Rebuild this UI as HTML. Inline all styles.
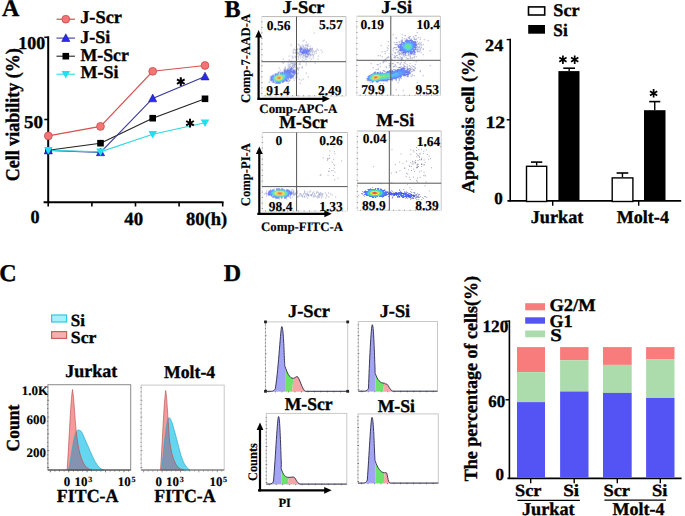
<!DOCTYPE html>
<html><head><meta charset="utf-8"><style>
html,body{margin:0;padding:0;background:#fff;overflow:hidden;width:685px;height:516px;}
svg{display:block;}
text{font-family:"Liberation Serif",serif;font-weight:bold;text-rendering:geometricPrecision;stroke:#000;stroke-width:0.35px;}
</style></head><body>
<svg width="685" height="516" viewBox="0 0 685 516">
<rect width="685" height="516" fill="#fff"/>
<text x="2.06" y="15.80" font-size="24" fill="#000" >A</text>
<line x1="48.2" y1="36.5" x2="48.2" y2="202.8" stroke="#000" stroke-width="2" />
<line x1="44.3" y1="37.3" x2="49" y2="37.3" stroke="#000" stroke-width="1.6" />
<line x1="44.3" y1="119.5" x2="49" y2="119.5" stroke="#000" stroke-width="1.6" />
<line x1="43.6" y1="202.2" x2="223.5" y2="202.2" stroke="#000" stroke-width="2" />
<line x1="48.2" y1="202" x2="48.2" y2="206.5" stroke="#000" stroke-width="1.6" />
<line x1="91.9" y1="202" x2="91.9" y2="206.5" stroke="#000" stroke-width="1.6" />
<line x1="135.5" y1="202" x2="135.5" y2="206.5" stroke="#000" stroke-width="1.6" />
<line x1="179.1" y1="202" x2="179.1" y2="206.5" stroke="#000" stroke-width="1.6" />
<line x1="222.7" y1="202" x2="222.7" y2="206.5" stroke="#000" stroke-width="1.6" />
<text transform="translate(18.37,49.10) scale(0.994,1)" font-size="18" fill="#000" >100</text>
<text transform="translate(23.94,128.20) scale(1.057,1)" font-size="18" fill="#000" >50</text>
<text transform="translate(30.48,222.60) scale(0.978,1)" font-size="18.5" fill="#000" >0</text>
<text transform="translate(124.21,225.00) scale(1.018,1)" font-size="18.5" fill="#000" >40</text>
<text x="186.05" y="225.00" font-size="18.5" fill="#000" >80(h)</text>
<text x="0" y="0" font-size="18" transform="translate(19.20,181.30) rotate(-90) scale(1,1.08)">Cell viability (%)</text>
<polyline points="48.3,135.9 100.5,126.4 152.7,71.3 205,65.5" fill="none" stroke="#d85050" stroke-width="1.15"/>
<polyline points="48.3,150.3 100.5,143.2 152.7,118.2 205,98.8" fill="none" stroke="#222" stroke-width="1.15"/>
<polyline points="48.3,150.5 100.5,152.3 152.7,98.4 205,76.5" fill="none" stroke="#3a3a9a" stroke-width="1.15"/>
<polyline points="48.3,150.3 100.5,151.8 152.7,134.3 205,122.7" fill="none" stroke="#30d8e0" stroke-width="1.15"/>
<circle cx="48.3" cy="135.9" r="3.9" fill="#f27676" stroke="#c84a4a" stroke-width="0.8"/>
<circle cx="100.5" cy="126.4" r="3.9" fill="#f27676" stroke="#c84a4a" stroke-width="0.8"/>
<circle cx="152.7" cy="71.3" r="3.9" fill="#f27676" stroke="#c84a4a" stroke-width="0.8"/>
<circle cx="205" cy="65.5" r="3.9" fill="#f27676" stroke="#c84a4a" stroke-width="0.8"/>
<rect x="45.0" y="147.0" width="6.6" height="6.6" fill="#000"/>
<rect x="97.2" y="139.89999999999998" width="6.6" height="6.6" fill="#000"/>
<rect x="149.39999999999998" y="114.9" width="6.6" height="6.6" fill="#000"/>
<rect x="201.7" y="95.5" width="6.6" height="6.6" fill="#000"/>
<path d="M48.3,146.2 L52.4,153.9 L44.199999999999996,153.9Z" fill="#2a2aee" stroke="#1c1c80" stroke-width="0.6" stroke-linejoin="round"/>
<path d="M100.5,148.0 L104.6,155.70000000000002 L96.4,155.70000000000002Z" fill="#2a2aee" stroke="#1c1c80" stroke-width="0.6" stroke-linejoin="round"/>
<path d="M152.7,94.10000000000001 L156.79999999999998,101.80000000000001 L148.6,101.80000000000001Z" fill="#2a2aee" stroke="#1c1c80" stroke-width="0.6" stroke-linejoin="round"/>
<path d="M205,72.2 L209.1,79.9 L200.9,79.9Z" fill="#2a2aee" stroke="#1c1c80" stroke-width="0.6" stroke-linejoin="round"/>
<path d="M48.3,154.5 L52.599999999999994,147.0 L44.0,147.0Z" fill="#20e0f0"/>
<path d="M100.5,156.0 L104.8,148.5 L96.2,148.5Z" fill="#20e0f0"/>
<path d="M152.7,138.5 L157.0,131.0 L148.39999999999998,131.0Z" fill="#20e0f0"/>
<path d="M205,126.9 L209.3,119.4 L200.7,119.4Z" fill="#20e0f0"/>
<line x1="56.5" y1="19.2" x2="74.9" y2="19.2" stroke="#b84848" stroke-width="1.1" />
<circle cx="65.8" cy="19.2" r="3.9" fill="#f27676" stroke="#c84a4a" stroke-width="0.8"/>
<line x1="56.5" y1="38.1" x2="74.9" y2="38.1" stroke="#3a3a9a" stroke-width="1.1" />
<path d="M65.8,33.800000000000004 L69.89999999999999,41.5 L61.699999999999996,41.5Z" fill="#2a2aee" stroke="#1c1c80" stroke-width="0.6" stroke-linejoin="round"/>
<line x1="56.5" y1="56.2" x2="74.9" y2="56.2" stroke="#222" stroke-width="1.1" />
<rect x="62.5" y="52.900000000000006" width="6.6" height="6.6" fill="#000"/>
<line x1="56.5" y1="74.2" x2="74.9" y2="74.2" stroke="#30d8e0" stroke-width="1.1" />
<path d="M65.8,78.4 L70.1,70.9 L61.5,70.9Z" fill="#20e0f0"/>
<text transform="translate(80.17,23.30) scale(1.021,1)" font-size="18" fill="#000" >J-Scr</text>
<text x="80.18" y="43.00" font-size="18" fill="#000" >J-Si</text>
<text transform="translate(80.54,60.80) scale(0.987,1)" font-size="18" fill="#000" >M-Scr</text>
<text x="80.54" y="77.90" font-size="18" fill="#000" >M-Si</text>
<path d="M180.80,86.00 L180.80,77.20 M176.99,83.80 L184.61,79.40 M176.99,79.40 L184.61,83.80 " stroke="#000" stroke-width="2.0" stroke-linecap="butt"/>
<path d="M190.00,127.60 L190.00,118.80 M186.19,125.40 L193.81,121.00 M186.19,121.00 L193.81,125.40 " stroke="#000" stroke-width="2.0" stroke-linecap="butt"/>
<text x="224.52" y="16.60" font-size="24" fill="#000" >B</text>
<rect x="261.70" y="16.60" width="84.30" height="79.40" fill="#fff" stroke="none" stroke-width="0" />
<line x1="261.7" y1="16.6" x2="346" y2="16.6" stroke="#b8b8b8" stroke-width="1" />
<line x1="346" y1="16.6" x2="346" y2="96" stroke="#c8c8c8" stroke-width="1" />
<line x1="261.7" y1="16.6" x2="261.7" y2="96" stroke="#e4e4e4" stroke-width="1" />
<line x1="261.7" y1="96" x2="346" y2="96" stroke="#e4e4e4" stroke-width="1" />
<rect x="261.2" y="93.0" width="1.4" height="0.8" fill="#909090"/>
<rect x="261.2" y="87.5" width="1.4" height="0.8" fill="#909090"/>
<rect x="261.2" y="82.0" width="1.4" height="0.8" fill="#909090"/>
<rect x="261.2" y="76.5" width="1.4" height="0.8" fill="#909090"/>
<rect x="261.2" y="71.0" width="1.4" height="0.8" fill="#909090"/>
<rect x="261.2" y="65.5" width="1.4" height="0.8" fill="#909090"/>
<rect x="261.2" y="60.0" width="1.4" height="0.8" fill="#909090"/>
<rect x="261.2" y="54.5" width="1.4" height="0.8" fill="#909090"/>
<rect x="261.2" y="49.0" width="1.4" height="0.8" fill="#909090"/>
<rect x="261.2" y="43.5" width="1.4" height="0.8" fill="#909090"/>
<rect x="261.2" y="38.0" width="1.4" height="0.8" fill="#909090"/>
<rect x="261.2" y="32.5" width="1.4" height="0.8" fill="#909090"/>
<rect x="261.2" y="27.0" width="1.4" height="0.8" fill="#909090"/>
<rect x="261.2" y="21.5" width="1.4" height="0.8" fill="#909090"/>
<rect x="264.7" y="95.0" width="0.8" height="1.4" fill="#a0a0a0"/>
<rect x="270.2" y="95.0" width="0.8" height="1.4" fill="#a0a0a0"/>
<rect x="275.7" y="95.0" width="0.8" height="1.4" fill="#a0a0a0"/>
<rect x="281.2" y="95.0" width="0.8" height="1.4" fill="#a0a0a0"/>
<rect x="286.7" y="95.0" width="0.8" height="1.4" fill="#a0a0a0"/>
<rect x="292.2" y="95.0" width="0.8" height="1.4" fill="#a0a0a0"/>
<rect x="297.7" y="95.0" width="0.8" height="1.4" fill="#a0a0a0"/>
<rect x="303.2" y="95.0" width="0.8" height="1.4" fill="#a0a0a0"/>
<rect x="308.7" y="95.0" width="0.8" height="1.4" fill="#a0a0a0"/>
<rect x="314.2" y="95.0" width="0.8" height="1.4" fill="#a0a0a0"/>
<rect x="319.7" y="95.0" width="0.8" height="1.4" fill="#a0a0a0"/>
<rect x="325.2" y="95.0" width="0.8" height="1.4" fill="#a0a0a0"/>
<rect x="330.7" y="95.0" width="0.8" height="1.4" fill="#a0a0a0"/>
<rect x="336.2" y="95.0" width="0.8" height="1.4" fill="#a0a0a0"/>
<rect x="341.7" y="95.0" width="0.8" height="1.4" fill="#a0a0a0"/>
<rect x="313.7" y="32.6" width="1" height="1" fill="#4650a0" fill-opacity="0.5"/>
<rect x="303.7" y="39.6" width="1" height="1" fill="#4650a0" fill-opacity="0.5"/>
<rect x="302.7" y="40.6" width="1" height="1" fill="#4650a0" fill-opacity="0.5"/>
<rect x="305.7" y="41.6" width="1" height="1" fill="#4650a0" fill-opacity="0.5"/>
<rect x="297.7" y="43.6" width="1" height="1" fill="#4650a0" fill-opacity="0.5"/>
<rect x="307.7" y="43.6" width="1" height="1" fill="#4650a0" fill-opacity="0.5"/>
<rect x="290.7" y="44.6" width="1" height="1" fill="#4650a0" fill-opacity="0.5"/>
<rect x="298.7" y="44.6" width="1" height="1" fill="#4650a0" fill-opacity="0.5"/>
<rect x="301.7" y="44.6" width="1" height="1" fill="#4650a0" fill-opacity="0.5"/>
<rect x="304.7" y="44.6" width="2" height="1" fill="#4650a0" fill-opacity="0.5"/>
<rect x="306.7" y="44.6" width="1" height="1" fill="#4650a0" fill-opacity="0.7"/>
<rect x="299.7" y="45.6" width="1" height="1" fill="#4650a0" fill-opacity="0.5"/>
<rect x="302.7" y="45.6" width="1" height="1" fill="#4650a0" fill-opacity="0.7"/>
<rect x="306.7" y="45.6" width="2" height="1" fill="#4650a0" fill-opacity="0.5"/>
<rect x="309.7" y="45.6" width="1" height="1" fill="#4650a0" fill-opacity="0.5"/>
<rect x="295.7" y="46.6" width="1" height="1" fill="#4650a0" fill-opacity="0.5"/>
<rect x="299.7" y="46.6" width="2" height="1" fill="#4650a0" fill-opacity="0.5"/>
<rect x="302.7" y="46.6" width="1" height="1" fill="#4650a0" fill-opacity="0.5"/>
<rect x="304.7" y="46.6" width="1" height="1" fill="#4650a0" fill-opacity="0.5"/>
<rect x="299.7" y="47.6" width="1" height="1" fill="#4650a0" fill-opacity="0.7"/>
<rect x="300.7" y="47.6" width="1" height="1" fill="#3b47eb"/>
<rect x="301.7" y="47.6" width="1" height="1" fill="#4650a0" fill-opacity="0.5"/>
<rect x="303.7" y="47.6" width="1" height="1" fill="#4650a0" fill-opacity="0.7"/>
<rect x="305.7" y="47.6" width="1" height="1" fill="#4650a0" fill-opacity="0.5"/>
<rect x="306.7" y="47.6" width="1" height="1" fill="#4650a0" fill-opacity="0.7"/>
<rect x="309.7" y="47.6" width="1" height="1" fill="#4650a0" fill-opacity="0.5"/>
<rect x="311.7" y="47.6" width="1" height="1" fill="#4650a0" fill-opacity="0.5"/>
<rect x="293.7" y="48.6" width="1" height="1" fill="#4650a0" fill-opacity="0.5"/>
<rect x="296.7" y="48.6" width="1" height="1" fill="#4650a0" fill-opacity="0.7"/>
<rect x="298.7" y="48.6" width="1" height="1" fill="#4650a0" fill-opacity="0.7"/>
<rect x="299.7" y="48.6" width="1" height="1" fill="#394aed"/>
<rect x="300.7" y="48.6" width="1" height="1" fill="#384cee"/>
<rect x="301.7" y="48.6" width="1" height="1" fill="#3a48ec"/>
<rect x="302.7" y="48.6" width="2" height="1" fill="#4650a0" fill-opacity="0.5"/>
<rect x="304.7" y="48.6" width="1" height="1" fill="#3b47eb"/>
<rect x="306.7" y="48.6" width="1" height="1" fill="#394aed"/>
<rect x="308.7" y="48.6" width="1" height="1" fill="#4650a0" fill-opacity="0.5"/>
<rect x="309.7" y="48.6" width="2" height="1" fill="#4650a0" fill-opacity="0.7"/>
<rect x="311.7" y="48.6" width="1" height="1" fill="#4650a0" fill-opacity="0.8"/>
<rect x="316.7" y="48.6" width="1" height="1" fill="#4650a0" fill-opacity="0.5"/>
<rect x="292.7" y="49.6" width="1" height="1" fill="#4650a0" fill-opacity="0.5"/>
<rect x="294.7" y="49.6" width="1" height="1" fill="#4650a0" fill-opacity="0.7"/>
<rect x="295.7" y="49.6" width="2" height="1" fill="#4650a0" fill-opacity="0.5"/>
<rect x="299.7" y="49.6" width="1" height="1" fill="#384cee"/>
<rect x="300.7" y="49.6" width="1" height="1" fill="#374fef"/>
<rect x="302.7" y="49.6" width="1" height="1" fill="#394bed"/>
<rect x="303.7" y="49.6" width="1" height="1" fill="#384cee"/>
<rect x="304.7" y="49.6" width="1" height="1" fill="#374eef"/>
<rect x="305.7" y="49.6" width="1" height="1" fill="#3651f0"/>
<rect x="306.7" y="49.6" width="1" height="1" fill="#3552f1"/>
<rect x="307.7" y="49.6" width="1" height="1" fill="#374eef"/>
<rect x="308.7" y="49.6" width="1" height="1" fill="#3a49ec"/>
<rect x="309.7" y="49.6" width="1" height="1" fill="#4650a0" fill-opacity="0.5"/>
<rect x="311.7" y="49.6" width="1" height="1" fill="#4650a0" fill-opacity="0.5"/>
<rect x="317.7" y="49.6" width="1" height="1" fill="#4650a0" fill-opacity="0.5"/>
<rect x="320.7" y="49.6" width="1" height="1" fill="#4650a0" fill-opacity="0.5"/>
<rect x="299.7" y="50.6" width="1" height="1" fill="#374eef"/>
<rect x="301.7" y="50.6" width="1" height="1" fill="#3650f0"/>
<rect x="302.7" y="50.6" width="1" height="1" fill="#374fef"/>
<rect x="303.7" y="50.6" width="1" height="1" fill="#3650f0"/>
<rect x="304.7" y="50.6" width="1" height="1" fill="#3552f1"/>
<rect x="305.7" y="50.6" width="2" height="1" fill="#3455f2"/>
<rect x="307.7" y="50.6" width="1" height="1" fill="#3552f1"/>
<rect x="308.7" y="50.6" width="1" height="1" fill="#394bed"/>
<rect x="309.7" y="50.6" width="1" height="1" fill="#4650a0" fill-opacity="0.5"/>
<rect x="310.7" y="50.6" width="1" height="1" fill="#4650a0" fill-opacity="0.7"/>
<rect x="312.7" y="50.6" width="1" height="1" fill="#4650a0" fill-opacity="0.5"/>
<rect x="314.7" y="50.6" width="2" height="1" fill="#4650a0" fill-opacity="0.5"/>
<rect x="292.7" y="51.6" width="1" height="1" fill="#4650a0" fill-opacity="0.5"/>
<rect x="294.7" y="51.6" width="1" height="1" fill="#4650a0" fill-opacity="0.5"/>
<rect x="296.7" y="51.6" width="1" height="1" fill="#4650a0" fill-opacity="0.5"/>
<rect x="298.7" y="51.6" width="1" height="1" fill="#4650a0" fill-opacity="0.5"/>
<rect x="299.7" y="51.6" width="1" height="1" fill="#384cee"/>
<rect x="300.7" y="51.6" width="4" height="1" fill="#3650f0"/>
<rect x="304.7" y="51.6" width="1" height="1" fill="#3552f1"/>
<rect x="305.7" y="51.6" width="2" height="1" fill="#3454f2"/>
<rect x="307.7" y="51.6" width="1" height="1" fill="#3651f0"/>
<rect x="309.7" y="51.6" width="1" height="1" fill="#4650a0" fill-opacity="0.5"/>
<rect x="311.7" y="51.6" width="1" height="1" fill="#4650a0" fill-opacity="0.7"/>
<rect x="313.7" y="51.6" width="1" height="1" fill="#4650a0" fill-opacity="0.5"/>
<rect x="321.7" y="51.6" width="1" height="1" fill="#4650a0" fill-opacity="0.5"/>
<rect x="292.7" y="52.6" width="1" height="1" fill="#4650a0" fill-opacity="0.5"/>
<rect x="294.7" y="52.6" width="1" height="1" fill="#4650a0" fill-opacity="0.5"/>
<rect x="295.7" y="52.6" width="1" height="1" fill="#4650a0" fill-opacity="0.7"/>
<rect x="296.7" y="52.6" width="1" height="1" fill="#4650a0" fill-opacity="0.5"/>
<rect x="297.7" y="52.6" width="1" height="1" fill="#4650a0" fill-opacity="0.7"/>
<rect x="301.7" y="52.6" width="3" height="1" fill="#394bed"/>
<rect x="304.7" y="52.6" width="1" height="1" fill="#384cee"/>
<rect x="305.7" y="52.6" width="1" height="1" fill="#374eef"/>
<rect x="306.7" y="52.6" width="1" height="1" fill="#374fef"/>
<rect x="308.7" y="52.6" width="1" height="1" fill="#3b46eb"/>
<rect x="315.7" y="52.6" width="1" height="1" fill="#4650a0" fill-opacity="0.5"/>
<rect x="296.7" y="53.6" width="1" height="1" fill="#4650a0" fill-opacity="0.5"/>
<rect x="298.7" y="53.6" width="5" height="1" fill="#4650a0" fill-opacity="0.5"/>
<rect x="304.7" y="53.6" width="2" height="1" fill="#4650a0" fill-opacity="0.5"/>
<rect x="306.7" y="53.6" width="1" height="1" fill="#3a48ec"/>
<rect x="307.7" y="53.6" width="1" height="1" fill="#3a49ec"/>
<rect x="308.7" y="53.6" width="1" height="1" fill="#4650a0" fill-opacity="0.7"/>
<rect x="309.7" y="53.6" width="1" height="1" fill="#4650a0" fill-opacity="0.5"/>
<rect x="311.7" y="53.6" width="1" height="1" fill="#4650a0" fill-opacity="0.7"/>
<rect x="313.7" y="53.6" width="1" height="1" fill="#4650a0" fill-opacity="0.5"/>
<rect x="298.7" y="54.6" width="1" height="1" fill="#4650a0" fill-opacity="0.5"/>
<rect x="300.7" y="54.6" width="1" height="1" fill="#4650a0" fill-opacity="0.5"/>
<rect x="302.7" y="54.6" width="2" height="1" fill="#4650a0" fill-opacity="0.5"/>
<rect x="304.7" y="54.6" width="1" height="1" fill="#4650a0" fill-opacity="0.7"/>
<rect x="307.7" y="54.6" width="1" height="1" fill="#4650a0" fill-opacity="0.7"/>
<rect x="309.7" y="54.6" width="2" height="1" fill="#4650a0" fill-opacity="0.5"/>
<rect x="312.7" y="54.6" width="1" height="1" fill="#4650a0" fill-opacity="0.5"/>
<rect x="288.7" y="55.6" width="1" height="1" fill="#4650a0" fill-opacity="0.5"/>
<rect x="291.7" y="55.6" width="1" height="1" fill="#4650a0" fill-opacity="0.5"/>
<rect x="294.7" y="55.6" width="1" height="1" fill="#4650a0" fill-opacity="0.5"/>
<rect x="297.7" y="55.6" width="1" height="1" fill="#4650a0" fill-opacity="0.5"/>
<rect x="299.7" y="55.6" width="1" height="1" fill="#4650a0" fill-opacity="0.5"/>
<rect x="302.7" y="55.6" width="1" height="1" fill="#4650a0" fill-opacity="0.5"/>
<rect x="304.7" y="55.6" width="2" height="1" fill="#4650a0" fill-opacity="0.5"/>
<rect x="306.7" y="55.6" width="1" height="1" fill="#4650a0" fill-opacity="0.7"/>
<rect x="307.7" y="55.6" width="1" height="1" fill="#4650a0" fill-opacity="0.5"/>
<rect x="309.7" y="55.6" width="1" height="1" fill="#4650a0" fill-opacity="0.5"/>
<rect x="312.7" y="55.6" width="1" height="1" fill="#4650a0" fill-opacity="0.5"/>
<rect x="317.7" y="55.6" width="1" height="1" fill="#4650a0" fill-opacity="0.5"/>
<rect x="292.7" y="56.6" width="1" height="1" fill="#4650a0" fill-opacity="0.5"/>
<rect x="294.7" y="56.6" width="2" height="1" fill="#4650a0" fill-opacity="0.5"/>
<rect x="297.7" y="56.6" width="1" height="1" fill="#4650a0" fill-opacity="0.5"/>
<rect x="301.7" y="56.6" width="1" height="1" fill="#4650a0" fill-opacity="0.5"/>
<rect x="304.7" y="56.6" width="1" height="1" fill="#4650a0" fill-opacity="0.7"/>
<rect x="305.7" y="56.6" width="1" height="1" fill="#4650a0" fill-opacity="0.5"/>
<rect x="306.7" y="56.6" width="1" height="1" fill="#4650a0" fill-opacity="0.7"/>
<rect x="291.7" y="57.6" width="1" height="1" fill="#4650a0" fill-opacity="0.5"/>
<rect x="295.7" y="57.6" width="1" height="1" fill="#4650a0" fill-opacity="0.5"/>
<rect x="299.7" y="57.6" width="1" height="1" fill="#4650a0" fill-opacity="0.5"/>
<rect x="302.7" y="57.6" width="1" height="1" fill="#4650a0" fill-opacity="0.5"/>
<rect x="308.7" y="57.6" width="1" height="1" fill="#4650a0" fill-opacity="0.5"/>
<rect x="312.7" y="57.6" width="1" height="1" fill="#4650a0" fill-opacity="0.5"/>
<rect x="282.7" y="58.6" width="1" height="1" fill="#4650a0" fill-opacity="0.5"/>
<rect x="295.7" y="58.6" width="1" height="1" fill="#4650a0" fill-opacity="0.5"/>
<rect x="297.7" y="58.6" width="1" height="1" fill="#4650a0" fill-opacity="0.5"/>
<rect x="304.7" y="58.6" width="2" height="1" fill="#4650a0" fill-opacity="0.5"/>
<rect x="310.7" y="58.6" width="1" height="1" fill="#4650a0" fill-opacity="0.5"/>
<rect x="317.7" y="58.6" width="1" height="1" fill="#4650a0" fill-opacity="0.5"/>
<rect x="288.7" y="59.6" width="1" height="1" fill="#4650a0" fill-opacity="0.5"/>
<rect x="301.7" y="59.6" width="1" height="1" fill="#4650a0" fill-opacity="0.5"/>
<rect x="290.7" y="60.6" width="2" height="1" fill="#4650a0" fill-opacity="0.5"/>
<rect x="294.7" y="60.6" width="1" height="1" fill="#4650a0" fill-opacity="0.5"/>
<rect x="298.7" y="60.6" width="1" height="1" fill="#4650a0" fill-opacity="0.5"/>
<rect x="302.7" y="60.6" width="2" height="1" fill="#4650a0" fill-opacity="0.5"/>
<rect x="306.7" y="60.6" width="1" height="1" fill="#4650a0" fill-opacity="0.5"/>
<rect x="309.7" y="60.6" width="1" height="1" fill="#4650a0" fill-opacity="0.5"/>
<rect x="281.7" y="61.6" width="1" height="1" fill="#4650a0" fill-opacity="0.5"/>
<rect x="283.7" y="61.6" width="1" height="1" fill="#4650a0" fill-opacity="0.5"/>
<rect x="287.7" y="61.6" width="1" height="1" fill="#4650a0" fill-opacity="0.5"/>
<rect x="289.7" y="61.6" width="1" height="1" fill="#4650a0" fill-opacity="0.5"/>
<rect x="294.7" y="61.6" width="1" height="1" fill="#4650a0" fill-opacity="0.5"/>
<rect x="299.7" y="61.6" width="1" height="1" fill="#4650a0" fill-opacity="0.5"/>
<rect x="282.7" y="62.6" width="1" height="1" fill="#4650a0" fill-opacity="0.5"/>
<rect x="290.7" y="62.6" width="4" height="1" fill="#4650a0" fill-opacity="0.5"/>
<rect x="295.7" y="62.6" width="1" height="1" fill="#4650a0" fill-opacity="0.8"/>
<rect x="305.7" y="62.6" width="1" height="1" fill="#4650a0" fill-opacity="0.5"/>
<rect x="314.7" y="62.6" width="1" height="1" fill="#4650a0" fill-opacity="0.5"/>
<rect x="287.7" y="63.6" width="1" height="1" fill="#4650a0" fill-opacity="0.5"/>
<rect x="289.7" y="63.6" width="1" height="1" fill="#4650a0" fill-opacity="0.5"/>
<rect x="291.7" y="63.6" width="1" height="1" fill="#4650a0" fill-opacity="0.5"/>
<rect x="293.7" y="63.6" width="1" height="1" fill="#4650a0" fill-opacity="0.5"/>
<rect x="294.7" y="63.6" width="1" height="1" fill="#4650a0" fill-opacity="0.8"/>
<rect x="295.7" y="63.6" width="1" height="1" fill="#4650a0" fill-opacity="0.5"/>
<rect x="298.7" y="63.6" width="1" height="1" fill="#4650a0" fill-opacity="0.7"/>
<rect x="299.7" y="63.6" width="1" height="1" fill="#4650a0" fill-opacity="0.5"/>
<rect x="288.7" y="64.6" width="1" height="1" fill="#4650a0" fill-opacity="0.5"/>
<rect x="292.7" y="64.6" width="1" height="1" fill="#4650a0" fill-opacity="0.7"/>
<rect x="293.7" y="64.6" width="3" height="1" fill="#4650a0" fill-opacity="0.5"/>
<rect x="305.7" y="64.6" width="1" height="1" fill="#4650a0" fill-opacity="0.5"/>
<rect x="287.7" y="65.6" width="1" height="1" fill="#4650a0" fill-opacity="0.5"/>
<rect x="289.7" y="65.6" width="1" height="1" fill="#4650a0" fill-opacity="0.7"/>
<rect x="291.7" y="65.6" width="1" height="1" fill="#4650a0" fill-opacity="0.8"/>
<rect x="293.7" y="65.6" width="1" height="1" fill="#4650a0" fill-opacity="0.7"/>
<rect x="284.7" y="66.6" width="1" height="1" fill="#4650a0" fill-opacity="0.5"/>
<rect x="288.7" y="66.6" width="1" height="1" fill="#4650a0" fill-opacity="0.5"/>
<rect x="290.7" y="66.6" width="1" height="1" fill="#4650a0" fill-opacity="0.5"/>
<rect x="292.7" y="66.6" width="4" height="1" fill="#4650a0" fill-opacity="0.5"/>
<rect x="301.7" y="66.6" width="1" height="1" fill="#4650a0" fill-opacity="0.7"/>
<rect x="278.7" y="67.6" width="1" height="1" fill="#4650a0" fill-opacity="0.5"/>
<rect x="284.7" y="67.6" width="1" height="1" fill="#4650a0" fill-opacity="0.5"/>
<rect x="287.7" y="67.6" width="3" height="1" fill="#4650a0" fill-opacity="0.5"/>
<rect x="290.7" y="67.6" width="1" height="1" fill="#3b47eb"/>
<rect x="291.7" y="67.6" width="1" height="1" fill="#4650a0" fill-opacity="0.7"/>
<rect x="292.7" y="67.6" width="1" height="1" fill="#4650a0" fill-opacity="0.5"/>
<rect x="296.7" y="67.6" width="1" height="1" fill="#4650a0" fill-opacity="0.7"/>
<rect x="297.7" y="67.6" width="2" height="1" fill="#4650a0" fill-opacity="0.5"/>
<rect x="301.7" y="67.6" width="1" height="1" fill="#4650a0" fill-opacity="0.5"/>
<rect x="283.7" y="68.6" width="2" height="1" fill="#4650a0" fill-opacity="0.5"/>
<rect x="286.7" y="68.6" width="2" height="1" fill="#4650a0" fill-opacity="0.5"/>
<rect x="289.7" y="68.6" width="1" height="1" fill="#394bed"/>
<rect x="290.7" y="68.6" width="1" height="1" fill="#384cee"/>
<rect x="291.7" y="68.6" width="1" height="1" fill="#3a48ec"/>
<rect x="294.7" y="68.6" width="1" height="1" fill="#4650a0" fill-opacity="0.5"/>
<rect x="296.7" y="68.6" width="1" height="1" fill="#4650a0" fill-opacity="0.5"/>
<rect x="279.7" y="69.6" width="1" height="1" fill="#4650a0" fill-opacity="0.5"/>
<rect x="283.7" y="69.6" width="2" height="1" fill="#4650a0" fill-opacity="0.7"/>
<rect x="285.7" y="69.6" width="1" height="1" fill="#4650a0" fill-opacity="0.5"/>
<rect x="286.7" y="69.6" width="1" height="1" fill="#3b46eb"/>
<rect x="287.7" y="69.6" width="1" height="1" fill="#394aed"/>
<rect x="288.7" y="69.6" width="1" height="1" fill="#384dee"/>
<rect x="289.7" y="69.6" width="1" height="1" fill="#374fef"/>
<rect x="290.7" y="69.6" width="1" height="1" fill="#374eef"/>
<rect x="292.7" y="69.6" width="1" height="1" fill="#394bed"/>
<rect x="293.7" y="69.6" width="1" height="1" fill="#3a49ec"/>
<rect x="295.7" y="69.6" width="1" height="1" fill="#4650a0" fill-opacity="0.7"/>
<rect x="297.7" y="69.6" width="1" height="1" fill="#4650a0" fill-opacity="0.7"/>
<rect x="283.7" y="70.6" width="1" height="1" fill="#3b47eb"/>
<rect x="284.7" y="70.6" width="1" height="1" fill="#384dee"/>
<rect x="285.7" y="70.6" width="1" height="1" fill="#374eef"/>
<rect x="286.7" y="70.6" width="2" height="1" fill="#384dee"/>
<rect x="288.7" y="70.6" width="1" height="1" fill="#3650f0"/>
<rect x="289.7" y="70.6" width="1" height="1" fill="#3651f0"/>
<rect x="290.7" y="70.6" width="1" height="1" fill="#374fef"/>
<rect x="291.7" y="70.6" width="1" height="1" fill="#374eef"/>
<rect x="292.7" y="70.6" width="2" height="1" fill="#374fef"/>
<rect x="294.7" y="70.6" width="1" height="1" fill="#3a48ec"/>
<rect x="277.7" y="71.6" width="3" height="1" fill="#4650a0" fill-opacity="0.5"/>
<rect x="281.7" y="71.6" width="1" height="1" fill="#3b47eb"/>
<rect x="283.7" y="71.6" width="1" height="1" fill="#3651f0"/>
<rect x="284.7" y="71.6" width="1" height="1" fill="#3356f3"/>
<rect x="285.7" y="71.6" width="1" height="1" fill="#3258f4"/>
<rect x="286.7" y="71.6" width="1" height="1" fill="#3455f2"/>
<rect x="287.7" y="71.6" width="1" height="1" fill="#3552f1"/>
<rect x="288.7" y="71.6" width="2" height="1" fill="#3651f0"/>
<rect x="290.7" y="71.6" width="1" height="1" fill="#374fef"/>
<rect x="291.7" y="71.6" width="1" height="1" fill="#384dee"/>
<rect x="292.7" y="71.6" width="2" height="1" fill="#374fef"/>
<rect x="294.7" y="71.6" width="1" height="1" fill="#394aed"/>
<rect x="277.7" y="72.6" width="1" height="1" fill="#3651f0"/>
<rect x="279.7" y="72.6" width="1" height="1" fill="#2e61f8"/>
<rect x="280.7" y="72.6" width="1" height="1" fill="#2d63f9"/>
<rect x="281.7" y="72.6" width="2" height="1" fill="#2e60f8"/>
<rect x="283.7" y="72.6" width="1" height="1" fill="#2d62f9"/>
<rect x="284.7" y="72.6" width="1" height="1" fill="#2c65fa"/>
<rect x="285.7" y="72.6" width="1" height="1" fill="#2c64fa"/>
<rect x="286.7" y="72.6" width="1" height="1" fill="#2e60f8"/>
<rect x="287.7" y="72.6" width="1" height="1" fill="#305cf6"/>
<rect x="288.7" y="72.6" width="1" height="1" fill="#3258f4"/>
<rect x="289.7" y="72.6" width="1" height="1" fill="#3455f2"/>
<rect x="291.7" y="72.6" width="1" height="1" fill="#374eef"/>
<rect x="292.7" y="72.6" width="1" height="1" fill="#384dee"/>
<rect x="293.7" y="72.6" width="1" height="1" fill="#384cee"/>
<rect x="294.7" y="72.6" width="1" height="1" fill="#3b47eb"/>
<rect x="297.7" y="72.6" width="1" height="1" fill="#4650a0" fill-opacity="0.5"/>
<rect x="305.7" y="72.6" width="1" height="1" fill="#4650a0" fill-opacity="0.5"/>
<rect x="274.7" y="73.6" width="1" height="1" fill="#374fef"/>
<rect x="275.7" y="73.6" width="1" height="1" fill="#315bf5"/>
<rect x="276.7" y="73.6" width="1" height="1" fill="#2b67fb"/>
<rect x="277.7" y="73.6" width="1" height="1" fill="#267afc"/>
<rect x="279.7" y="73.6" width="1" height="1" fill="#21acf1"/>
<rect x="280.7" y="73.6" width="1" height="1" fill="#21aaf1"/>
<rect x="281.7" y="73.6" width="1" height="1" fill="#2399f5"/>
<rect x="282.7" y="73.6" width="1" height="1" fill="#248ef7"/>
<rect x="283.7" y="73.6" width="1" height="1" fill="#248af8"/>
<rect x="284.7" y="73.6" width="1" height="1" fill="#267ffb"/>
<rect x="285.7" y="73.6" width="1" height="1" fill="#2770fe"/>
<rect x="286.7" y="73.6" width="1" height="1" fill="#2a69fc"/>
<rect x="287.7" y="73.6" width="1" height="1" fill="#2b66fb"/>
<rect x="288.7" y="73.6" width="1" height="1" fill="#2e61f8"/>
<rect x="289.7" y="73.6" width="1" height="1" fill="#2f5ef7"/>
<rect x="290.7" y="73.6" width="1" height="1" fill="#315af5"/>
<rect x="293.7" y="73.6" width="1" height="1" fill="#3a49ec"/>
<rect x="294.7" y="73.6" width="1" height="1" fill="#4650a0" fill-opacity="0.5"/>
<rect x="296.7" y="73.6" width="1" height="1" fill="#4650a0" fill-opacity="0.5"/>
<rect x="272.7" y="74.6" width="1" height="1" fill="#374fef"/>
<rect x="274.7" y="74.6" width="1" height="1" fill="#296bfd"/>
<rect x="275.7" y="74.6" width="1" height="1" fill="#248ff7"/>
<rect x="276.7" y="74.6" width="1" height="1" fill="#1ebfec"/>
<rect x="277.7" y="74.6" width="1" height="1" fill="#29cfae"/>
<rect x="278.7" y="74.6" width="1" height="1" fill="#34d776"/>
<rect x="279.7" y="74.6" width="1" height="1" fill="#38d963"/>
<rect x="280.7" y="74.6" width="1" height="1" fill="#33d67d"/>
<rect x="281.7" y="74.6" width="1" height="1" fill="#29cfaf"/>
<rect x="282.7" y="74.6" width="1" height="1" fill="#22cad5"/>
<rect x="283.7" y="74.6" width="1" height="1" fill="#1ec2ec"/>
<rect x="284.7" y="74.6" width="1" height="1" fill="#22a1f3"/>
<rect x="285.7" y="74.6" width="1" height="1" fill="#267ffb"/>
<rect x="286.7" y="74.6" width="1" height="1" fill="#276ffe"/>
<rect x="287.7" y="74.6" width="1" height="1" fill="#286cfe"/>
<rect x="288.7" y="74.6" width="1" height="1" fill="#2a68fc"/>
<rect x="289.7" y="74.6" width="1" height="1" fill="#2c64fa"/>
<rect x="290.7" y="74.6" width="1" height="1" fill="#2e61f8"/>
<rect x="291.7" y="74.6" width="1" height="1" fill="#305cf6"/>
<rect x="292.7" y="74.6" width="1" height="1" fill="#3552f1"/>
<rect x="293.7" y="74.6" width="1" height="1" fill="#4650a0" fill-opacity="0.5"/>
<rect x="270.7" y="75.6" width="1" height="1" fill="#4650a0" fill-opacity="0.5"/>
<rect x="271.7" y="75.6" width="1" height="1" fill="#3454f2"/>
<rect x="272.7" y="75.6" width="1" height="1" fill="#2b67fb"/>
<rect x="273.7" y="75.6" width="1" height="1" fill="#2491f7"/>
<rect x="274.7" y="75.6" width="1" height="1" fill="#1ec1ec"/>
<rect x="275.7" y="75.6" width="1" height="1" fill="#2bd0a6"/>
<rect x="276.7" y="75.6" width="1" height="1" fill="#47dc4d"/>
<rect x="277.7" y="75.6" width="1" height="1" fill="#b6e234"/>
<rect x="278.7" y="75.6" width="1" height="1" fill="#f0de27"/>
<rect x="279.7" y="75.6" width="1" height="1" fill="#f0e227"/>
<rect x="280.7" y="75.6" width="1" height="1" fill="#b0e236"/>
<rect x="281.7" y="75.6" width="1" height="1" fill="#56dd4a"/>
<rect x="282.7" y="75.6" width="1" height="1" fill="#33d67b"/>
<rect x="283.7" y="75.6" width="1" height="1" fill="#27ceb8"/>
<rect x="284.7" y="75.6" width="1" height="1" fill="#1fb6ee"/>
<rect x="285.7" y="75.6" width="1" height="1" fill="#2586f9"/>
<rect x="286.7" y="75.6" width="1" height="1" fill="#2770fe"/>
<rect x="287.7" y="75.6" width="1" height="1" fill="#286cfe"/>
<rect x="288.7" y="75.6" width="1" height="1" fill="#2a68fc"/>
<rect x="289.7" y="75.6" width="1" height="1" fill="#2d63f9"/>
<rect x="290.7" y="75.6" width="1" height="1" fill="#2f5ff7"/>
<rect x="291.7" y="75.6" width="1" height="1" fill="#3259f4"/>
<rect x="292.7" y="75.6" width="1" height="1" fill="#374eef"/>
<rect x="294.7" y="75.6" width="1" height="1" fill="#4650a0" fill-opacity="0.5"/>
<rect x="269.7" y="76.6" width="1" height="1" fill="#4650a0" fill-opacity="0.5"/>
<rect x="270.7" y="76.6" width="1" height="1" fill="#374fef"/>
<rect x="271.7" y="76.6" width="1" height="1" fill="#2d62f9"/>
<rect x="272.7" y="76.6" width="1" height="1" fill="#2490f7"/>
<rect x="273.7" y="76.6" width="1" height="1" fill="#22cad5"/>
<rect x="274.7" y="76.6" width="1" height="1" fill="#35d771"/>
<rect x="275.7" y="76.6" width="1" height="1" fill="#89e03e"/>
<rect x="276.7" y="76.6" width="1" height="1" fill="#f1d626"/>
<rect x="277.7" y="76.6" width="1" height="1" fill="#f97e1e"/>
<rect x="278.7" y="76.6" width="1" height="1" fill="#f0511e"/>
<rect x="279.7" y="76.6" width="1" height="1" fill="#f76d1e"/>
<rect x="280.7" y="76.6" width="1" height="1" fill="#f4b823"/>
<rect x="281.7" y="76.6" width="1" height="1" fill="#b3e235"/>
<rect x="282.7" y="76.6" width="1" height="1" fill="#3edc4f"/>
<rect x="283.7" y="76.6" width="1" height="1" fill="#29cfad"/>
<rect x="284.7" y="76.6" width="1" height="1" fill="#20b1ef"/>
<rect x="285.7" y="76.6" width="1" height="1" fill="#267dfb"/>
<rect x="286.7" y="76.6" width="1" height="1" fill="#296afd"/>
<rect x="287.7" y="76.6" width="1" height="1" fill="#2b66fb"/>
<rect x="288.7" y="76.6" width="1" height="1" fill="#2e61f8"/>
<rect x="289.7" y="76.6" width="1" height="1" fill="#315bf5"/>
<rect x="290.7" y="76.6" width="1" height="1" fill="#3455f2"/>
<rect x="291.7" y="76.6" width="1" height="1" fill="#374eef"/>
<rect x="292.7" y="76.6" width="1" height="1" fill="#4650a0" fill-opacity="0.5"/>
<rect x="296.7" y="76.6" width="1" height="1" fill="#4650a0" fill-opacity="0.5"/>
<rect x="307.7" y="76.6" width="1" height="1" fill="#4650a0" fill-opacity="0.5"/>
<rect x="270.7" y="77.6" width="1" height="1" fill="#3553f1"/>
<rect x="271.7" y="77.6" width="1" height="1" fill="#2a68fc"/>
<rect x="272.7" y="77.6" width="1" height="1" fill="#21a5f2"/>
<rect x="273.7" y="77.6" width="1" height="1" fill="#2cd19f"/>
<rect x="274.7" y="77.6" width="1" height="1" fill="#6fde44"/>
<rect x="275.7" y="77.6" width="1" height="1" fill="#f0e327"/>
<rect x="276.7" y="77.6" width="1" height="1" fill="#f8851f"/>
<rect x="277.7" y="77.6" width="1" height="1" fill="#ea3b1e"/>
<rect x="278.7" y="77.6" width="1" height="1" fill="#e6281e"/>
<rect x="279.7" y="77.6" width="1" height="1" fill="#f0531e"/>
<rect x="280.7" y="77.6" width="1" height="1" fill="#f5a422"/>
<rect x="281.7" y="77.6" width="1" height="1" fill="#bfe332"/>
<rect x="282.7" y="77.6" width="1" height="1" fill="#39da5f"/>
<rect x="283.7" y="77.6" width="1" height="1" fill="#21cad6"/>
<rect x="284.7" y="77.6" width="1" height="1" fill="#2393f6"/>
<rect x="285.7" y="77.6" width="1" height="1" fill="#296afd"/>
<rect x="286.7" y="77.6" width="1" height="1" fill="#2f5ff7"/>
<rect x="287.7" y="77.6" width="1" height="1" fill="#3258f4"/>
<rect x="289.7" y="77.6" width="1" height="1" fill="#374fef"/>
<rect x="290.7" y="77.6" width="1" height="1" fill="#3a49ec"/>
<rect x="292.7" y="77.6" width="1" height="1" fill="#4650a0" fill-opacity="0.5"/>
<rect x="294.7" y="77.6" width="1" height="1" fill="#4650a0" fill-opacity="0.5"/>
<rect x="269.7" y="78.6" width="1" height="1" fill="#4650a0" fill-opacity="0.5"/>
<rect x="270.7" y="78.6" width="1" height="1" fill="#3651f0"/>
<rect x="271.7" y="78.6" width="1" height="1" fill="#2c64fa"/>
<rect x="272.7" y="78.6" width="1" height="1" fill="#229bf4"/>
<rect x="273.7" y="78.6" width="1" height="1" fill="#29cfae"/>
<rect x="274.7" y="78.6" width="1" height="1" fill="#5fdd48"/>
<rect x="275.7" y="78.6" width="1" height="1" fill="#dde42c"/>
<rect x="276.7" y="78.6" width="1" height="1" fill="#f6a121"/>
<rect x="277.7" y="78.6" width="1" height="1" fill="#f76f1e"/>
<rect x="278.7" y="78.6" width="1" height="1" fill="#f8731e"/>
<rect x="279.7" y="78.6" width="1" height="1" fill="#f6a321"/>
<rect x="280.7" y="78.6" width="1" height="1" fill="#e7e529"/>
<rect x="281.7" y="78.6" width="1" height="1" fill="#6bde45"/>
<rect x="282.7" y="78.6" width="1" height="1" fill="#2ad0a9"/>
<rect x="283.7" y="78.6" width="1" height="1" fill="#21a5f2"/>
<rect x="284.7" y="78.6" width="1" height="1" fill="#276efe"/>
<rect x="285.7" y="78.6" width="1" height="1" fill="#2f5ef7"/>
<rect x="287.7" y="78.6" width="1" height="1" fill="#394aed"/>
<rect x="298.7" y="78.6" width="1" height="1" fill="#4650a0" fill-opacity="0.5"/>
<rect x="302.7" y="78.6" width="1" height="1" fill="#4650a0" fill-opacity="0.5"/>
<rect x="269.7" y="79.6" width="1" height="1" fill="#4650a0" fill-opacity="0.5"/>
<rect x="270.7" y="79.6" width="1" height="1" fill="#3a49ec"/>
<rect x="271.7" y="79.6" width="1" height="1" fill="#315bf5"/>
<rect x="272.7" y="79.6" width="1" height="1" fill="#2678fc"/>
<rect x="273.7" y="79.6" width="1" height="1" fill="#1fbced"/>
<rect x="274.7" y="79.6" width="1" height="1" fill="#2ed296"/>
<rect x="275.7" y="79.6" width="1" height="1" fill="#51dd4b"/>
<rect x="276.7" y="79.6" width="1" height="1" fill="#a7e138"/>
<rect x="277.7" y="79.6" width="1" height="1" fill="#d5e42d"/>
<rect x="278.7" y="79.6" width="1" height="1" fill="#c3e331"/>
<rect x="279.7" y="79.6" width="1" height="1" fill="#86e03f"/>
<rect x="280.7" y="79.6" width="1" height="1" fill="#3bdb55"/>
<rect x="281.7" y="79.6" width="1" height="1" fill="#2ad0ac"/>
<rect x="282.7" y="79.6" width="1" height="1" fill="#20adf0"/>
<rect x="283.7" y="79.6" width="1" height="1" fill="#2770fe"/>
<rect x="284.7" y="79.6" width="1" height="1" fill="#2f5ef7"/>
<rect x="285.7" y="79.6" width="1" height="1" fill="#3454f2"/>
<rect x="286.7" y="79.6" width="1" height="1" fill="#394bed"/>
<rect x="288.7" y="79.6" width="2" height="1" fill="#4650a0" fill-opacity="0.5"/>
<rect x="293.7" y="79.6" width="1" height="1" fill="#4650a0" fill-opacity="0.5"/>
<rect x="300.7" y="79.6" width="1" height="1" fill="#4650a0" fill-opacity="0.5"/>
<rect x="270.7" y="80.6" width="1" height="1" fill="#4650a0" fill-opacity="0.5"/>
<rect x="272.7" y="80.6" width="1" height="1" fill="#2f5ef7"/>
<rect x="274.7" y="80.6" width="1" height="1" fill="#22a2f3"/>
<rect x="275.7" y="80.6" width="1" height="1" fill="#1fc9e0"/>
<rect x="276.7" y="80.6" width="1" height="1" fill="#2bd0a7"/>
<rect x="277.7" y="80.6" width="1" height="1" fill="#30d48a"/>
<rect x="278.7" y="80.6" width="1" height="1" fill="#2dd29b"/>
<rect x="279.7" y="80.6" width="1" height="1" fill="#24cccb"/>
<rect x="280.7" y="80.6" width="1" height="1" fill="#20b5ef"/>
<rect x="281.7" y="80.6" width="1" height="1" fill="#248df8"/>
<rect x="282.7" y="80.6" width="1" height="1" fill="#2a69fc"/>
<rect x="283.7" y="80.6" width="1" height="1" fill="#3258f4"/>
<rect x="285.7" y="80.6" width="1" height="1" fill="#3b46eb"/>
<rect x="286.7" y="80.6" width="1" height="1" fill="#4650a0" fill-opacity="0.7"/>
<rect x="287.7" y="80.6" width="2" height="1" fill="#4650a0" fill-opacity="0.5"/>
<rect x="268.7" y="81.6" width="1" height="1" fill="#4650a0" fill-opacity="0.7"/>
<rect x="271.7" y="81.6" width="1" height="1" fill="#4650a0" fill-opacity="0.5"/>
<rect x="272.7" y="81.6" width="1" height="1" fill="#3b47eb"/>
<rect x="273.7" y="81.6" width="1" height="1" fill="#3553f1"/>
<rect x="275.7" y="81.6" width="1" height="1" fill="#286dfe"/>
<rect x="276.7" y="81.6" width="1" height="1" fill="#2586f9"/>
<rect x="277.7" y="81.6" width="1" height="1" fill="#2393f6"/>
<rect x="278.7" y="81.6" width="1" height="1" fill="#248bf8"/>
<rect x="279.7" y="81.6" width="1" height="1" fill="#2771fe"/>
<rect x="281.7" y="81.6" width="1" height="1" fill="#3357f3"/>
<rect x="282.7" y="81.6" width="1" height="1" fill="#384dee"/>
<rect x="274.7" y="82.6" width="1" height="1" fill="#4650a0" fill-opacity="0.5"/>
<rect x="275.7" y="82.6" width="1" height="1" fill="#374eef"/>
<rect x="276.7" y="82.6" width="1" height="1" fill="#3455f2"/>
<rect x="277.7" y="82.6" width="1" height="1" fill="#3258f4"/>
<rect x="278.7" y="82.6" width="1" height="1" fill="#3356f3"/>
<rect x="279.7" y="82.6" width="1" height="1" fill="#374fef"/>
<rect x="287.7" y="82.6" width="1" height="1" fill="#4650a0" fill-opacity="0.5"/>
<rect x="299.7" y="82.6" width="1" height="1" fill="#4650a0" fill-opacity="0.5"/>
<rect x="287.7" y="85.6" width="1" height="1" fill="#4650a0" fill-opacity="0.5"/>
<line x1="296.5" y1="16.6" x2="296.5" y2="96" stroke="#555" stroke-width="1" />
<line x1="261.7" y1="61.7" x2="346" y2="61.7" stroke="#555" stroke-width="1" />
<rect x="356.70" y="16.20" width="83.70" height="79.30" fill="#fff" stroke="none" stroke-width="0" />
<line x1="356.7" y1="16.2" x2="440.4" y2="16.2" stroke="#b8b8b8" stroke-width="1" />
<line x1="440.4" y1="16.2" x2="440.4" y2="95.5" stroke="#c8c8c8" stroke-width="1" />
<line x1="356.7" y1="16.2" x2="356.7" y2="95.5" stroke="#e4e4e4" stroke-width="1" />
<line x1="356.7" y1="95.5" x2="440.4" y2="95.5" stroke="#e4e4e4" stroke-width="1" />
<rect x="356.2" y="92.5" width="1.4" height="0.8" fill="#909090"/>
<rect x="356.2" y="87.0" width="1.4" height="0.8" fill="#909090"/>
<rect x="356.2" y="81.5" width="1.4" height="0.8" fill="#909090"/>
<rect x="356.2" y="76.0" width="1.4" height="0.8" fill="#909090"/>
<rect x="356.2" y="70.5" width="1.4" height="0.8" fill="#909090"/>
<rect x="356.2" y="65.0" width="1.4" height="0.8" fill="#909090"/>
<rect x="356.2" y="59.5" width="1.4" height="0.8" fill="#909090"/>
<rect x="356.2" y="54.0" width="1.4" height="0.8" fill="#909090"/>
<rect x="356.2" y="48.5" width="1.4" height="0.8" fill="#909090"/>
<rect x="356.2" y="43.0" width="1.4" height="0.8" fill="#909090"/>
<rect x="356.2" y="37.5" width="1.4" height="0.8" fill="#909090"/>
<rect x="356.2" y="32.0" width="1.4" height="0.8" fill="#909090"/>
<rect x="356.2" y="26.5" width="1.4" height="0.8" fill="#909090"/>
<rect x="356.2" y="21.0" width="1.4" height="0.8" fill="#909090"/>
<rect x="359.7" y="94.5" width="0.8" height="1.4" fill="#a0a0a0"/>
<rect x="365.2" y="94.5" width="0.8" height="1.4" fill="#a0a0a0"/>
<rect x="370.7" y="94.5" width="0.8" height="1.4" fill="#a0a0a0"/>
<rect x="376.2" y="94.5" width="0.8" height="1.4" fill="#a0a0a0"/>
<rect x="381.7" y="94.5" width="0.8" height="1.4" fill="#a0a0a0"/>
<rect x="387.2" y="94.5" width="0.8" height="1.4" fill="#a0a0a0"/>
<rect x="392.7" y="94.5" width="0.8" height="1.4" fill="#a0a0a0"/>
<rect x="398.2" y="94.5" width="0.8" height="1.4" fill="#a0a0a0"/>
<rect x="403.7" y="94.5" width="0.8" height="1.4" fill="#a0a0a0"/>
<rect x="409.2" y="94.5" width="0.8" height="1.4" fill="#a0a0a0"/>
<rect x="414.7" y="94.5" width="0.8" height="1.4" fill="#a0a0a0"/>
<rect x="420.2" y="94.5" width="0.8" height="1.4" fill="#a0a0a0"/>
<rect x="425.7" y="94.5" width="0.8" height="1.4" fill="#a0a0a0"/>
<rect x="431.2" y="94.5" width="0.8" height="1.4" fill="#a0a0a0"/>
<rect x="436.7" y="94.5" width="0.8" height="1.4" fill="#a0a0a0"/>
<rect x="416.7" y="32.2" width="1" height="1" fill="#4650a0" fill-opacity="0.5"/>
<rect x="392.7" y="34.2" width="1" height="1" fill="#4650a0" fill-opacity="0.5"/>
<rect x="401.7" y="34.2" width="1" height="1" fill="#4650a0" fill-opacity="0.5"/>
<rect x="404.7" y="35.2" width="1" height="1" fill="#4650a0" fill-opacity="0.8"/>
<rect x="414.7" y="35.2" width="2" height="1" fill="#4650a0" fill-opacity="0.5"/>
<rect x="408.7" y="36.2" width="2" height="1" fill="#4650a0" fill-opacity="0.5"/>
<rect x="412.7" y="36.2" width="1" height="1" fill="#4650a0" fill-opacity="0.5"/>
<rect x="395.7" y="37.2" width="1" height="1" fill="#4650a0" fill-opacity="0.5"/>
<rect x="401.7" y="37.2" width="1" height="1" fill="#4650a0" fill-opacity="0.5"/>
<rect x="407.7" y="37.2" width="2" height="1" fill="#4650a0" fill-opacity="0.5"/>
<rect x="413.7" y="37.2" width="1" height="1" fill="#4650a0" fill-opacity="0.5"/>
<rect x="417.7" y="37.2" width="1" height="1" fill="#4650a0" fill-opacity="0.5"/>
<rect x="419.7" y="37.2" width="1" height="1" fill="#4650a0" fill-opacity="0.5"/>
<rect x="395.7" y="38.2" width="1" height="1" fill="#4650a0" fill-opacity="0.5"/>
<rect x="403.7" y="38.2" width="1" height="1" fill="#4650a0" fill-opacity="0.5"/>
<rect x="405.7" y="38.2" width="1" height="1" fill="#4650a0" fill-opacity="0.5"/>
<rect x="408.7" y="38.2" width="1" height="1" fill="#4650a0" fill-opacity="0.7"/>
<rect x="410.7" y="38.2" width="1" height="1" fill="#4650a0" fill-opacity="0.5"/>
<rect x="413.7" y="38.2" width="1" height="1" fill="#4650a0" fill-opacity="0.5"/>
<rect x="415.7" y="38.2" width="1" height="1" fill="#4650a0" fill-opacity="0.5"/>
<rect x="401.7" y="39.2" width="1" height="1" fill="#4650a0" fill-opacity="0.5"/>
<rect x="405.7" y="39.2" width="1" height="1" fill="#4650a0" fill-opacity="0.5"/>
<rect x="406.7" y="39.2" width="1" height="1" fill="#4650a0" fill-opacity="0.7"/>
<rect x="409.7" y="39.2" width="1" height="1" fill="#4650a0" fill-opacity="0.5"/>
<rect x="410.7" y="39.2" width="1" height="1" fill="#4650a0" fill-opacity="0.7"/>
<rect x="413.7" y="39.2" width="3" height="1" fill="#4650a0" fill-opacity="0.5"/>
<rect x="419.7" y="39.2" width="1" height="1" fill="#4650a0" fill-opacity="0.5"/>
<rect x="423.7" y="39.2" width="1" height="1" fill="#4650a0" fill-opacity="0.5"/>
<rect x="400.7" y="40.2" width="1" height="1" fill="#4650a0" fill-opacity="0.5"/>
<rect x="401.7" y="40.2" width="1" height="1" fill="#4650a0" fill-opacity="0.7"/>
<rect x="404.7" y="40.2" width="1" height="1" fill="#4650a0" fill-opacity="0.5"/>
<rect x="405.7" y="40.2" width="1" height="1" fill="#384cee"/>
<rect x="406.7" y="40.2" width="1" height="1" fill="#3552f1"/>
<rect x="407.7" y="40.2" width="1" height="1" fill="#3553f1"/>
<rect x="408.7" y="40.2" width="1" height="1" fill="#3552f1"/>
<rect x="409.7" y="40.2" width="2" height="1" fill="#3651f0"/>
<rect x="411.7" y="40.2" width="1" height="1" fill="#384dee"/>
<rect x="427.7" y="40.2" width="1" height="1" fill="#4650a0" fill-opacity="0.5"/>
<rect x="387.7" y="41.2" width="1" height="1" fill="#4650a0" fill-opacity="0.5"/>
<rect x="398.7" y="41.2" width="1" height="1" fill="#4650a0" fill-opacity="0.5"/>
<rect x="400.7" y="41.2" width="1" height="1" fill="#4650a0" fill-opacity="0.5"/>
<rect x="401.7" y="41.2" width="1" height="1" fill="#4650a0" fill-opacity="0.7"/>
<rect x="404.7" y="41.2" width="1" height="1" fill="#3552f1"/>
<rect x="405.7" y="41.2" width="1" height="1" fill="#315bf5"/>
<rect x="406.7" y="41.2" width="1" height="1" fill="#2e61f8"/>
<rect x="407.7" y="41.2" width="1" height="1" fill="#2d62f9"/>
<rect x="408.7" y="41.2" width="1" height="1" fill="#2e61f8"/>
<rect x="410.7" y="41.2" width="1" height="1" fill="#2f5ef7"/>
<rect x="411.7" y="41.2" width="1" height="1" fill="#315af5"/>
<rect x="412.7" y="41.2" width="1" height="1" fill="#3454f2"/>
<rect x="413.7" y="41.2" width="1" height="1" fill="#374eef"/>
<rect x="414.7" y="41.2" width="1" height="1" fill="#3b46eb"/>
<rect x="416.7" y="41.2" width="1" height="1" fill="#4650a0" fill-opacity="0.7"/>
<rect x="393.7" y="42.2" width="1" height="1" fill="#4650a0" fill-opacity="0.5"/>
<rect x="395.7" y="42.2" width="2" height="1" fill="#4650a0" fill-opacity="0.5"/>
<rect x="398.7" y="42.2" width="1" height="1" fill="#4650a0" fill-opacity="0.5"/>
<rect x="400.7" y="42.2" width="1" height="1" fill="#4650a0" fill-opacity="0.5"/>
<rect x="401.7" y="42.2" width="1" height="1" fill="#384dee"/>
<rect x="402.7" y="42.2" width="1" height="1" fill="#3356f3"/>
<rect x="403.7" y="42.2" width="1" height="1" fill="#305cf6"/>
<rect x="405.7" y="42.2" width="1" height="1" fill="#276efe"/>
<rect x="406.7" y="42.2" width="1" height="1" fill="#267dfb"/>
<rect x="407.7" y="42.2" width="1" height="1" fill="#2580fa"/>
<rect x="408.7" y="42.2" width="1" height="1" fill="#267afc"/>
<rect x="409.7" y="42.2" width="1" height="1" fill="#2772fd"/>
<rect x="410.7" y="42.2" width="1" height="1" fill="#286cfe"/>
<rect x="411.7" y="42.2" width="1" height="1" fill="#2b66fb"/>
<rect x="412.7" y="42.2" width="1" height="1" fill="#2f5ef7"/>
<rect x="413.7" y="42.2" width="1" height="1" fill="#3357f3"/>
<rect x="414.7" y="42.2" width="1" height="1" fill="#374fef"/>
<rect x="415.7" y="42.2" width="1" height="1" fill="#4650a0" fill-opacity="0.5"/>
<rect x="418.7" y="42.2" width="1" height="1" fill="#4650a0" fill-opacity="0.5"/>
<rect x="420.7" y="42.2" width="1" height="1" fill="#4650a0" fill-opacity="0.5"/>
<rect x="400.7" y="43.2" width="1" height="1" fill="#384cee"/>
<rect x="402.7" y="43.2" width="1" height="1" fill="#2d62f9"/>
<rect x="403.7" y="43.2" width="1" height="1" fill="#276efe"/>
<rect x="404.7" y="43.2" width="1" height="1" fill="#248cf8"/>
<rect x="405.7" y="43.2" width="1" height="1" fill="#21a6f2"/>
<rect x="406.7" y="43.2" width="1" height="1" fill="#20b4ef"/>
<rect x="407.7" y="43.2" width="1" height="1" fill="#20b5ef"/>
<rect x="408.7" y="43.2" width="1" height="1" fill="#21acf1"/>
<rect x="409.7" y="43.2" width="1" height="1" fill="#229ef4"/>
<rect x="410.7" y="43.2" width="1" height="1" fill="#248ff7"/>
<rect x="411.7" y="43.2" width="1" height="1" fill="#2677fc"/>
<rect x="412.7" y="43.2" width="1" height="1" fill="#2c65fa"/>
<rect x="413.7" y="43.2" width="1" height="1" fill="#315bf5"/>
<rect x="414.7" y="43.2" width="1" height="1" fill="#3651f0"/>
<rect x="415.7" y="43.2" width="1" height="1" fill="#4650a0" fill-opacity="0.5"/>
<rect x="417.7" y="43.2" width="1" height="1" fill="#4650a0" fill-opacity="0.7"/>
<rect x="419.7" y="43.2" width="1" height="1" fill="#4650a0" fill-opacity="0.5"/>
<rect x="394.7" y="44.2" width="2" height="1" fill="#4650a0" fill-opacity="0.5"/>
<rect x="396.7" y="44.2" width="1" height="1" fill="#4650a0" fill-opacity="0.7"/>
<rect x="398.7" y="44.2" width="1" height="1" fill="#394aed"/>
<rect x="399.7" y="44.2" width="1" height="1" fill="#3650f0"/>
<rect x="400.7" y="44.2" width="1" height="1" fill="#3454f2"/>
<rect x="401.7" y="44.2" width="1" height="1" fill="#305df6"/>
<rect x="402.7" y="44.2" width="1" height="1" fill="#286dfe"/>
<rect x="403.7" y="44.2" width="1" height="1" fill="#2397f5"/>
<rect x="404.7" y="44.2" width="1" height="1" fill="#1ec1ec"/>
<rect x="405.7" y="44.2" width="1" height="1" fill="#24ccc8"/>
<rect x="406.7" y="44.2" width="1" height="1" fill="#29cfb1"/>
<rect x="407.7" y="44.2" width="1" height="1" fill="#2ad0ab"/>
<rect x="408.7" y="44.2" width="1" height="1" fill="#26cdbd"/>
<rect x="409.7" y="44.2" width="1" height="1" fill="#20c9e0"/>
<rect x="410.7" y="44.2" width="1" height="1" fill="#20b2ef"/>
<rect x="411.7" y="44.2" width="1" height="1" fill="#2490f7"/>
<rect x="412.7" y="44.2" width="1" height="1" fill="#286cfe"/>
<rect x="413.7" y="44.2" width="1" height="1" fill="#2f5ef7"/>
<rect x="414.7" y="44.2" width="1" height="1" fill="#3553f1"/>
<rect x="415.7" y="44.2" width="1" height="1" fill="#3b47eb"/>
<rect x="416.7" y="44.2" width="1" height="1" fill="#4650a0" fill-opacity="0.5"/>
<rect x="418.7" y="44.2" width="1" height="1" fill="#4650a0" fill-opacity="0.5"/>
<rect x="420.7" y="44.2" width="1" height="1" fill="#4650a0" fill-opacity="0.5"/>
<rect x="422.7" y="44.2" width="1" height="1" fill="#4650a0" fill-opacity="0.5"/>
<rect x="380.7" y="45.2" width="1" height="1" fill="#4650a0" fill-opacity="0.5"/>
<rect x="387.7" y="45.2" width="1" height="1" fill="#4650a0" fill-opacity="0.5"/>
<rect x="397.7" y="45.2" width="1" height="1" fill="#394aed"/>
<rect x="399.7" y="45.2" width="1" height="1" fill="#3455f2"/>
<rect x="400.7" y="45.2" width="1" height="1" fill="#3258f4"/>
<rect x="402.7" y="45.2" width="1" height="1" fill="#2581fa"/>
<rect x="403.7" y="45.2" width="1" height="1" fill="#1fb9ee"/>
<rect x="404.7" y="45.2" width="1" height="1" fill="#27ceb8"/>
<rect x="405.7" y="45.2" width="1" height="1" fill="#30d489"/>
<rect x="406.7" y="45.2" width="1" height="1" fill="#36d86b"/>
<rect x="407.7" y="45.2" width="1" height="1" fill="#39da5c"/>
<rect x="408.7" y="45.2" width="1" height="1" fill="#35d770"/>
<rect x="409.7" y="45.2" width="1" height="1" fill="#2bd1a4"/>
<rect x="410.7" y="45.2" width="1" height="1" fill="#1fc8e5"/>
<rect x="411.7" y="45.2" width="1" height="1" fill="#229ff3"/>
<rect x="412.7" y="45.2" width="1" height="1" fill="#2776fd"/>
<rect x="413.7" y="45.2" width="1" height="1" fill="#2d62f9"/>
<rect x="414.7" y="45.2" width="1" height="1" fill="#3356f3"/>
<rect x="415.7" y="45.2" width="1" height="1" fill="#394aed"/>
<rect x="420.7" y="45.2" width="1" height="1" fill="#4650a0" fill-opacity="0.5"/>
<rect x="397.7" y="46.2" width="1" height="1" fill="#394aed"/>
<rect x="398.7" y="46.2" width="1" height="1" fill="#3552f1"/>
<rect x="399.7" y="46.2" width="1" height="1" fill="#3455f2"/>
<rect x="400.7" y="46.2" width="1" height="1" fill="#315af5"/>
<rect x="401.7" y="46.2" width="1" height="1" fill="#2b66fb"/>
<rect x="402.7" y="46.2" width="1" height="1" fill="#248cf8"/>
<rect x="403.7" y="46.2" width="1" height="1" fill="#1ec3ec"/>
<rect x="404.7" y="46.2" width="1" height="1" fill="#2bd0a6"/>
<rect x="405.7" y="46.2" width="1" height="1" fill="#35d773"/>
<rect x="406.7" y="46.2" width="1" height="1" fill="#3bdb52"/>
<rect x="407.7" y="46.2" width="1" height="1" fill="#4fdd4b"/>
<rect x="408.7" y="46.2" width="1" height="1" fill="#3bdb50"/>
<rect x="409.7" y="46.2" width="1" height="1" fill="#30d48d"/>
<rect x="410.7" y="46.2" width="1" height="1" fill="#20c9dc"/>
<rect x="411.7" y="46.2" width="1" height="1" fill="#229ff3"/>
<rect x="412.7" y="46.2" width="1" height="1" fill="#2774fd"/>
<rect x="413.7" y="46.2" width="1" height="1" fill="#2d62f9"/>
<rect x="414.7" y="46.2" width="1" height="1" fill="#3356f3"/>
<rect x="416.7" y="46.2" width="1" height="1" fill="#4650a0" fill-opacity="0.7"/>
<rect x="418.7" y="46.2" width="1" height="1" fill="#4650a0" fill-opacity="0.7"/>
<rect x="386.7" y="47.2" width="1" height="1" fill="#4650a0" fill-opacity="0.5"/>
<rect x="393.7" y="47.2" width="1" height="1" fill="#4650a0" fill-opacity="0.7"/>
<rect x="394.7" y="47.2" width="2" height="1" fill="#4650a0" fill-opacity="0.5"/>
<rect x="397.7" y="47.2" width="1" height="1" fill="#4650a0" fill-opacity="0.5"/>
<rect x="398.7" y="47.2" width="1" height="1" fill="#394bed"/>
<rect x="399.7" y="47.2" width="1" height="1" fill="#3552f1"/>
<rect x="400.7" y="47.2" width="1" height="1" fill="#315af5"/>
<rect x="401.7" y="47.2" width="1" height="1" fill="#2b67fb"/>
<rect x="402.7" y="47.2" width="1" height="1" fill="#2586f9"/>
<rect x="403.7" y="47.2" width="1" height="1" fill="#20b2ef"/>
<rect x="404.7" y="47.2" width="1" height="1" fill="#24ccc7"/>
<rect x="405.7" y="47.2" width="1" height="1" fill="#2fd392"/>
<rect x="406.7" y="47.2" width="1" height="1" fill="#35d770"/>
<rect x="407.7" y="47.2" width="1" height="1" fill="#39da5b"/>
<rect x="408.7" y="47.2" width="1" height="1" fill="#37d964"/>
<rect x="409.7" y="47.2" width="1" height="1" fill="#2cd19d"/>
<rect x="410.7" y="47.2" width="1" height="1" fill="#1ec6eb"/>
<rect x="411.7" y="47.2" width="1" height="1" fill="#2394f6"/>
<rect x="412.7" y="47.2" width="1" height="1" fill="#296bfd"/>
<rect x="413.7" y="47.2" width="1" height="1" fill="#305cf6"/>
<rect x="414.7" y="47.2" width="1" height="1" fill="#3651f0"/>
<rect x="415.7" y="47.2" width="1" height="1" fill="#3b46eb"/>
<rect x="417.7" y="47.2" width="2" height="1" fill="#4650a0" fill-opacity="0.5"/>
<rect x="420.7" y="47.2" width="1" height="1" fill="#4650a0" fill-opacity="0.7"/>
<rect x="387.7" y="48.2" width="1" height="1" fill="#4650a0" fill-opacity="0.5"/>
<rect x="392.7" y="48.2" width="1" height="1" fill="#4650a0" fill-opacity="0.5"/>
<rect x="399.7" y="48.2" width="1" height="1" fill="#374fef"/>
<rect x="400.7" y="48.2" width="1" height="1" fill="#3259f4"/>
<rect x="401.7" y="48.2" width="1" height="1" fill="#2c65fa"/>
<rect x="402.7" y="48.2" width="1" height="1" fill="#2776fd"/>
<rect x="403.7" y="48.2" width="1" height="1" fill="#2393f6"/>
<rect x="404.7" y="48.2" width="1" height="1" fill="#20b4ef"/>
<rect x="405.7" y="48.2" width="1" height="1" fill="#21cada"/>
<rect x="406.7" y="48.2" width="1" height="1" fill="#28ceb7"/>
<rect x="407.7" y="48.2" width="1" height="1" fill="#2cd19e"/>
<rect x="408.7" y="48.2" width="1" height="1" fill="#2cd1a2"/>
<rect x="409.7" y="48.2" width="1" height="1" fill="#23cbd1"/>
<rect x="410.7" y="48.2" width="1" height="1" fill="#21abf1"/>
<rect x="411.7" y="48.2" width="1" height="1" fill="#267efb"/>
<rect x="412.7" y="48.2" width="1" height="1" fill="#2c64fa"/>
<rect x="414.7" y="48.2" width="1" height="1" fill="#374fef"/>
<rect x="416.7" y="48.2" width="1" height="1" fill="#4650a0" fill-opacity="0.5"/>
<rect x="419.7" y="48.2" width="1" height="1" fill="#4650a0" fill-opacity="0.5"/>
<rect x="422.7" y="48.2" width="1" height="1" fill="#4650a0" fill-opacity="0.5"/>
<rect x="395.7" y="49.2" width="1" height="1" fill="#4650a0" fill-opacity="0.7"/>
<rect x="396.7" y="49.2" width="1" height="1" fill="#4650a0" fill-opacity="0.5"/>
<rect x="398.7" y="49.2" width="1" height="1" fill="#4650a0" fill-opacity="0.5"/>
<rect x="399.7" y="49.2" width="1" height="1" fill="#374eef"/>
<rect x="400.7" y="49.2" width="1" height="1" fill="#3357f3"/>
<rect x="401.7" y="49.2" width="1" height="1" fill="#2f5ff7"/>
<rect x="402.7" y="49.2" width="1" height="1" fill="#2b67fb"/>
<rect x="403.7" y="49.2" width="1" height="1" fill="#2770fe"/>
<rect x="404.7" y="49.2" width="1" height="1" fill="#2587f9"/>
<rect x="405.7" y="49.2" width="1" height="1" fill="#22a2f3"/>
<rect x="406.7" y="49.2" width="1" height="1" fill="#1fb9ee"/>
<rect x="407.7" y="49.2" width="1" height="1" fill="#1ec5eb"/>
<rect x="408.7" y="49.2" width="1" height="1" fill="#1ebfec"/>
<rect x="409.7" y="49.2" width="1" height="1" fill="#21a6f2"/>
<rect x="410.7" y="49.2" width="1" height="1" fill="#2583fa"/>
<rect x="411.7" y="49.2" width="1" height="1" fill="#2a68fc"/>
<rect x="412.7" y="49.2" width="1" height="1" fill="#2f5ef7"/>
<rect x="413.7" y="49.2" width="1" height="1" fill="#3357f3"/>
<rect x="414.7" y="49.2" width="1" height="1" fill="#374fef"/>
<rect x="415.7" y="49.2" width="2" height="1" fill="#4650a0" fill-opacity="0.5"/>
<rect x="417.7" y="49.2" width="1" height="1" fill="#4650a0" fill-opacity="0.7"/>
<rect x="419.7" y="49.2" width="1" height="1" fill="#4650a0" fill-opacity="0.5"/>
<rect x="422.7" y="49.2" width="1" height="1" fill="#4650a0" fill-opacity="0.5"/>
<rect x="386.7" y="50.2" width="1" height="1" fill="#4650a0" fill-opacity="0.5"/>
<rect x="392.7" y="50.2" width="1" height="1" fill="#4650a0" fill-opacity="0.5"/>
<rect x="398.7" y="50.2" width="1" height="1" fill="#4650a0" fill-opacity="0.7"/>
<rect x="399.7" y="50.2" width="1" height="1" fill="#3a48ec"/>
<rect x="400.7" y="50.2" width="1" height="1" fill="#374fef"/>
<rect x="401.7" y="50.2" width="1" height="1" fill="#3455f2"/>
<rect x="402.7" y="50.2" width="1" height="1" fill="#315af5"/>
<rect x="403.7" y="50.2" width="1" height="1" fill="#2e61f8"/>
<rect x="404.7" y="50.2" width="1" height="1" fill="#296afd"/>
<rect x="405.7" y="50.2" width="1" height="1" fill="#267cfb"/>
<rect x="406.7" y="50.2" width="1" height="1" fill="#248df8"/>
<rect x="407.7" y="50.2" width="1" height="1" fill="#2490f7"/>
<rect x="408.7" y="50.2" width="1" height="1" fill="#2586f9"/>
<rect x="409.7" y="50.2" width="1" height="1" fill="#2774fd"/>
<rect x="410.7" y="50.2" width="1" height="1" fill="#2b67fb"/>
<rect x="412.7" y="50.2" width="1" height="1" fill="#3356f3"/>
<rect x="413.7" y="50.2" width="1" height="1" fill="#3651f0"/>
<rect x="416.7" y="50.2" width="1" height="1" fill="#4650a0" fill-opacity="0.5"/>
<rect x="419.7" y="50.2" width="1" height="1" fill="#4650a0" fill-opacity="0.5"/>
<rect x="429.7" y="50.2" width="1" height="1" fill="#4650a0" fill-opacity="0.5"/>
<rect x="381.7" y="51.2" width="1" height="1" fill="#4650a0" fill-opacity="0.5"/>
<rect x="384.7" y="51.2" width="1" height="1" fill="#4650a0" fill-opacity="0.5"/>
<rect x="397.7" y="51.2" width="1" height="1" fill="#4650a0" fill-opacity="0.8"/>
<rect x="400.7" y="51.2" width="1" height="1" fill="#4650a0" fill-opacity="0.5"/>
<rect x="402.7" y="51.2" width="1" height="1" fill="#374fef"/>
<rect x="403.7" y="51.2" width="1" height="1" fill="#3356f3"/>
<rect x="404.7" y="51.2" width="1" height="1" fill="#305df6"/>
<rect x="405.7" y="51.2" width="1" height="1" fill="#2c64fa"/>
<rect x="406.7" y="51.2" width="1" height="1" fill="#2a68fc"/>
<rect x="407.7" y="51.2" width="1" height="1" fill="#2b66fb"/>
<rect x="408.7" y="51.2" width="1" height="1" fill="#2d63f9"/>
<rect x="409.7" y="51.2" width="1" height="1" fill="#2e60f8"/>
<rect x="410.7" y="51.2" width="1" height="1" fill="#315bf5"/>
<rect x="411.7" y="51.2" width="1" height="1" fill="#3455f2"/>
<rect x="412.7" y="51.2" width="1" height="1" fill="#374fef"/>
<rect x="413.7" y="51.2" width="1" height="1" fill="#394bed"/>
<rect x="414.7" y="51.2" width="1" height="1" fill="#4650a0" fill-opacity="0.5"/>
<rect x="416.7" y="51.2" width="3" height="1" fill="#4650a0" fill-opacity="0.5"/>
<rect x="394.7" y="52.2" width="1" height="1" fill="#4650a0" fill-opacity="0.7"/>
<rect x="396.7" y="52.2" width="1" height="1" fill="#4650a0" fill-opacity="0.5"/>
<rect x="398.7" y="52.2" width="1" height="1" fill="#4650a0" fill-opacity="0.5"/>
<rect x="400.7" y="52.2" width="1" height="1" fill="#4650a0" fill-opacity="0.5"/>
<rect x="401.7" y="52.2" width="1" height="1" fill="#4650a0" fill-opacity="0.7"/>
<rect x="402.7" y="52.2" width="1" height="1" fill="#3b46eb"/>
<rect x="403.7" y="52.2" width="1" height="1" fill="#384cee"/>
<rect x="404.7" y="52.2" width="1" height="1" fill="#3552f1"/>
<rect x="405.7" y="52.2" width="1" height="1" fill="#3455f2"/>
<rect x="407.7" y="52.2" width="1" height="1" fill="#3552f1"/>
<rect x="409.7" y="52.2" width="1" height="1" fill="#3454f2"/>
<rect x="410.7" y="52.2" width="1" height="1" fill="#3553f1"/>
<rect x="411.7" y="52.2" width="1" height="1" fill="#374eef"/>
<rect x="413.7" y="52.2" width="1" height="1" fill="#3b47eb"/>
<rect x="414.7" y="52.2" width="1" height="1" fill="#4650a0" fill-opacity="0.7"/>
<rect x="420.7" y="52.2" width="1" height="1" fill="#4650a0" fill-opacity="0.5"/>
<rect x="384.7" y="53.2" width="1" height="1" fill="#4650a0" fill-opacity="0.5"/>
<rect x="389.7" y="53.2" width="1" height="1" fill="#4650a0" fill-opacity="0.5"/>
<rect x="394.7" y="53.2" width="1" height="1" fill="#4650a0" fill-opacity="0.5"/>
<rect x="398.7" y="53.2" width="1" height="1" fill="#4650a0" fill-opacity="0.5"/>
<rect x="399.7" y="53.2" width="1" height="1" fill="#4650a0" fill-opacity="0.7"/>
<rect x="401.7" y="53.2" width="1" height="1" fill="#4650a0" fill-opacity="0.7"/>
<rect x="402.7" y="53.2" width="1" height="1" fill="#4650a0" fill-opacity="0.5"/>
<rect x="404.7" y="53.2" width="1" height="1" fill="#3b47eb"/>
<rect x="407.7" y="53.2" width="1" height="1" fill="#4650a0" fill-opacity="0.5"/>
<rect x="409.7" y="53.2" width="1" height="1" fill="#394aed"/>
<rect x="410.7" y="53.2" width="1" height="1" fill="#3a49ec"/>
<rect x="411.7" y="53.2" width="2" height="1" fill="#4650a0" fill-opacity="0.5"/>
<rect x="413.7" y="53.2" width="1" height="1" fill="#4650a0" fill-opacity="0.7"/>
<rect x="391.7" y="54.2" width="1" height="1" fill="#4650a0" fill-opacity="0.5"/>
<rect x="398.7" y="54.2" width="1" height="1" fill="#4650a0" fill-opacity="0.8"/>
<rect x="400.7" y="54.2" width="1" height="1" fill="#4650a0" fill-opacity="0.5"/>
<rect x="402.7" y="54.2" width="2" height="1" fill="#4650a0" fill-opacity="0.5"/>
<rect x="404.7" y="54.2" width="1" height="1" fill="#4650a0" fill-opacity="0.7"/>
<rect x="407.7" y="54.2" width="2" height="1" fill="#4650a0" fill-opacity="0.5"/>
<rect x="410.7" y="54.2" width="1" height="1" fill="#4650a0" fill-opacity="0.5"/>
<rect x="412.7" y="54.2" width="3" height="1" fill="#4650a0" fill-opacity="0.5"/>
<rect x="422.7" y="54.2" width="1" height="1" fill="#4650a0" fill-opacity="0.5"/>
<rect x="377.7" y="55.2" width="1" height="1" fill="#4650a0" fill-opacity="0.5"/>
<rect x="379.7" y="55.2" width="1" height="1" fill="#4650a0" fill-opacity="0.5"/>
<rect x="393.7" y="55.2" width="1" height="1" fill="#4650a0" fill-opacity="0.5"/>
<rect x="395.7" y="55.2" width="2" height="1" fill="#4650a0" fill-opacity="0.5"/>
<rect x="402.7" y="55.2" width="1" height="1" fill="#4650a0" fill-opacity="0.5"/>
<rect x="404.7" y="55.2" width="2" height="1" fill="#4650a0" fill-opacity="0.5"/>
<rect x="407.7" y="55.2" width="1" height="1" fill="#4650a0" fill-opacity="0.5"/>
<rect x="409.7" y="55.2" width="1" height="1" fill="#4650a0" fill-opacity="0.5"/>
<rect x="381.7" y="56.2" width="1" height="1" fill="#4650a0" fill-opacity="0.5"/>
<rect x="387.7" y="56.2" width="1" height="1" fill="#4650a0" fill-opacity="0.5"/>
<rect x="389.7" y="56.2" width="1" height="1" fill="#4650a0" fill-opacity="0.5"/>
<rect x="394.7" y="56.2" width="1" height="1" fill="#4650a0" fill-opacity="0.7"/>
<rect x="399.7" y="56.2" width="1" height="1" fill="#4650a0" fill-opacity="0.5"/>
<rect x="403.7" y="56.2" width="1" height="1" fill="#4650a0" fill-opacity="0.5"/>
<rect x="409.7" y="56.2" width="1" height="1" fill="#4650a0" fill-opacity="0.5"/>
<rect x="413.7" y="56.2" width="1" height="1" fill="#4650a0" fill-opacity="0.5"/>
<rect x="415.7" y="56.2" width="1" height="1" fill="#4650a0" fill-opacity="0.5"/>
<rect x="386.7" y="57.2" width="2" height="1" fill="#4650a0" fill-opacity="0.5"/>
<rect x="390.7" y="57.2" width="1" height="1" fill="#4650a0" fill-opacity="0.5"/>
<rect x="393.7" y="57.2" width="1" height="1" fill="#4650a0" fill-opacity="0.7"/>
<rect x="394.7" y="57.2" width="1" height="1" fill="#4650a0" fill-opacity="0.5"/>
<rect x="396.7" y="57.2" width="2" height="1" fill="#4650a0" fill-opacity="0.5"/>
<rect x="400.7" y="57.2" width="1" height="1" fill="#4650a0" fill-opacity="0.5"/>
<rect x="401.7" y="57.2" width="1" height="1" fill="#4650a0" fill-opacity="0.7"/>
<rect x="405.7" y="57.2" width="1" height="1" fill="#4650a0" fill-opacity="0.5"/>
<rect x="409.7" y="57.2" width="1" height="1" fill="#4650a0" fill-opacity="0.5"/>
<rect x="411.7" y="57.2" width="1" height="1" fill="#4650a0" fill-opacity="0.5"/>
<rect x="413.7" y="57.2" width="1" height="1" fill="#4650a0" fill-opacity="0.5"/>
<rect x="385.7" y="58.2" width="1" height="1" fill="#4650a0" fill-opacity="0.5"/>
<rect x="398.7" y="58.2" width="1" height="1" fill="#4650a0" fill-opacity="0.5"/>
<rect x="400.7" y="58.2" width="2" height="1" fill="#4650a0" fill-opacity="0.5"/>
<rect x="406.7" y="58.2" width="2" height="1" fill="#4650a0" fill-opacity="0.5"/>
<rect x="409.7" y="58.2" width="1" height="1" fill="#4650a0" fill-opacity="0.5"/>
<rect x="411.7" y="58.2" width="1" height="1" fill="#4650a0" fill-opacity="0.5"/>
<rect x="384.7" y="59.2" width="1" height="1" fill="#4650a0" fill-opacity="0.7"/>
<rect x="390.7" y="59.2" width="2" height="1" fill="#4650a0" fill-opacity="0.5"/>
<rect x="400.7" y="59.2" width="2" height="1" fill="#4650a0" fill-opacity="0.5"/>
<rect x="383.7" y="60.2" width="1" height="1" fill="#4650a0" fill-opacity="0.5"/>
<rect x="388.7" y="60.2" width="1" height="1" fill="#4650a0" fill-opacity="0.5"/>
<rect x="393.7" y="60.2" width="1" height="1" fill="#4650a0" fill-opacity="0.5"/>
<rect x="400.7" y="60.2" width="1" height="1" fill="#4650a0" fill-opacity="0.7"/>
<rect x="407.7" y="60.2" width="1" height="1" fill="#4650a0" fill-opacity="0.5"/>
<rect x="413.7" y="60.2" width="1" height="1" fill="#4650a0" fill-opacity="0.5"/>
<rect x="417.7" y="60.2" width="1" height="1" fill="#4650a0" fill-opacity="0.5"/>
<rect x="382.7" y="61.2" width="2" height="1" fill="#4650a0" fill-opacity="0.5"/>
<rect x="385.7" y="61.2" width="1" height="1" fill="#4650a0" fill-opacity="0.5"/>
<rect x="404.7" y="61.2" width="1" height="1" fill="#4650a0" fill-opacity="0.5"/>
<rect x="415.7" y="61.2" width="1" height="1" fill="#4650a0" fill-opacity="0.5"/>
<rect x="382.7" y="62.2" width="1" height="1" fill="#4650a0" fill-opacity="0.5"/>
<rect x="396.7" y="62.2" width="2" height="1" fill="#4650a0" fill-opacity="0.5"/>
<rect x="400.7" y="62.2" width="1" height="1" fill="#4650a0" fill-opacity="0.5"/>
<rect x="403.7" y="62.2" width="1" height="1" fill="#4650a0" fill-opacity="0.5"/>
<rect x="370.7" y="63.2" width="1" height="1" fill="#4650a0" fill-opacity="0.5"/>
<rect x="379.7" y="63.2" width="1" height="1" fill="#4650a0" fill-opacity="0.5"/>
<rect x="388.7" y="63.2" width="2" height="1" fill="#4650a0" fill-opacity="0.5"/>
<rect x="391.7" y="63.2" width="2" height="1" fill="#4650a0" fill-opacity="0.5"/>
<rect x="399.7" y="63.2" width="1" height="1" fill="#4650a0" fill-opacity="0.5"/>
<rect x="404.7" y="63.2" width="1" height="1" fill="#4650a0" fill-opacity="0.5"/>
<rect x="409.7" y="63.2" width="1" height="1" fill="#4650a0" fill-opacity="0.5"/>
<rect x="376.7" y="64.2" width="2" height="1" fill="#4650a0" fill-opacity="0.5"/>
<rect x="389.7" y="64.2" width="1" height="1" fill="#4650a0" fill-opacity="0.5"/>
<rect x="394.7" y="64.2" width="1" height="1" fill="#4650a0" fill-opacity="0.5"/>
<rect x="399.7" y="64.2" width="1" height="1" fill="#4650a0" fill-opacity="0.5"/>
<rect x="402.7" y="64.2" width="1" height="1" fill="#4650a0" fill-opacity="0.5"/>
<rect x="406.7" y="64.2" width="1" height="1" fill="#4650a0" fill-opacity="0.5"/>
<rect x="414.7" y="64.2" width="1" height="1" fill="#4650a0" fill-opacity="0.5"/>
<rect x="388.7" y="65.2" width="2" height="1" fill="#4650a0" fill-opacity="0.5"/>
<rect x="394.7" y="65.2" width="1" height="1" fill="#4650a0" fill-opacity="0.5"/>
<rect x="403.7" y="65.2" width="1" height="1" fill="#4650a0" fill-opacity="0.5"/>
<rect x="408.7" y="65.2" width="1" height="1" fill="#4650a0" fill-opacity="0.5"/>
<rect x="411.7" y="65.2" width="1" height="1" fill="#4650a0" fill-opacity="0.5"/>
<rect x="429.7" y="65.2" width="1" height="1" fill="#4650a0" fill-opacity="0.5"/>
<rect x="379.7" y="66.2" width="1" height="1" fill="#4650a0" fill-opacity="0.5"/>
<rect x="385.7" y="66.2" width="1" height="1" fill="#4650a0" fill-opacity="0.5"/>
<rect x="389.7" y="66.2" width="1" height="1" fill="#4650a0" fill-opacity="0.5"/>
<rect x="392.7" y="66.2" width="1" height="1" fill="#4650a0" fill-opacity="0.5"/>
<rect x="393.7" y="66.2" width="1" height="1" fill="#4650a0" fill-opacity="0.7"/>
<rect x="395.7" y="66.2" width="1" height="1" fill="#4650a0" fill-opacity="0.5"/>
<rect x="400.7" y="66.2" width="1" height="1" fill="#4650a0" fill-opacity="0.5"/>
<rect x="403.7" y="66.2" width="1" height="1" fill="#4650a0" fill-opacity="0.7"/>
<rect x="404.7" y="66.2" width="1" height="1" fill="#4650a0" fill-opacity="0.5"/>
<rect x="406.7" y="66.2" width="1" height="1" fill="#4650a0" fill-opacity="0.7"/>
<rect x="409.7" y="66.2" width="1" height="1" fill="#4650a0" fill-opacity="0.5"/>
<rect x="412.7" y="66.2" width="2" height="1" fill="#4650a0" fill-opacity="0.5"/>
<rect x="372.7" y="67.2" width="1" height="1" fill="#4650a0" fill-opacity="0.5"/>
<rect x="385.7" y="67.2" width="1" height="1" fill="#4650a0" fill-opacity="0.5"/>
<rect x="388.7" y="67.2" width="1" height="1" fill="#4650a0" fill-opacity="0.5"/>
<rect x="397.7" y="67.2" width="1" height="1" fill="#4650a0" fill-opacity="0.5"/>
<rect x="398.7" y="67.2" width="2" height="1" fill="#4650a0" fill-opacity="0.8"/>
<rect x="401.7" y="67.2" width="1" height="1" fill="#4650a0" fill-opacity="0.5"/>
<rect x="402.7" y="67.2" width="1" height="1" fill="#4650a0" fill-opacity="0.8"/>
<rect x="403.7" y="67.2" width="1" height="1" fill="#4650a0" fill-opacity="0.5"/>
<rect x="406.7" y="67.2" width="1" height="1" fill="#4650a0" fill-opacity="0.5"/>
<rect x="410.7" y="67.2" width="1" height="1" fill="#4650a0" fill-opacity="0.5"/>
<rect x="414.7" y="67.2" width="1" height="1" fill="#4650a0" fill-opacity="0.5"/>
<rect x="377.7" y="68.2" width="1" height="1" fill="#4650a0" fill-opacity="0.5"/>
<rect x="400.7" y="68.2" width="1" height="1" fill="#374fef"/>
<rect x="401.7" y="68.2" width="1" height="1" fill="#3650f0"/>
<rect x="402.7" y="68.2" width="1" height="1" fill="#374fef"/>
<rect x="403.7" y="68.2" width="1" height="1" fill="#394bed"/>
<rect x="404.7" y="68.2" width="1" height="1" fill="#4650a0" fill-opacity="0.7"/>
<rect x="406.7" y="68.2" width="1" height="1" fill="#4650a0" fill-opacity="0.8"/>
<rect x="407.7" y="68.2" width="1" height="1" fill="#4650a0" fill-opacity="0.5"/>
<rect x="408.7" y="68.2" width="2" height="1" fill="#4650a0" fill-opacity="0.7"/>
<rect x="411.7" y="68.2" width="1" height="1" fill="#4650a0" fill-opacity="0.5"/>
<rect x="414.7" y="68.2" width="1" height="1" fill="#4650a0" fill-opacity="0.5"/>
<rect x="375.7" y="69.2" width="1" height="1" fill="#4650a0" fill-opacity="0.5"/>
<rect x="377.7" y="69.2" width="1" height="1" fill="#4650a0" fill-opacity="0.5"/>
<rect x="390.7" y="69.2" width="1" height="1" fill="#4650a0" fill-opacity="0.5"/>
<rect x="392.7" y="69.2" width="3" height="1" fill="#4650a0" fill-opacity="0.5"/>
<rect x="396.7" y="69.2" width="1" height="1" fill="#374eef"/>
<rect x="397.7" y="69.2" width="1" height="1" fill="#3552f1"/>
<rect x="398.7" y="69.2" width="1" height="1" fill="#3357f3"/>
<rect x="399.7" y="69.2" width="1" height="1" fill="#315af5"/>
<rect x="400.7" y="69.2" width="2" height="1" fill="#315bf5"/>
<rect x="402.7" y="69.2" width="1" height="1" fill="#3259f4"/>
<rect x="403.7" y="69.2" width="1" height="1" fill="#3455f2"/>
<rect x="406.7" y="69.2" width="1" height="1" fill="#394aed"/>
<rect x="407.7" y="69.2" width="1" height="1" fill="#3b47eb"/>
<rect x="409.7" y="69.2" width="1" height="1" fill="#4650a0" fill-opacity="0.8"/>
<rect x="410.7" y="69.2" width="1" height="1" fill="#4650a0" fill-opacity="0.5"/>
<rect x="412.7" y="69.2" width="1" height="1" fill="#4650a0" fill-opacity="0.7"/>
<rect x="413.7" y="69.2" width="1" height="1" fill="#4650a0" fill-opacity="0.5"/>
<rect x="382.7" y="70.2" width="1" height="1" fill="#4650a0" fill-opacity="0.7"/>
<rect x="383.7" y="70.2" width="1" height="1" fill="#4650a0" fill-opacity="0.5"/>
<rect x="388.7" y="70.2" width="1" height="1" fill="#4650a0" fill-opacity="0.7"/>
<rect x="389.7" y="70.2" width="1" height="1" fill="#3a48ec"/>
<rect x="391.7" y="70.2" width="1" height="1" fill="#3a49ec"/>
<rect x="394.7" y="70.2" width="1" height="1" fill="#3356f3"/>
<rect x="395.7" y="70.2" width="1" height="1" fill="#315bf5"/>
<rect x="396.7" y="70.2" width="1" height="1" fill="#305df6"/>
<rect x="397.7" y="70.2" width="1" height="1" fill="#2f5ff7"/>
<rect x="398.7" y="70.2" width="1" height="1" fill="#2d63f9"/>
<rect x="399.7" y="70.2" width="1" height="1" fill="#2a68fc"/>
<rect x="400.7" y="70.2" width="1" height="1" fill="#2a69fc"/>
<rect x="401.7" y="70.2" width="1" height="1" fill="#2b67fb"/>
<rect x="402.7" y="70.2" width="1" height="1" fill="#2d63f9"/>
<rect x="403.7" y="70.2" width="1" height="1" fill="#2f5ef7"/>
<rect x="404.7" y="70.2" width="1" height="1" fill="#3258f4"/>
<rect x="405.7" y="70.2" width="1" height="1" fill="#3454f2"/>
<rect x="406.7" y="70.2" width="1" height="1" fill="#3650f0"/>
<rect x="408.7" y="70.2" width="1" height="1" fill="#3b47eb"/>
<rect x="409.7" y="70.2" width="1" height="1" fill="#4650a0" fill-opacity="0.7"/>
<rect x="412.7" y="70.2" width="1" height="1" fill="#4650a0" fill-opacity="0.5"/>
<rect x="413.7" y="70.2" width="1" height="1" fill="#4650a0" fill-opacity="0.7"/>
<rect x="419.7" y="70.2" width="1" height="1" fill="#4650a0" fill-opacity="0.5"/>
<rect x="374.7" y="71.2" width="1" height="1" fill="#4650a0" fill-opacity="0.5"/>
<rect x="379.7" y="71.2" width="1" height="1" fill="#4650a0" fill-opacity="0.5"/>
<rect x="383.7" y="71.2" width="2" height="1" fill="#4650a0" fill-opacity="0.5"/>
<rect x="386.7" y="71.2" width="1" height="1" fill="#3552f1"/>
<rect x="387.7" y="71.2" width="1" height="1" fill="#3258f4"/>
<rect x="388.7" y="71.2" width="1" height="1" fill="#315af5"/>
<rect x="389.7" y="71.2" width="1" height="1" fill="#315bf5"/>
<rect x="390.7" y="71.2" width="1" height="1" fill="#3259f4"/>
<rect x="391.7" y="71.2" width="2" height="1" fill="#3357f3"/>
<rect x="393.7" y="71.2" width="1" height="1" fill="#305df6"/>
<rect x="394.7" y="71.2" width="1" height="1" fill="#2b66fb"/>
<rect x="395.7" y="71.2" width="1" height="1" fill="#296bfd"/>
<rect x="396.7" y="71.2" width="2" height="1" fill="#286cfe"/>
<rect x="398.7" y="71.2" width="1" height="1" fill="#2771fe"/>
<rect x="399.7" y="71.2" width="2" height="1" fill="#267afc"/>
<rect x="401.7" y="71.2" width="1" height="1" fill="#2771fe"/>
<rect x="402.7" y="71.2" width="1" height="1" fill="#296afd"/>
<rect x="403.7" y="71.2" width="1" height="1" fill="#2d62f9"/>
<rect x="404.7" y="71.2" width="1" height="1" fill="#315bf5"/>
<rect x="405.7" y="71.2" width="1" height="1" fill="#3357f3"/>
<rect x="406.7" y="71.2" width="1" height="1" fill="#3455f2"/>
<rect x="407.7" y="71.2" width="1" height="1" fill="#3650f0"/>
<rect x="408.7" y="71.2" width="1" height="1" fill="#394aed"/>
<rect x="410.7" y="71.2" width="2" height="1" fill="#4650a0" fill-opacity="0.5"/>
<rect x="419.7" y="71.2" width="1" height="1" fill="#4650a0" fill-opacity="0.5"/>
<rect x="373.7" y="72.2" width="1" height="1" fill="#3455f2"/>
<rect x="374.7" y="72.2" width="1" height="1" fill="#3259f4"/>
<rect x="376.7" y="72.2" width="2" height="1" fill="#305cf6"/>
<rect x="379.7" y="72.2" width="1" height="1" fill="#2f5ef7"/>
<rect x="381.7" y="72.2" width="1" height="1" fill="#3258f4"/>
<rect x="385.7" y="72.2" width="1" height="1" fill="#2b66fb"/>
<rect x="386.7" y="72.2" width="1" height="1" fill="#286dfe"/>
<rect x="387.7" y="72.2" width="1" height="1" fill="#2776fd"/>
<rect x="388.7" y="72.2" width="1" height="1" fill="#2677fc"/>
<rect x="389.7" y="72.2" width="1" height="1" fill="#2770fe"/>
<rect x="390.7" y="72.2" width="1" height="1" fill="#2a69fc"/>
<rect x="391.7" y="72.2" width="1" height="1" fill="#2c64fa"/>
<rect x="392.7" y="72.2" width="1" height="1" fill="#2c65fa"/>
<rect x="393.7" y="72.2" width="1" height="1" fill="#286dfe"/>
<rect x="394.7" y="72.2" width="1" height="1" fill="#267efb"/>
<rect x="395.7" y="72.2" width="1" height="1" fill="#2588f9"/>
<rect x="396.7" y="72.2" width="1" height="1" fill="#2587f9"/>
<rect x="397.7" y="72.2" width="1" height="1" fill="#2581fa"/>
<rect x="398.7" y="72.2" width="1" height="1" fill="#2583fa"/>
<rect x="399.7" y="72.2" width="1" height="1" fill="#2588f9"/>
<rect x="400.7" y="72.2" width="1" height="1" fill="#2584fa"/>
<rect x="401.7" y="72.2" width="1" height="1" fill="#2677fc"/>
<rect x="402.7" y="72.2" width="1" height="1" fill="#296bfd"/>
<rect x="403.7" y="72.2" width="1" height="1" fill="#2e61f8"/>
<rect x="404.7" y="72.2" width="1" height="1" fill="#3259f4"/>
<rect x="405.7" y="72.2" width="2" height="1" fill="#3356f3"/>
<rect x="407.7" y="72.2" width="1" height="1" fill="#3454f2"/>
<rect x="408.7" y="72.2" width="1" height="1" fill="#374eef"/>
<rect x="409.7" y="72.2" width="1" height="1" fill="#4650a0" fill-opacity="0.7"/>
<rect x="372.7" y="73.2" width="1" height="1" fill="#296bfd"/>
<rect x="373.7" y="73.2" width="1" height="1" fill="#2583fa"/>
<rect x="374.7" y="73.2" width="1" height="1" fill="#2394f6"/>
<rect x="375.7" y="73.2" width="1" height="1" fill="#229ef4"/>
<rect x="376.7" y="73.2" width="1" height="1" fill="#22a1f3"/>
<rect x="377.7" y="73.2" width="1" height="1" fill="#229bf4"/>
<rect x="378.7" y="73.2" width="2" height="1" fill="#2395f6"/>
<rect x="380.7" y="73.2" width="1" height="1" fill="#2393f6"/>
<rect x="381.7" y="73.2" width="1" height="1" fill="#248ff7"/>
<rect x="382.7" y="73.2" width="1" height="1" fill="#2491f7"/>
<rect x="383.7" y="73.2" width="1" height="1" fill="#2398f5"/>
<rect x="384.7" y="73.2" width="1" height="1" fill="#22a3f3"/>
<rect x="385.7" y="73.2" width="1" height="1" fill="#20aef0"/>
<rect x="386.7" y="73.2" width="1" height="1" fill="#1fb8ee"/>
<rect x="387.7" y="73.2" width="1" height="1" fill="#1fbced"/>
<rect x="388.7" y="73.2" width="1" height="1" fill="#20b5ef"/>
<rect x="389.7" y="73.2" width="1" height="1" fill="#22a3f3"/>
<rect x="390.7" y="73.2" width="1" height="1" fill="#248ef7"/>
<rect x="391.7" y="73.2" width="2" height="1" fill="#267efb"/>
<rect x="393.7" y="73.2" width="1" height="1" fill="#248cf8"/>
<rect x="394.7" y="73.2" width="1" height="1" fill="#2399f5"/>
<rect x="395.7" y="73.2" width="1" height="1" fill="#229ef4"/>
<rect x="396.7" y="73.2" width="1" height="1" fill="#2398f5"/>
<rect x="397.7" y="73.2" width="1" height="1" fill="#248ff7"/>
<rect x="398.7" y="73.2" width="2" height="1" fill="#248bf8"/>
<rect x="400.7" y="73.2" width="1" height="1" fill="#2582fa"/>
<rect x="401.7" y="73.2" width="1" height="1" fill="#2771fe"/>
<rect x="402.7" y="73.2" width="1" height="1" fill="#2a68fc"/>
<rect x="403.7" y="73.2" width="1" height="1" fill="#2f5ff7"/>
<rect x="404.7" y="73.2" width="1" height="1" fill="#3357f3"/>
<rect x="406.7" y="73.2" width="1" height="1" fill="#3454f2"/>
<rect x="407.7" y="73.2" width="1" height="1" fill="#3553f1"/>
<rect x="408.7" y="73.2" width="1" height="1" fill="#384cee"/>
<rect x="409.7" y="73.2" width="1" height="1" fill="#4650a0" fill-opacity="0.7"/>
<rect x="370.7" y="74.2" width="1" height="1" fill="#296bfd"/>
<rect x="371.7" y="74.2" width="1" height="1" fill="#229bf4"/>
<rect x="372.7" y="74.2" width="1" height="1" fill="#1ec8e9"/>
<rect x="373.7" y="74.2" width="1" height="1" fill="#28cfb4"/>
<rect x="374.7" y="74.2" width="1" height="1" fill="#30d48d"/>
<rect x="375.7" y="74.2" width="1" height="1" fill="#34d776"/>
<rect x="376.7" y="74.2" width="1" height="1" fill="#34d774"/>
<rect x="377.7" y="74.2" width="1" height="1" fill="#2fd38e"/>
<rect x="378.7" y="74.2" width="1" height="1" fill="#29cfb0"/>
<rect x="379.7" y="74.2" width="2" height="1" fill="#26cdc0"/>
<rect x="381.7" y="74.2" width="1" height="1" fill="#27ceba"/>
<rect x="382.7" y="74.2" width="1" height="1" fill="#29cfb1"/>
<rect x="383.7" y="74.2" width="1" height="1" fill="#29cfad"/>
<rect x="384.7" y="74.2" width="1" height="1" fill="#2ad0a9"/>
<rect x="385.7" y="74.2" width="1" height="1" fill="#2cd19e"/>
<rect x="386.7" y="74.2" width="1" height="1" fill="#2ed297"/>
<rect x="387.7" y="74.2" width="1" height="1" fill="#2cd19f"/>
<rect x="388.7" y="74.2" width="1" height="1" fill="#27ceb8"/>
<rect x="389.7" y="74.2" width="1" height="1" fill="#20c9dd"/>
<rect x="390.7" y="74.2" width="1" height="1" fill="#1fb7ee"/>
<rect x="391.7" y="74.2" width="1" height="1" fill="#21a5f2"/>
<rect x="392.7" y="74.2" width="1" height="1" fill="#229cf4"/>
<rect x="393.7" y="74.2" width="1" height="1" fill="#229ef4"/>
<rect x="394.7" y="74.2" width="1" height="1" fill="#21a5f2"/>
<rect x="395.7" y="74.2" width="1" height="1" fill="#21a6f2"/>
<rect x="396.7" y="74.2" width="1" height="1" fill="#229ef4"/>
<rect x="397.7" y="74.2" width="1" height="1" fill="#2490f7"/>
<rect x="398.7" y="74.2" width="1" height="1" fill="#2586f9"/>
<rect x="399.7" y="74.2" width="1" height="1" fill="#2580fa"/>
<rect x="400.7" y="74.2" width="1" height="1" fill="#2772fe"/>
<rect x="401.7" y="74.2" width="1" height="1" fill="#2b67fb"/>
<rect x="402.7" y="74.2" width="1" height="1" fill="#2d62f9"/>
<rect x="403.7" y="74.2" width="1" height="1" fill="#305cf6"/>
<rect x="404.7" y="74.2" width="1" height="1" fill="#3454f2"/>
<rect x="405.7" y="74.2" width="2" height="1" fill="#374eef"/>
<rect x="407.7" y="74.2" width="1" height="1" fill="#384cee"/>
<rect x="411.7" y="74.2" width="1" height="1" fill="#4650a0" fill-opacity="0.5"/>
<rect x="368.7" y="75.2" width="1" height="1" fill="#2f5ff7"/>
<rect x="369.7" y="75.2" width="1" height="1" fill="#267afc"/>
<rect x="370.7" y="75.2" width="1" height="1" fill="#20b0f0"/>
<rect x="371.7" y="75.2" width="1" height="1" fill="#2ad0ac"/>
<rect x="372.7" y="75.2" width="1" height="1" fill="#3edc4f"/>
<rect x="373.7" y="75.2" width="1" height="1" fill="#96e13b"/>
<rect x="374.7" y="75.2" width="1" height="1" fill="#d1e42e"/>
<rect x="375.7" y="75.2" width="1" height="1" fill="#efe528"/>
<rect x="376.7" y="75.2" width="1" height="1" fill="#e4e52a"/>
<rect x="377.7" y="75.2" width="1" height="1" fill="#aae237"/>
<rect x="378.7" y="75.2" width="1" height="1" fill="#60de47"/>
<rect x="379.7" y="75.2" width="1" height="1" fill="#3ada59"/>
<rect x="380.7" y="75.2" width="1" height="1" fill="#38d960"/>
<rect x="381.7" y="75.2" width="1" height="1" fill="#3adb56"/>
<rect x="382.7" y="75.2" width="1" height="1" fill="#41dc4e"/>
<rect x="383.7" y="75.2" width="1" height="1" fill="#3cdc4f"/>
<rect x="384.7" y="75.2" width="1" height="1" fill="#3ada5a"/>
<rect x="385.7" y="75.2" width="1" height="1" fill="#3ada59"/>
<rect x="386.7" y="75.2" width="1" height="1" fill="#39da5c"/>
<rect x="387.7" y="75.2" width="1" height="1" fill="#35d772"/>
<rect x="388.7" y="75.2" width="1" height="1" fill="#2ed393"/>
<rect x="389.7" y="75.2" width="1" height="1" fill="#27cebc"/>
<rect x="390.7" y="75.2" width="1" height="1" fill="#1fc8e3"/>
<rect x="391.7" y="75.2" width="1" height="1" fill="#1fb7ee"/>
<rect x="392.7" y="75.2" width="1" height="1" fill="#21a4f2"/>
<rect x="393.7" y="75.2" width="1" height="1" fill="#229cf4"/>
<rect x="394.7" y="75.2" width="1" height="1" fill="#22a0f3"/>
<rect x="395.7" y="75.2" width="1" height="1" fill="#229ff4"/>
<rect x="396.7" y="75.2" width="1" height="1" fill="#2394f6"/>
<rect x="397.7" y="75.2" width="1" height="1" fill="#2582fa"/>
<rect x="398.7" y="75.2" width="1" height="1" fill="#2772fe"/>
<rect x="399.7" y="75.2" width="1" height="1" fill="#2a69fc"/>
<rect x="400.7" y="75.2" width="1" height="1" fill="#2e61f8"/>
<rect x="402.7" y="75.2" width="1" height="1" fill="#3356f3"/>
<rect x="403.7" y="75.2" width="1" height="1" fill="#3553f1"/>
<rect x="404.7" y="75.2" width="1" height="1" fill="#394bed"/>
<rect x="406.7" y="75.2" width="2" height="1" fill="#4650a0" fill-opacity="0.5"/>
<rect x="411.7" y="75.2" width="1" height="1" fill="#4650a0" fill-opacity="0.5"/>
<rect x="413.7" y="75.2" width="1" height="1" fill="#4650a0" fill-opacity="0.5"/>
<rect x="422.7" y="75.2" width="1" height="1" fill="#4650a0" fill-opacity="0.5"/>
<rect x="367.7" y="76.2" width="1" height="1" fill="#315af5"/>
<rect x="368.7" y="76.2" width="1" height="1" fill="#2679fc"/>
<rect x="369.7" y="76.2" width="1" height="1" fill="#20aff0"/>
<rect x="370.7" y="76.2" width="1" height="1" fill="#28ceb5"/>
<rect x="371.7" y="76.2" width="1" height="1" fill="#4bdc4c"/>
<rect x="372.7" y="76.2" width="1" height="1" fill="#d8e42d"/>
<rect x="373.7" y="76.2" width="1" height="1" fill="#f69f21"/>
<rect x="374.7" y="76.2" width="1" height="1" fill="#f5671e"/>
<rect x="375.7" y="76.2" width="1" height="1" fill="#f0521e"/>
<rect x="376.7" y="76.2" width="1" height="1" fill="#f8711e"/>
<rect x="377.7" y="76.2" width="1" height="1" fill="#f3ba24"/>
<rect x="378.7" y="76.2" width="1" height="1" fill="#c0e332"/>
<rect x="379.7" y="76.2" width="1" height="1" fill="#79df42"/>
<rect x="380.7" y="76.2" width="1" height="1" fill="#60de47"/>
<rect x="381.7" y="76.2" width="1" height="1" fill="#64de47"/>
<rect x="382.7" y="76.2" width="1" height="1" fill="#6bde45"/>
<rect x="383.7" y="76.2" width="1" height="1" fill="#64de47"/>
<rect x="384.7" y="76.2" width="1" height="1" fill="#4edd4b"/>
<rect x="385.7" y="76.2" width="1" height="1" fill="#3ddc4f"/>
<rect x="386.7" y="76.2" width="1" height="1" fill="#37d965"/>
<rect x="387.7" y="76.2" width="1" height="1" fill="#30d48a"/>
<rect x="388.7" y="76.2" width="1" height="1" fill="#29cfaf"/>
<rect x="389.7" y="76.2" width="1" height="1" fill="#21cad8"/>
<rect x="390.7" y="76.2" width="1" height="1" fill="#1fbbed"/>
<rect x="391.7" y="76.2" width="1" height="1" fill="#21a7f2"/>
<rect x="392.7" y="76.2" width="1" height="1" fill="#2394f6"/>
<rect x="393.7" y="76.2" width="2" height="1" fill="#2489f8"/>
<rect x="395.7" y="76.2" width="1" height="1" fill="#2585f9"/>
<rect x="396.7" y="76.2" width="1" height="1" fill="#2677fc"/>
<rect x="397.7" y="76.2" width="1" height="1" fill="#296afd"/>
<rect x="398.7" y="76.2" width="1" height="1" fill="#2d62f9"/>
<rect x="399.7" y="76.2" width="1" height="1" fill="#3259f4"/>
<rect x="400.7" y="76.2" width="1" height="1" fill="#3651f0"/>
<rect x="406.7" y="76.2" width="1" height="1" fill="#4650a0" fill-opacity="0.8"/>
<rect x="407.7" y="76.2" width="1" height="1" fill="#4650a0" fill-opacity="0.5"/>
<rect x="410.7" y="76.2" width="1" height="1" fill="#4650a0" fill-opacity="0.5"/>
<rect x="367.7" y="77.2" width="1" height="1" fill="#2e61f8"/>
<rect x="368.7" y="77.2" width="1" height="1" fill="#248cf8"/>
<rect x="369.7" y="77.2" width="1" height="1" fill="#1ec8ea"/>
<rect x="370.7" y="77.2" width="1" height="1" fill="#31d486"/>
<rect x="371.7" y="77.2" width="1" height="1" fill="#90e03d"/>
<rect x="372.7" y="77.2" width="1" height="1" fill="#f4b923"/>
<rect x="373.7" y="77.2" width="1" height="1" fill="#f4611e"/>
<rect x="374.7" y="77.2" width="1" height="1" fill="#e72f1e"/>
<rect x="375.7" y="77.2" width="1" height="1" fill="#e6281e"/>
<rect x="376.7" y="77.2" width="1" height="1" fill="#f35c1e"/>
<rect x="377.7" y="77.2" width="1" height="1" fill="#f4b623"/>
<rect x="378.7" y="77.2" width="1" height="1" fill="#bbe333"/>
<rect x="379.7" y="77.2" width="1" height="1" fill="#6bde45"/>
<rect x="380.7" y="77.2" width="1" height="1" fill="#43dc4e"/>
<rect x="381.7" y="77.2" width="1" height="1" fill="#3bdb51"/>
<rect x="382.7" y="77.2" width="1" height="1" fill="#3bdb52"/>
<rect x="383.7" y="77.2" width="1" height="1" fill="#3adb57"/>
<rect x="384.7" y="77.2" width="1" height="1" fill="#37d966"/>
<rect x="385.7" y="77.2" width="1" height="1" fill="#32d580"/>
<rect x="386.7" y="77.2" width="1" height="1" fill="#2ad0a8"/>
<rect x="387.7" y="77.2" width="1" height="1" fill="#21cadb"/>
<rect x="388.7" y="77.2" width="1" height="1" fill="#20b5ef"/>
<rect x="389.7" y="77.2" width="1" height="1" fill="#229df4"/>
<rect x="390.7" y="77.2" width="1" height="1" fill="#2588f9"/>
<rect x="391.7" y="77.2" width="1" height="1" fill="#267afc"/>
<rect x="392.7" y="77.2" width="1" height="1" fill="#276ffe"/>
<rect x="393.7" y="77.2" width="1" height="1" fill="#296afd"/>
<rect x="394.7" y="77.2" width="1" height="1" fill="#2a68fc"/>
<rect x="395.7" y="77.2" width="1" height="1" fill="#2b66fb"/>
<rect x="396.7" y="77.2" width="1" height="1" fill="#2e60f8"/>
<rect x="397.7" y="77.2" width="1" height="1" fill="#3259f4"/>
<rect x="399.7" y="77.2" width="1" height="1" fill="#394bed"/>
<rect x="366.7" y="78.2" width="1" height="1" fill="#3b46eb"/>
<rect x="367.7" y="78.2" width="1" height="1" fill="#2f5ef7"/>
<rect x="368.7" y="78.2" width="1" height="1" fill="#2581fa"/>
<rect x="369.7" y="78.2" width="1" height="1" fill="#1fbded"/>
<rect x="370.7" y="78.2" width="1" height="1" fill="#2ed395"/>
<rect x="371.7" y="78.2" width="1" height="1" fill="#7adf42"/>
<rect x="372.7" y="78.2" width="1" height="1" fill="#f1d926"/>
<rect x="373.7" y="78.2" width="1" height="1" fill="#f69a21"/>
<rect x="374.7" y="78.2" width="1" height="1" fill="#f8841f"/>
<rect x="375.7" y="78.2" width="1" height="1" fill="#f78e20"/>
<rect x="376.7" y="78.2" width="1" height="1" fill="#f2c725"/>
<rect x="377.7" y="78.2" width="1" height="1" fill="#aae237"/>
<rect x="378.7" y="78.2" width="1" height="1" fill="#4bdc4c"/>
<rect x="379.7" y="78.2" width="1" height="1" fill="#33d67e"/>
<rect x="380.7" y="78.2" width="1" height="1" fill="#2bd0a5"/>
<rect x="381.7" y="78.2" width="1" height="1" fill="#27ceb9"/>
<rect x="382.7" y="78.2" width="1" height="1" fill="#26cdc0"/>
<rect x="383.7" y="78.2" width="1" height="1" fill="#25cdc3"/>
<rect x="384.7" y="78.2" width="1" height="1" fill="#23cbcc"/>
<rect x="385.7" y="78.2" width="1" height="1" fill="#1fc8e4"/>
<rect x="386.7" y="78.2" width="1" height="1" fill="#20adf0"/>
<rect x="387.7" y="78.2" width="1" height="1" fill="#2489f8"/>
<rect x="389.7" y="78.2" width="1" height="1" fill="#2b66fb"/>
<rect x="390.7" y="78.2" width="1" height="1" fill="#2e60f8"/>
<rect x="391.7" y="78.2" width="1" height="1" fill="#305cf6"/>
<rect x="392.7" y="78.2" width="1" height="1" fill="#315af5"/>
<rect x="393.7" y="78.2" width="1" height="1" fill="#3357f3"/>
<rect x="394.7" y="78.2" width="1" height="1" fill="#3454f2"/>
<rect x="395.7" y="78.2" width="1" height="1" fill="#3651f0"/>
<rect x="398.7" y="78.2" width="1" height="1" fill="#4650a0" fill-opacity="0.8"/>
<rect x="400.7" y="78.2" width="1" height="1" fill="#4650a0" fill-opacity="0.5"/>
<rect x="366.7" y="79.2" width="1" height="1" fill="#4650a0" fill-opacity="0.5"/>
<rect x="367.7" y="79.2" width="1" height="1" fill="#3454f2"/>
<rect x="368.7" y="79.2" width="1" height="1" fill="#2b67fb"/>
<rect x="369.7" y="79.2" width="1" height="1" fill="#2392f6"/>
<rect x="370.7" y="79.2" width="1" height="1" fill="#1fc8e4"/>
<rect x="371.7" y="79.2" width="1" height="1" fill="#32d582"/>
<rect x="372.7" y="79.2" width="1" height="1" fill="#64de47"/>
<rect x="373.7" y="79.2" width="2" height="1" fill="#8fe03d"/>
<rect x="375.7" y="79.2" width="1" height="1" fill="#75df43"/>
<rect x="376.7" y="79.2" width="1" height="1" fill="#3adb55"/>
<rect x="377.7" y="79.2" width="1" height="1" fill="#2dd29c"/>
<rect x="378.7" y="79.2" width="1" height="1" fill="#22cbd3"/>
<rect x="379.7" y="79.2" width="1" height="1" fill="#1fbced"/>
<rect x="380.7" y="79.2" width="1" height="1" fill="#22a3f3"/>
<rect x="381.7" y="79.2" width="1" height="1" fill="#2491f7"/>
<rect x="382.7" y="79.2" width="1" height="1" fill="#248af8"/>
<rect x="383.7" y="79.2" width="1" height="1" fill="#2489f8"/>
<rect x="384.7" y="79.2" width="1" height="1" fill="#2588f9"/>
<rect x="385.7" y="79.2" width="1" height="1" fill="#267dfb"/>
<rect x="386.7" y="79.2" width="1" height="1" fill="#2a69fc"/>
<rect x="387.7" y="79.2" width="1" height="1" fill="#305df6"/>
<rect x="388.7" y="79.2" width="1" height="1" fill="#3454f2"/>
<rect x="389.7" y="79.2" width="1" height="1" fill="#374fef"/>
<rect x="390.7" y="79.2" width="1" height="1" fill="#394bed"/>
<rect x="391.7" y="79.2" width="1" height="1" fill="#3b47eb"/>
<rect x="395.7" y="79.2" width="1" height="1" fill="#4650a0" fill-opacity="0.7"/>
<rect x="398.7" y="79.2" width="1" height="1" fill="#4650a0" fill-opacity="0.5"/>
<rect x="366.7" y="80.2" width="2" height="1" fill="#4650a0" fill-opacity="0.5"/>
<rect x="368.7" y="80.2" width="1" height="1" fill="#3455f2"/>
<rect x="369.7" y="80.2" width="1" height="1" fill="#2c64fa"/>
<rect x="370.7" y="80.2" width="1" height="1" fill="#267ffb"/>
<rect x="371.7" y="80.2" width="1" height="1" fill="#21abf1"/>
<rect x="372.7" y="80.2" width="1" height="1" fill="#20c9df"/>
<rect x="373.7" y="80.2" width="1" height="1" fill="#23cbcf"/>
<rect x="374.7" y="80.2" width="1" height="1" fill="#21cad8"/>
<rect x="375.7" y="80.2" width="1" height="1" fill="#1ec7eb"/>
<rect x="376.7" y="80.2" width="1" height="1" fill="#20adf0"/>
<rect x="377.7" y="80.2" width="1" height="1" fill="#248ef7"/>
<rect x="378.7" y="80.2" width="1" height="1" fill="#2678fc"/>
<rect x="379.7" y="80.2" width="1" height="1" fill="#296afd"/>
<rect x="380.7" y="80.2" width="1" height="1" fill="#2d62f9"/>
<rect x="381.7" y="80.2" width="1" height="1" fill="#305cf6"/>
<rect x="382.7" y="80.2" width="2" height="1" fill="#3259f4"/>
<rect x="384.7" y="80.2" width="1" height="1" fill="#315af5"/>
<rect x="385.7" y="80.2" width="1" height="1" fill="#3258f4"/>
<rect x="386.7" y="80.2" width="1" height="1" fill="#3650f0"/>
<rect x="391.7" y="80.2" width="1" height="1" fill="#4650a0" fill-opacity="0.5"/>
<rect x="395.7" y="80.2" width="1" height="1" fill="#4650a0" fill-opacity="0.5"/>
<rect x="398.7" y="80.2" width="1" height="1" fill="#4650a0" fill-opacity="0.5"/>
<rect x="371.7" y="81.2" width="1" height="1" fill="#2e61f8"/>
<rect x="372.7" y="81.2" width="1" height="1" fill="#2a69fc"/>
<rect x="375.7" y="81.2" width="1" height="1" fill="#2c65fa"/>
<rect x="376.7" y="81.2" width="1" height="1" fill="#2e60f8"/>
<rect x="377.7" y="81.2" width="1" height="1" fill="#3259f4"/>
<rect x="386.7" y="81.2" width="1" height="1" fill="#4650a0" fill-opacity="0.5"/>
<rect x="369.7" y="82.2" width="1" height="1" fill="#4650a0" fill-opacity="0.5"/>
<rect x="371.7" y="82.2" width="1" height="1" fill="#4650a0" fill-opacity="0.5"/>
<rect x="376.7" y="82.2" width="1" height="1" fill="#4650a0" fill-opacity="0.5"/>
<rect x="397.7" y="82.2" width="1" height="1" fill="#4650a0" fill-opacity="0.5"/>
<rect x="416.7" y="82.2" width="1" height="1" fill="#4650a0" fill-opacity="0.5"/>
<rect x="379.7" y="83.2" width="1" height="1" fill="#4650a0" fill-opacity="0.5"/>
<rect x="382.7" y="83.2" width="1" height="1" fill="#4650a0" fill-opacity="0.5"/>
<rect x="382.7" y="86.2" width="1" height="1" fill="#4650a0" fill-opacity="0.5"/>
<rect x="395.7" y="89.2" width="1" height="1" fill="#4650a0" fill-opacity="0.5"/>
<rect x="402.7" y="90.2" width="1" height="1" fill="#4650a0" fill-opacity="0.5"/>
<line x1="390.8" y1="16.2" x2="390.8" y2="95.5" stroke="#555" stroke-width="1" />
<line x1="356.7" y1="60.3" x2="440.4" y2="60.3" stroke="#555" stroke-width="1" />
<rect x="262.20" y="132.50" width="85.30" height="78.70" fill="#fff" stroke="none" stroke-width="0" />
<line x1="262.2" y1="132.5" x2="347.5" y2="132.5" stroke="#b8b8b8" stroke-width="1" />
<line x1="347.5" y1="132.5" x2="347.5" y2="211.2" stroke="#c8c8c8" stroke-width="1" />
<line x1="262.2" y1="132.5" x2="262.2" y2="211.2" stroke="#e4e4e4" stroke-width="1" />
<line x1="262.2" y1="211.2" x2="347.5" y2="211.2" stroke="#e4e4e4" stroke-width="1" />
<rect x="261.7" y="208.2" width="1.4" height="0.8" fill="#909090"/>
<rect x="261.7" y="202.7" width="1.4" height="0.8" fill="#909090"/>
<rect x="261.7" y="197.2" width="1.4" height="0.8" fill="#909090"/>
<rect x="261.7" y="191.7" width="1.4" height="0.8" fill="#909090"/>
<rect x="261.7" y="186.2" width="1.4" height="0.8" fill="#909090"/>
<rect x="261.7" y="180.7" width="1.4" height="0.8" fill="#909090"/>
<rect x="261.7" y="175.2" width="1.4" height="0.8" fill="#909090"/>
<rect x="261.7" y="169.7" width="1.4" height="0.8" fill="#909090"/>
<rect x="261.7" y="164.2" width="1.4" height="0.8" fill="#909090"/>
<rect x="261.7" y="158.7" width="1.4" height="0.8" fill="#909090"/>
<rect x="261.7" y="153.2" width="1.4" height="0.8" fill="#909090"/>
<rect x="261.7" y="147.7" width="1.4" height="0.8" fill="#909090"/>
<rect x="261.7" y="142.2" width="1.4" height="0.8" fill="#909090"/>
<rect x="261.7" y="136.7" width="1.4" height="0.8" fill="#909090"/>
<rect x="265.2" y="210.2" width="0.8" height="1.4" fill="#a0a0a0"/>
<rect x="270.7" y="210.2" width="0.8" height="1.4" fill="#a0a0a0"/>
<rect x="276.2" y="210.2" width="0.8" height="1.4" fill="#a0a0a0"/>
<rect x="281.7" y="210.2" width="0.8" height="1.4" fill="#a0a0a0"/>
<rect x="287.2" y="210.2" width="0.8" height="1.4" fill="#a0a0a0"/>
<rect x="292.7" y="210.2" width="0.8" height="1.4" fill="#a0a0a0"/>
<rect x="298.2" y="210.2" width="0.8" height="1.4" fill="#a0a0a0"/>
<rect x="303.7" y="210.2" width="0.8" height="1.4" fill="#a0a0a0"/>
<rect x="309.2" y="210.2" width="0.8" height="1.4" fill="#a0a0a0"/>
<rect x="314.7" y="210.2" width="0.8" height="1.4" fill="#a0a0a0"/>
<rect x="320.2" y="210.2" width="0.8" height="1.4" fill="#a0a0a0"/>
<rect x="325.7" y="210.2" width="0.8" height="1.4" fill="#a0a0a0"/>
<rect x="331.2" y="210.2" width="0.8" height="1.4" fill="#a0a0a0"/>
<rect x="336.7" y="210.2" width="0.8" height="1.4" fill="#a0a0a0"/>
<rect x="342.2" y="210.2" width="0.8" height="1.4" fill="#a0a0a0"/>
<rect x="274.2" y="188.5" width="1" height="1" fill="#4650a0" fill-opacity="0.5"/>
<rect x="276.2" y="188.5" width="1" height="1" fill="#3455f2"/>
<rect x="277.2" y="188.5" width="1" height="1" fill="#315bf5"/>
<rect x="278.2" y="188.5" width="1" height="1" fill="#305cf6"/>
<rect x="279.2" y="188.5" width="1" height="1" fill="#315bf5"/>
<rect x="281.2" y="188.5" width="1" height="1" fill="#3259f4"/>
<rect x="282.2" y="188.5" width="1" height="1" fill="#3455f2"/>
<rect x="270.2" y="189.5" width="1" height="1" fill="#4650a0" fill-opacity="0.7"/>
<rect x="272.2" y="189.5" width="1" height="1" fill="#3553f1"/>
<rect x="273.2" y="189.5" width="1" height="1" fill="#305cf6"/>
<rect x="276.2" y="189.5" width="1" height="1" fill="#248af8"/>
<rect x="277.2" y="189.5" width="1" height="1" fill="#229cf4"/>
<rect x="278.2" y="189.5" width="2" height="1" fill="#22a1f3"/>
<rect x="280.2" y="189.5" width="1" height="1" fill="#229ef4"/>
<rect x="281.2" y="189.5" width="1" height="1" fill="#2399f5"/>
<rect x="282.2" y="189.5" width="1" height="1" fill="#248ff7"/>
<rect x="283.2" y="189.5" width="1" height="1" fill="#267dfb"/>
<rect x="284.2" y="189.5" width="1" height="1" fill="#296afd"/>
<rect x="286.2" y="189.5" width="1" height="1" fill="#3357f3"/>
<rect x="287.2" y="189.5" width="1" height="1" fill="#384dee"/>
<rect x="288.2" y="189.5" width="1" height="1" fill="#4650a0" fill-opacity="0.5"/>
<rect x="291.2" y="189.5" width="2" height="1" fill="#4650a0" fill-opacity="0.5"/>
<rect x="266.2" y="190.5" width="1" height="1" fill="#4650a0" fill-opacity="0.5"/>
<rect x="269.2" y="190.5" width="1" height="1" fill="#3a48ec"/>
<rect x="270.2" y="190.5" width="1" height="1" fill="#3455f2"/>
<rect x="271.2" y="190.5" width="1" height="1" fill="#2e61f8"/>
<rect x="272.2" y="190.5" width="1" height="1" fill="#2771fe"/>
<rect x="273.2" y="190.5" width="1" height="1" fill="#2395f6"/>
<rect x="274.2" y="190.5" width="1" height="1" fill="#1fbced"/>
<rect x="275.2" y="190.5" width="1" height="1" fill="#25cdc2"/>
<rect x="276.2" y="190.5" width="1" height="1" fill="#2ed394"/>
<rect x="277.2" y="190.5" width="1" height="1" fill="#34d776"/>
<rect x="278.2" y="190.5" width="1" height="1" fill="#37d966"/>
<rect x="279.2" y="190.5" width="1" height="1" fill="#37d965"/>
<rect x="280.2" y="190.5" width="1" height="1" fill="#35d770"/>
<rect x="281.2" y="190.5" width="1" height="1" fill="#33d67b"/>
<rect x="282.2" y="190.5" width="1" height="1" fill="#30d48b"/>
<rect x="283.2" y="190.5" width="1" height="1" fill="#28cfb2"/>
<rect x="284.2" y="190.5" width="1" height="1" fill="#1ec8e9"/>
<rect x="285.2" y="190.5" width="1" height="1" fill="#22a2f3"/>
<rect x="286.2" y="190.5" width="1" height="1" fill="#267cfb"/>
<rect x="287.2" y="190.5" width="1" height="1" fill="#2c64fa"/>
<rect x="288.2" y="190.5" width="1" height="1" fill="#3258f4"/>
<rect x="289.2" y="190.5" width="1" height="1" fill="#3650f0"/>
<rect x="293.2" y="190.5" width="1" height="1" fill="#4650a0" fill-opacity="0.5"/>
<rect x="297.2" y="190.5" width="1" height="1" fill="#4650a0" fill-opacity="0.5"/>
<rect x="304.2" y="190.5" width="1" height="1" fill="#4650a0" fill-opacity="0.5"/>
<rect x="310.2" y="190.5" width="1" height="1" fill="#4650a0" fill-opacity="0.5"/>
<rect x="268.2" y="191.5" width="1" height="1" fill="#3a48ec"/>
<rect x="269.2" y="191.5" width="1" height="1" fill="#3258f4"/>
<rect x="270.2" y="191.5" width="1" height="1" fill="#2b66fb"/>
<rect x="271.2" y="191.5" width="1" height="1" fill="#2586f9"/>
<rect x="272.2" y="191.5" width="1" height="1" fill="#20b5ef"/>
<rect x="273.2" y="191.5" width="1" height="1" fill="#27ceba"/>
<rect x="274.2" y="191.5" width="1" height="1" fill="#38d963"/>
<rect x="275.2" y="191.5" width="1" height="1" fill="#80df40"/>
<rect x="276.2" y="191.5" width="1" height="1" fill="#bde333"/>
<rect x="277.2" y="191.5" width="1" height="1" fill="#eae529"/>
<rect x="278.2" y="191.5" width="1" height="1" fill="#f2ce25"/>
<rect x="279.2" y="191.5" width="1" height="1" fill="#f2c725"/>
<rect x="280.2" y="191.5" width="1" height="1" fill="#f1da26"/>
<rect x="281.2" y="191.5" width="1" height="1" fill="#e1e52b"/>
<rect x="282.2" y="191.5" width="1" height="1" fill="#bee333"/>
<rect x="283.2" y="191.5" width="1" height="1" fill="#7edf41"/>
<rect x="284.2" y="191.5" width="1" height="1" fill="#38d960"/>
<rect x="285.2" y="191.5" width="1" height="1" fill="#2ad0ac"/>
<rect x="286.2" y="191.5" width="1" height="1" fill="#1fbeed"/>
<rect x="287.2" y="191.5" width="1" height="1" fill="#248af8"/>
<rect x="288.2" y="191.5" width="1" height="1" fill="#2a69fc"/>
<rect x="289.2" y="191.5" width="1" height="1" fill="#2f5ef7"/>
<rect x="290.2" y="191.5" width="1" height="1" fill="#3454f2"/>
<rect x="291.2" y="191.5" width="1" height="1" fill="#3a49ec"/>
<rect x="293.2" y="191.5" width="1" height="1" fill="#4650a0" fill-opacity="0.8"/>
<rect x="296.2" y="191.5" width="1" height="1" fill="#4650a0" fill-opacity="0.5"/>
<rect x="304.2" y="191.5" width="1" height="1" fill="#4650a0" fill-opacity="0.5"/>
<rect x="307.2" y="191.5" width="1" height="1" fill="#4650a0" fill-opacity="0.5"/>
<rect x="309.2" y="191.5" width="1" height="1" fill="#4650a0" fill-opacity="0.5"/>
<rect x="313.2" y="191.5" width="1" height="1" fill="#4650a0" fill-opacity="0.5"/>
<rect x="316.2" y="191.5" width="2" height="1" fill="#4650a0" fill-opacity="0.5"/>
<rect x="265.2" y="192.5" width="2" height="1" fill="#4650a0" fill-opacity="0.5"/>
<rect x="268.2" y="192.5" width="1" height="1" fill="#3651f0"/>
<rect x="269.2" y="192.5" width="1" height="1" fill="#2e60f8"/>
<rect x="270.2" y="192.5" width="1" height="1" fill="#2773fd"/>
<rect x="271.2" y="192.5" width="1" height="1" fill="#22a3f3"/>
<rect x="272.2" y="192.5" width="1" height="1" fill="#23cbce"/>
<rect x="273.2" y="192.5" width="1" height="1" fill="#35d771"/>
<rect x="274.2" y="192.5" width="1" height="1" fill="#8ee03d"/>
<rect x="275.2" y="192.5" width="1" height="1" fill="#f0e127"/>
<rect x="276.2" y="192.5" width="1" height="1" fill="#f5a922"/>
<rect x="277.2" y="192.5" width="1" height="1" fill="#f97a1e"/>
<rect x="278.2" y="192.5" width="1" height="1" fill="#ee4a1e"/>
<rect x="279.2" y="192.5" width="1" height="1" fill="#e9341e"/>
<rect x="280.2" y="192.5" width="1" height="1" fill="#ed471e"/>
<rect x="281.2" y="192.5" width="1" height="1" fill="#f8711e"/>
<rect x="282.2" y="192.5" width="1" height="1" fill="#f5a522"/>
<rect x="283.2" y="192.5" width="1" height="1" fill="#e6e52a"/>
<rect x="284.2" y="192.5" width="1" height="1" fill="#82df40"/>
<rect x="285.2" y="192.5" width="1" height="1" fill="#37d965"/>
<rect x="286.2" y="192.5" width="1" height="1" fill="#27ceb9"/>
<rect x="287.2" y="192.5" width="1" height="1" fill="#20aff0"/>
<rect x="288.2" y="192.5" width="1" height="1" fill="#267cfb"/>
<rect x="289.2" y="192.5" width="1" height="1" fill="#2c64fa"/>
<rect x="290.2" y="192.5" width="1" height="1" fill="#3259f4"/>
<rect x="291.2" y="192.5" width="1" height="1" fill="#374eef"/>
<rect x="292.2" y="192.5" width="2" height="1" fill="#4650a0" fill-opacity="0.5"/>
<rect x="295.2" y="192.5" width="1" height="1" fill="#4650a0" fill-opacity="0.5"/>
<rect x="297.2" y="192.5" width="1" height="1" fill="#4650a0" fill-opacity="0.5"/>
<rect x="304.2" y="192.5" width="1" height="1" fill="#4650a0" fill-opacity="0.5"/>
<rect x="312.2" y="192.5" width="1" height="1" fill="#4650a0" fill-opacity="0.5"/>
<rect x="316.2" y="192.5" width="1" height="1" fill="#4650a0" fill-opacity="0.5"/>
<rect x="318.2" y="192.5" width="1" height="1" fill="#4650a0" fill-opacity="0.5"/>
<rect x="320.2" y="192.5" width="1" height="1" fill="#4650a0" fill-opacity="0.7"/>
<rect x="325.2" y="192.5" width="1" height="1" fill="#4650a0" fill-opacity="0.5"/>
<rect x="328.2" y="192.5" width="1" height="1" fill="#4650a0" fill-opacity="0.5"/>
<rect x="264.2" y="193.5" width="1" height="1" fill="#4650a0" fill-opacity="0.5"/>
<rect x="266.2" y="193.5" width="1" height="1" fill="#4650a0" fill-opacity="0.7"/>
<rect x="267.2" y="193.5" width="1" height="1" fill="#4650a0" fill-opacity="0.5"/>
<rect x="268.2" y="193.5" width="1" height="1" fill="#3552f1"/>
<rect x="269.2" y="193.5" width="1" height="1" fill="#2f5ff7"/>
<rect x="270.2" y="193.5" width="1" height="1" fill="#286dfe"/>
<rect x="271.2" y="193.5" width="1" height="1" fill="#229bf4"/>
<rect x="272.2" y="193.5" width="1" height="1" fill="#21cada"/>
<rect x="273.2" y="193.5" width="1" height="1" fill="#33d67a"/>
<rect x="274.2" y="193.5" width="1" height="1" fill="#84e03f"/>
<rect x="275.2" y="193.5" width="1" height="1" fill="#e6e52a"/>
<rect x="276.2" y="193.5" width="1" height="1" fill="#f4b523"/>
<rect x="277.2" y="193.5" width="1" height="1" fill="#f9801e"/>
<rect x="278.2" y="193.5" width="1" height="1" fill="#ee481e"/>
<rect x="279.2" y="193.5" width="1" height="1" fill="#e6281e"/>
<rect x="280.2" y="193.5" width="1" height="1" fill="#e72f1e"/>
<rect x="281.2" y="193.5" width="1" height="1" fill="#f25a1e"/>
<rect x="282.2" y="193.5" width="1" height="1" fill="#f69a21"/>
<rect x="283.2" y="193.5" width="1" height="1" fill="#e9e529"/>
<rect x="284.2" y="193.5" width="1" height="1" fill="#85e03f"/>
<rect x="285.2" y="193.5" width="1" height="1" fill="#39da5f"/>
<rect x="286.2" y="193.5" width="1" height="1" fill="#29cfb0"/>
<rect x="287.2" y="193.5" width="1" height="1" fill="#20b3ef"/>
<rect x="288.2" y="193.5" width="1" height="1" fill="#2679fc"/>
<rect x="289.2" y="193.5" width="1" height="1" fill="#2e60f8"/>
<rect x="290.2" y="193.5" width="1" height="1" fill="#3454f2"/>
<rect x="291.2" y="193.5" width="1" height="1" fill="#3a49ec"/>
<rect x="292.2" y="193.5" width="5" height="1" fill="#4650a0" fill-opacity="0.5"/>
<rect x="299.2" y="193.5" width="1" height="1" fill="#4650a0" fill-opacity="0.5"/>
<rect x="300.2" y="193.5" width="1" height="1" fill="#4650a0" fill-opacity="0.7"/>
<rect x="303.2" y="193.5" width="1" height="1" fill="#4650a0" fill-opacity="0.7"/>
<rect x="305.2" y="193.5" width="1" height="1" fill="#4650a0" fill-opacity="0.5"/>
<rect x="306.2" y="193.5" width="1" height="1" fill="#4650a0" fill-opacity="0.7"/>
<rect x="307.2" y="193.5" width="1" height="1" fill="#4650a0" fill-opacity="0.5"/>
<rect x="312.2" y="193.5" width="1" height="1" fill="#4650a0" fill-opacity="0.5"/>
<rect x="314.2" y="193.5" width="1" height="1" fill="#4650a0" fill-opacity="0.8"/>
<rect x="319.2" y="193.5" width="1" height="1" fill="#4650a0" fill-opacity="0.8"/>
<rect x="321.2" y="193.5" width="1" height="1" fill="#4650a0" fill-opacity="0.5"/>
<rect x="322.2" y="193.5" width="1" height="1" fill="#4650a0" fill-opacity="0.7"/>
<rect x="330.2" y="193.5" width="1" height="1" fill="#4650a0" fill-opacity="0.5"/>
<rect x="268.2" y="194.5" width="1" height="1" fill="#3a48ec"/>
<rect x="269.2" y="194.5" width="1" height="1" fill="#3455f2"/>
<rect x="270.2" y="194.5" width="1" height="1" fill="#2e61f8"/>
<rect x="271.2" y="194.5" width="1" height="1" fill="#2774fd"/>
<rect x="272.2" y="194.5" width="1" height="1" fill="#22a3f3"/>
<rect x="273.2" y="194.5" width="1" height="1" fill="#23cbce"/>
<rect x="274.2" y="194.5" width="1" height="1" fill="#34d776"/>
<rect x="275.2" y="194.5" width="1" height="1" fill="#62de47"/>
<rect x="276.2" y="194.5" width="1" height="1" fill="#9fe139"/>
<rect x="277.2" y="194.5" width="1" height="1" fill="#d8e42d"/>
<rect x="278.2" y="194.5" width="1" height="1" fill="#f2cb25"/>
<rect x="279.2" y="194.5" width="1" height="1" fill="#f5ad22"/>
<rect x="280.2" y="194.5" width="1" height="1" fill="#f5aa22"/>
<rect x="281.2" y="194.5" width="1" height="1" fill="#f3c324"/>
<rect x="282.2" y="194.5" width="1" height="1" fill="#dce42c"/>
<rect x="283.2" y="194.5" width="1" height="1" fill="#89e03e"/>
<rect x="284.2" y="194.5" width="1" height="1" fill="#3bdb53"/>
<rect x="285.2" y="194.5" width="1" height="1" fill="#2ed296"/>
<rect x="286.2" y="194.5" width="1" height="1" fill="#1fc8e5"/>
<rect x="287.2" y="194.5" width="1" height="1" fill="#2490f7"/>
<rect x="288.2" y="194.5" width="1" height="1" fill="#2c65fa"/>
<rect x="290.2" y="194.5" width="1" height="1" fill="#3a49ec"/>
<rect x="293.2" y="194.5" width="2" height="1" fill="#4650a0" fill-opacity="0.5"/>
<rect x="301.2" y="194.5" width="1" height="1" fill="#4650a0" fill-opacity="0.5"/>
<rect x="307.2" y="194.5" width="1" height="1" fill="#4650a0" fill-opacity="0.7"/>
<rect x="308.2" y="194.5" width="1" height="1" fill="#4650a0" fill-opacity="0.8"/>
<rect x="310.2" y="194.5" width="2" height="1" fill="#4650a0" fill-opacity="0.7"/>
<rect x="318.2" y="194.5" width="1" height="1" fill="#4650a0" fill-opacity="0.7"/>
<rect x="319.2" y="194.5" width="2" height="1" fill="#4650a0" fill-opacity="0.5"/>
<rect x="326.2" y="194.5" width="1" height="1" fill="#4650a0" fill-opacity="0.5"/>
<rect x="266.2" y="195.5" width="1" height="1" fill="#4650a0" fill-opacity="0.5"/>
<rect x="271.2" y="195.5" width="1" height="1" fill="#315bf5"/>
<rect x="273.2" y="195.5" width="1" height="1" fill="#248cf8"/>
<rect x="274.2" y="195.5" width="1" height="1" fill="#1fb8ee"/>
<rect x="275.2" y="195.5" width="1" height="1" fill="#23cbce"/>
<rect x="276.2" y="195.5" width="1" height="1" fill="#2ad0ab"/>
<rect x="277.2" y="195.5" width="1" height="1" fill="#30d489"/>
<rect x="278.2" y="195.5" width="1" height="1" fill="#38d964"/>
<rect x="279.2" y="195.5" width="1" height="1" fill="#44dc4e"/>
<rect x="280.2" y="195.5" width="1" height="1" fill="#4edd4b"/>
<rect x="281.2" y="195.5" width="1" height="1" fill="#41dc4e"/>
<rect x="282.2" y="195.5" width="1" height="1" fill="#36d86e"/>
<rect x="283.2" y="195.5" width="1" height="1" fill="#2cd19f"/>
<rect x="284.2" y="195.5" width="1" height="1" fill="#23cbcd"/>
<rect x="285.2" y="195.5" width="1" height="1" fill="#1fbbed"/>
<rect x="286.2" y="195.5" width="1" height="1" fill="#248df7"/>
<rect x="287.2" y="195.5" width="1" height="1" fill="#2c65fa"/>
<rect x="288.2" y="195.5" width="1" height="1" fill="#3553f1"/>
<rect x="290.2" y="195.5" width="1" height="1" fill="#4650a0" fill-opacity="0.5"/>
<rect x="298.2" y="195.5" width="2" height="1" fill="#4650a0" fill-opacity="0.5"/>
<rect x="301.2" y="195.5" width="2" height="1" fill="#4650a0" fill-opacity="0.5"/>
<rect x="304.2" y="195.5" width="1" height="1" fill="#4650a0" fill-opacity="0.5"/>
<rect x="306.2" y="195.5" width="1" height="1" fill="#4650a0" fill-opacity="0.5"/>
<rect x="308.2" y="195.5" width="1" height="1" fill="#4650a0" fill-opacity="0.5"/>
<rect x="311.2" y="195.5" width="1" height="1" fill="#4650a0" fill-opacity="0.5"/>
<rect x="313.2" y="195.5" width="3" height="1" fill="#4650a0" fill-opacity="0.5"/>
<rect x="317.2" y="195.5" width="1" height="1" fill="#4650a0" fill-opacity="0.5"/>
<rect x="321.2" y="195.5" width="2" height="1" fill="#4650a0" fill-opacity="0.5"/>
<rect x="326.2" y="195.5" width="1" height="1" fill="#4650a0" fill-opacity="0.5"/>
<rect x="272.2" y="196.5" width="1" height="1" fill="#3650f0"/>
<rect x="273.2" y="196.5" width="1" height="1" fill="#305cf6"/>
<rect x="274.2" y="196.5" width="1" height="1" fill="#2a68fc"/>
<rect x="275.2" y="196.5" width="1" height="1" fill="#2774fd"/>
<rect x="276.2" y="196.5" width="1" height="1" fill="#2580fa"/>
<rect x="277.2" y="196.5" width="1" height="1" fill="#248df7"/>
<rect x="278.2" y="196.5" width="1" height="1" fill="#22a0f3"/>
<rect x="279.2" y="196.5" width="1" height="1" fill="#20aef0"/>
<rect x="280.2" y="196.5" width="1" height="1" fill="#20b4ef"/>
<rect x="281.2" y="196.5" width="1" height="1" fill="#20b0f0"/>
<rect x="282.2" y="196.5" width="1" height="1" fill="#22a0f3"/>
<rect x="284.2" y="196.5" width="1" height="1" fill="#267cfb"/>
<rect x="285.2" y="196.5" width="1" height="1" fill="#286cfe"/>
<rect x="286.2" y="196.5" width="1" height="1" fill="#2f5ff7"/>
<rect x="289.2" y="196.5" width="1" height="1" fill="#4650a0" fill-opacity="0.5"/>
<rect x="292.2" y="196.5" width="1" height="1" fill="#4650a0" fill-opacity="0.5"/>
<rect x="296.2" y="196.5" width="1" height="1" fill="#4650a0" fill-opacity="0.7"/>
<rect x="297.2" y="196.5" width="1" height="1" fill="#4650a0" fill-opacity="0.5"/>
<rect x="302.2" y="196.5" width="1" height="1" fill="#4650a0" fill-opacity="0.5"/>
<rect x="304.2" y="196.5" width="1" height="1" fill="#4650a0" fill-opacity="0.7"/>
<rect x="313.2" y="196.5" width="1" height="1" fill="#4650a0" fill-opacity="0.5"/>
<rect x="316.2" y="196.5" width="1" height="1" fill="#4650a0" fill-opacity="0.5"/>
<rect x="318.2" y="196.5" width="1" height="1" fill="#4650a0" fill-opacity="0.7"/>
<rect x="319.2" y="196.5" width="1" height="1" fill="#4650a0" fill-opacity="0.5"/>
<rect x="328.2" y="196.5" width="1" height="1" fill="#4650a0" fill-opacity="0.5"/>
<rect x="335.2" y="196.5" width="1" height="1" fill="#4650a0" fill-opacity="0.5"/>
<rect x="275.2" y="197.5" width="1" height="1" fill="#374fef"/>
<rect x="276.2" y="197.5" width="1" height="1" fill="#3552f1"/>
<rect x="277.2" y="197.5" width="1" height="1" fill="#3455f2"/>
<rect x="278.2" y="197.5" width="1" height="1" fill="#3259f4"/>
<rect x="281.2" y="197.5" width="1" height="1" fill="#305df6"/>
<rect x="284.2" y="197.5" width="1" height="1" fill="#3552f1"/>
<rect x="285.2" y="197.5" width="1" height="1" fill="#374fef"/>
<rect x="290.2" y="197.5" width="1" height="1" fill="#4650a0" fill-opacity="0.7"/>
<rect x="307.2" y="197.5" width="1" height="1" fill="#4650a0" fill-opacity="0.5"/>
<rect x="317.2" y="197.5" width="1" height="1" fill="#4650a0" fill-opacity="0.5"/>
<rect x="321.2" y="197.5" width="1" height="1" fill="#4650a0" fill-opacity="0.5"/>
<rect x="325.2" y="197.5" width="1" height="1" fill="#4650a0" fill-opacity="0.5"/>
<rect x="279.2" y="198.5" width="1" height="1" fill="#4650a0" fill-opacity="0.5"/>
<rect x="286.2" y="198.5" width="1" height="1" fill="#4650a0" fill-opacity="0.5"/>
<rect x="328.0" y="170.6" width="0.9" height="0.9" fill="#505070" fill-opacity="0.55"/>
<rect x="334.0" y="165.0" width="0.9" height="0.9" fill="#505070" fill-opacity="0.55"/>
<rect x="333.3" y="158.8" width="0.9" height="0.9" fill="#505070" fill-opacity="0.55"/>
<rect x="332.6" y="170.3" width="0.9" height="0.9" fill="#505070" fill-opacity="0.55"/>
<rect x="337.5" y="177.7" width="0.9" height="0.9" fill="#505070" fill-opacity="0.55"/>
<rect x="334.4" y="153.4" width="0.9" height="0.9" fill="#505070" fill-opacity="0.55"/>
<rect x="327.1" y="158.0" width="0.9" height="0.9" fill="#505070" fill-opacity="0.55"/>
<rect x="334.0" y="151.3" width="0.9" height="0.9" fill="#505070" fill-opacity="0.55"/>
<rect x="327.6" y="174.8" width="0.9" height="0.9" fill="#505070" fill-opacity="0.55"/>
<rect x="331.7" y="161.7" width="0.9" height="0.9" fill="#505070" fill-opacity="0.55"/>
<rect x="332.8" y="175.0" width="0.9" height="0.9" fill="#505070" fill-opacity="0.55"/>
<rect x="328.9" y="155.0" width="0.9" height="0.9" fill="#505070" fill-opacity="0.55"/>
<rect x="320.4" y="174.2" width="0.9" height="0.9" fill="#505070" fill-opacity="0.55"/>
<rect x="328.5" y="157.6" width="0.9" height="0.9" fill="#505070" fill-opacity="0.55"/>
<rect x="327.5" y="158.9" width="0.9" height="0.9" fill="#505070" fill-opacity="0.55"/>
<rect x="328.7" y="170.9" width="0.9" height="0.9" fill="#505070" fill-opacity="0.55"/>
<rect x="326.9" y="159.8" width="0.9" height="0.9" fill="#505070" fill-opacity="0.55"/>
<rect x="322.7" y="157.4" width="0.9" height="0.9" fill="#505070" fill-opacity="0.55"/>
<rect x="319.8" y="175.1" width="0.9" height="0.9" fill="#505070" fill-opacity="0.55"/>
<rect x="333.4" y="163.7" width="0.9" height="0.9" fill="#505070" fill-opacity="0.55"/>
<rect x="334.2" y="179.3" width="0.9" height="0.9" fill="#505070" fill-opacity="0.55"/>
<rect x="331.7" y="194.6" width="0.9" height="0.9" fill="#505070" fill-opacity="0.55"/>
<rect x="329.2" y="157.8" width="0.9" height="0.9" fill="#505070" fill-opacity="0.55"/>
<rect x="341.2" y="160.5" width="0.9" height="0.9" fill="#505070" fill-opacity="0.55"/>
<rect x="333.5" y="146.4" width="0.9" height="0.9" fill="#505070" fill-opacity="0.55"/>
<rect x="329.6" y="150.5" width="0.9" height="0.9" fill="#505070" fill-opacity="0.55"/>
<rect x="334.5" y="171.7" width="0.9" height="0.9" fill="#505070" fill-opacity="0.55"/>
<rect x="329.1" y="168.1" width="0.9" height="0.9" fill="#505070" fill-opacity="0.55"/>
<rect x="333.8" y="167.8" width="0.9" height="0.9" fill="#505070" fill-opacity="0.55"/>
<rect x="331.3" y="170.0" width="0.9" height="0.9" fill="#505070" fill-opacity="0.55"/>
<line x1="296.6" y1="132.5" x2="296.6" y2="211.2" stroke="#555" stroke-width="1" />
<line x1="262.2" y1="186.6" x2="347.5" y2="186.6" stroke="#555" stroke-width="1" />
<rect x="357.20" y="131.00" width="84.00" height="79.50" fill="#fff" stroke="none" stroke-width="0" />
<line x1="357.2" y1="131" x2="441.2" y2="131" stroke="#b8b8b8" stroke-width="1" />
<line x1="441.2" y1="131" x2="441.2" y2="210.5" stroke="#c8c8c8" stroke-width="1" />
<line x1="357.2" y1="131" x2="357.2" y2="210.5" stroke="#e4e4e4" stroke-width="1" />
<line x1="357.2" y1="210.5" x2="441.2" y2="210.5" stroke="#e4e4e4" stroke-width="1" />
<rect x="356.7" y="207.5" width="1.4" height="0.8" fill="#909090"/>
<rect x="356.7" y="202.0" width="1.4" height="0.8" fill="#909090"/>
<rect x="356.7" y="196.5" width="1.4" height="0.8" fill="#909090"/>
<rect x="356.7" y="191.0" width="1.4" height="0.8" fill="#909090"/>
<rect x="356.7" y="185.5" width="1.4" height="0.8" fill="#909090"/>
<rect x="356.7" y="180.0" width="1.4" height="0.8" fill="#909090"/>
<rect x="356.7" y="174.5" width="1.4" height="0.8" fill="#909090"/>
<rect x="356.7" y="169.0" width="1.4" height="0.8" fill="#909090"/>
<rect x="356.7" y="163.5" width="1.4" height="0.8" fill="#909090"/>
<rect x="356.7" y="158.0" width="1.4" height="0.8" fill="#909090"/>
<rect x="356.7" y="152.5" width="1.4" height="0.8" fill="#909090"/>
<rect x="356.7" y="147.0" width="1.4" height="0.8" fill="#909090"/>
<rect x="356.7" y="141.5" width="1.4" height="0.8" fill="#909090"/>
<rect x="356.7" y="136.0" width="1.4" height="0.8" fill="#909090"/>
<rect x="360.2" y="209.5" width="0.8" height="1.4" fill="#a0a0a0"/>
<rect x="365.7" y="209.5" width="0.8" height="1.4" fill="#a0a0a0"/>
<rect x="371.2" y="209.5" width="0.8" height="1.4" fill="#a0a0a0"/>
<rect x="376.7" y="209.5" width="0.8" height="1.4" fill="#a0a0a0"/>
<rect x="382.2" y="209.5" width="0.8" height="1.4" fill="#a0a0a0"/>
<rect x="387.7" y="209.5" width="0.8" height="1.4" fill="#a0a0a0"/>
<rect x="393.2" y="209.5" width="0.8" height="1.4" fill="#a0a0a0"/>
<rect x="398.7" y="209.5" width="0.8" height="1.4" fill="#a0a0a0"/>
<rect x="404.2" y="209.5" width="0.8" height="1.4" fill="#a0a0a0"/>
<rect x="409.7" y="209.5" width="0.8" height="1.4" fill="#a0a0a0"/>
<rect x="415.2" y="209.5" width="0.8" height="1.4" fill="#a0a0a0"/>
<rect x="420.7" y="209.5" width="0.8" height="1.4" fill="#a0a0a0"/>
<rect x="426.2" y="209.5" width="0.8" height="1.4" fill="#a0a0a0"/>
<rect x="431.7" y="209.5" width="0.8" height="1.4" fill="#a0a0a0"/>
<rect x="437.2" y="209.5" width="0.8" height="1.4" fill="#a0a0a0"/>
<rect x="372.2" y="187.0" width="1" height="1" fill="#4650a0" fill-opacity="0.5"/>
<rect x="370.2" y="188.0" width="1" height="1" fill="#4650a0" fill-opacity="0.5"/>
<rect x="375.2" y="188.0" width="1" height="1" fill="#374fef"/>
<rect x="377.2" y="188.0" width="1" height="1" fill="#3552f1"/>
<rect x="378.2" y="188.0" width="1" height="1" fill="#374fef"/>
<rect x="380.2" y="188.0" width="1" height="1" fill="#4650a0" fill-opacity="0.5"/>
<rect x="367.2" y="189.0" width="1" height="1" fill="#4650a0" fill-opacity="0.5"/>
<rect x="368.2" y="189.0" width="1" height="1" fill="#3651f0"/>
<rect x="369.2" y="189.0" width="1" height="1" fill="#305df6"/>
<rect x="370.2" y="189.0" width="1" height="1" fill="#2b66fb"/>
<rect x="371.2" y="189.0" width="1" height="1" fill="#286dfe"/>
<rect x="372.2" y="189.0" width="1" height="1" fill="#267dfb"/>
<rect x="373.2" y="189.0" width="1" height="1" fill="#2489f8"/>
<rect x="374.2" y="189.0" width="1" height="1" fill="#248bf8"/>
<rect x="375.2" y="189.0" width="1" height="1" fill="#2587f9"/>
<rect x="377.2" y="189.0" width="1" height="1" fill="#2585f9"/>
<rect x="378.2" y="189.0" width="1" height="1" fill="#2677fc"/>
<rect x="380.2" y="189.0" width="1" height="1" fill="#2e61f8"/>
<rect x="381.2" y="189.0" width="1" height="1" fill="#3259f4"/>
<rect x="384.2" y="189.0" width="1" height="1" fill="#4650a0" fill-opacity="0.5"/>
<rect x="399.2" y="189.0" width="1" height="1" fill="#4650a0" fill-opacity="0.5"/>
<rect x="403.2" y="189.0" width="1" height="1" fill="#4650a0" fill-opacity="0.5"/>
<rect x="411.2" y="189.0" width="1" height="1" fill="#4650a0" fill-opacity="0.5"/>
<rect x="365.2" y="190.0" width="1" height="1" fill="#4650a0" fill-opacity="0.5"/>
<rect x="368.2" y="190.0" width="1" height="1" fill="#296bfd"/>
<rect x="369.2" y="190.0" width="1" height="1" fill="#2395f6"/>
<rect x="370.2" y="190.0" width="1" height="1" fill="#1fb9ee"/>
<rect x="371.2" y="190.0" width="1" height="1" fill="#23cbce"/>
<rect x="372.2" y="190.0" width="1" height="1" fill="#2dd29c"/>
<rect x="373.2" y="190.0" width="1" height="1" fill="#33d67a"/>
<rect x="374.2" y="190.0" width="1" height="1" fill="#35d770"/>
<rect x="375.2" y="190.0" width="1" height="1" fill="#33d67d"/>
<rect x="376.2" y="190.0" width="1" height="1" fill="#2fd390"/>
<rect x="377.2" y="190.0" width="1" height="1" fill="#2cd1a2"/>
<rect x="378.2" y="190.0" width="1" height="1" fill="#25ccc6"/>
<rect x="379.2" y="190.0" width="1" height="1" fill="#1fbded"/>
<rect x="380.2" y="190.0" width="1" height="1" fill="#229ef4"/>
<rect x="381.2" y="190.0" width="1" height="1" fill="#267ffb"/>
<rect x="382.2" y="190.0" width="1" height="1" fill="#2c65fa"/>
<rect x="383.2" y="190.0" width="1" height="1" fill="#3356f3"/>
<rect x="384.2" y="190.0" width="1" height="1" fill="#384cee"/>
<rect x="391.2" y="190.0" width="1" height="1" fill="#4650a0" fill-opacity="0.5"/>
<rect x="399.2" y="190.0" width="1" height="1" fill="#4650a0" fill-opacity="0.7"/>
<rect x="362.2" y="191.0" width="1" height="1" fill="#4650a0" fill-opacity="0.5"/>
<rect x="364.2" y="191.0" width="1" height="1" fill="#384dee"/>
<rect x="365.2" y="191.0" width="1" height="1" fill="#3356f3"/>
<rect x="366.2" y="191.0" width="1" height="1" fill="#2f5ef7"/>
<rect x="367.2" y="191.0" width="1" height="1" fill="#2770fe"/>
<rect x="368.2" y="191.0" width="1" height="1" fill="#21aaf1"/>
<rect x="369.2" y="191.0" width="1" height="1" fill="#27ceb9"/>
<rect x="370.2" y="191.0" width="1" height="1" fill="#37d867"/>
<rect x="371.2" y="191.0" width="1" height="1" fill="#7cdf41"/>
<rect x="372.2" y="191.0" width="1" height="1" fill="#d1e42e"/>
<rect x="373.2" y="191.0" width="1" height="1" fill="#f2cc25"/>
<rect x="374.2" y="191.0" width="1" height="1" fill="#f3bc24"/>
<rect x="375.2" y="191.0" width="1" height="1" fill="#f1d226"/>
<rect x="376.2" y="191.0" width="1" height="1" fill="#d6e42d"/>
<rect x="377.2" y="191.0" width="1" height="1" fill="#a7e138"/>
<rect x="378.2" y="191.0" width="1" height="1" fill="#66de46"/>
<rect x="379.2" y="191.0" width="1" height="1" fill="#35d773"/>
<rect x="380.2" y="191.0" width="1" height="1" fill="#27ceb7"/>
<rect x="381.2" y="191.0" width="1" height="1" fill="#1fbced"/>
<rect x="382.2" y="191.0" width="1" height="1" fill="#2586f9"/>
<rect x="383.2" y="191.0" width="1" height="1" fill="#2c65fa"/>
<rect x="385.2" y="191.0" width="1" height="1" fill="#374fef"/>
<rect x="386.2" y="191.0" width="2" height="1" fill="#4650a0" fill-opacity="0.5"/>
<rect x="390.2" y="191.0" width="1" height="1" fill="#4650a0" fill-opacity="0.5"/>
<rect x="392.2" y="191.0" width="1" height="1" fill="#4650a0" fill-opacity="0.5"/>
<rect x="400.2" y="191.0" width="1" height="1" fill="#4650a0" fill-opacity="0.7"/>
<rect x="404.2" y="191.0" width="1" height="1" fill="#4650a0" fill-opacity="0.5"/>
<rect x="410.2" y="191.0" width="1" height="1" fill="#4650a0" fill-opacity="0.5"/>
<rect x="363.2" y="192.0" width="1" height="1" fill="#4650a0" fill-opacity="0.5"/>
<rect x="364.2" y="192.0" width="1" height="1" fill="#3454f2"/>
<rect x="365.2" y="192.0" width="1" height="1" fill="#2e60f8"/>
<rect x="366.2" y="192.0" width="1" height="1" fill="#286cfe"/>
<rect x="367.2" y="192.0" width="1" height="1" fill="#239af5"/>
<rect x="368.2" y="192.0" width="1" height="1" fill="#24cccb"/>
<rect x="369.2" y="192.0" width="1" height="1" fill="#39da5f"/>
<rect x="370.2" y="192.0" width="1" height="1" fill="#9fe139"/>
<rect x="371.2" y="192.0" width="1" height="1" fill="#f2cf25"/>
<rect x="372.2" y="192.0" width="1" height="1" fill="#f9821e"/>
<rect x="373.2" y="192.0" width="1" height="1" fill="#ec421e"/>
<rect x="374.2" y="192.0" width="1" height="1" fill="#e6281e"/>
<rect x="375.2" y="192.0" width="1" height="1" fill="#ec421e"/>
<rect x="376.2" y="192.0" width="1" height="1" fill="#f97a1e"/>
<rect x="377.2" y="192.0" width="1" height="1" fill="#f4b023"/>
<rect x="378.2" y="192.0" width="1" height="1" fill="#dde42c"/>
<rect x="379.2" y="192.0" width="1" height="1" fill="#73df43"/>
<rect x="380.2" y="192.0" width="1" height="1" fill="#33d67a"/>
<rect x="381.2" y="192.0" width="1" height="1" fill="#23cbcf"/>
<rect x="382.2" y="192.0" width="1" height="1" fill="#22a1f3"/>
<rect x="383.2" y="192.0" width="1" height="1" fill="#2772fd"/>
<rect x="384.2" y="192.0" width="1" height="1" fill="#2d63f9"/>
<rect x="385.2" y="192.0" width="1" height="1" fill="#3259f4"/>
<rect x="386.2" y="192.0" width="1" height="1" fill="#3650f0"/>
<rect x="387.2" y="192.0" width="1" height="1" fill="#3a48ec"/>
<rect x="388.2" y="192.0" width="2" height="1" fill="#4650a0" fill-opacity="0.5"/>
<rect x="390.2" y="192.0" width="1" height="1" fill="#3b47eb"/>
<rect x="391.2" y="192.0" width="1" height="1" fill="#4650a0" fill-opacity="0.5"/>
<rect x="393.2" y="192.0" width="1" height="1" fill="#4650a0" fill-opacity="0.5"/>
<rect x="395.2" y="192.0" width="1" height="1" fill="#3b47eb"/>
<rect x="396.2" y="192.0" width="1" height="1" fill="#3b46eb"/>
<rect x="398.2" y="192.0" width="1" height="1" fill="#3b47eb"/>
<rect x="399.2" y="192.0" width="1" height="1" fill="#394bed"/>
<rect x="400.2" y="192.0" width="1" height="1" fill="#384cee"/>
<rect x="401.2" y="192.0" width="1" height="1" fill="#394aed"/>
<rect x="404.2" y="192.0" width="1" height="1" fill="#4650a0" fill-opacity="0.7"/>
<rect x="405.2" y="192.0" width="3" height="1" fill="#4650a0" fill-opacity="0.5"/>
<rect x="411.2" y="192.0" width="1" height="1" fill="#4650a0" fill-opacity="0.5"/>
<rect x="413.2" y="192.0" width="2" height="1" fill="#4650a0" fill-opacity="0.5"/>
<rect x="361.2" y="193.0" width="1" height="1" fill="#4650a0" fill-opacity="0.7"/>
<rect x="362.2" y="193.0" width="1" height="1" fill="#4650a0" fill-opacity="0.5"/>
<rect x="365.2" y="193.0" width="1" height="1" fill="#2d62f9"/>
<rect x="366.2" y="193.0" width="1" height="1" fill="#2774fd"/>
<rect x="367.2" y="193.0" width="1" height="1" fill="#21a5f2"/>
<rect x="368.2" y="193.0" width="1" height="1" fill="#27ceba"/>
<rect x="369.2" y="193.0" width="1" height="1" fill="#3bdb52"/>
<rect x="370.2" y="193.0" width="1" height="1" fill="#a9e237"/>
<rect x="371.2" y="193.0" width="1" height="1" fill="#f1d126"/>
<rect x="372.2" y="193.0" width="1" height="1" fill="#f88d1f"/>
<rect x="373.2" y="193.0" width="1" height="1" fill="#ef4e1e"/>
<rect x="374.2" y="193.0" width="1" height="1" fill="#e62b1e"/>
<rect x="375.2" y="193.0" width="1" height="1" fill="#eb3c1e"/>
<rect x="376.2" y="193.0" width="1" height="1" fill="#f76e1e"/>
<rect x="377.2" y="193.0" width="1" height="1" fill="#f5a822"/>
<rect x="378.2" y="193.0" width="1" height="1" fill="#e1e52b"/>
<rect x="379.2" y="193.0" width="1" height="1" fill="#6fde44"/>
<rect x="380.2" y="193.0" width="1" height="1" fill="#31d486"/>
<rect x="381.2" y="193.0" width="1" height="1" fill="#21cadb"/>
<rect x="382.2" y="193.0" width="1" height="1" fill="#22a1f3"/>
<rect x="383.2" y="193.0" width="1" height="1" fill="#267afc"/>
<rect x="384.2" y="193.0" width="1" height="1" fill="#2b67fb"/>
<rect x="385.2" y="193.0" width="1" height="1" fill="#2f5ef7"/>
<rect x="386.2" y="193.0" width="1" height="1" fill="#3455f2"/>
<rect x="388.2" y="193.0" width="1" height="1" fill="#394aed"/>
<rect x="389.2" y="193.0" width="1" height="1" fill="#384cee"/>
<rect x="390.2" y="193.0" width="2" height="1" fill="#384dee"/>
<rect x="392.2" y="193.0" width="1" height="1" fill="#374fef"/>
<rect x="393.2" y="193.0" width="2" height="1" fill="#3650f0"/>
<rect x="395.2" y="193.0" width="3" height="1" fill="#3651f0"/>
<rect x="398.2" y="193.0" width="1" height="1" fill="#3552f1"/>
<rect x="399.2" y="193.0" width="1" height="1" fill="#3553f1"/>
<rect x="400.2" y="193.0" width="4" height="1" fill="#3454f2"/>
<rect x="404.2" y="193.0" width="1" height="1" fill="#3553f1"/>
<rect x="405.2" y="193.0" width="1" height="1" fill="#3650f0"/>
<rect x="406.2" y="193.0" width="1" height="1" fill="#384dee"/>
<rect x="408.2" y="193.0" width="2" height="1" fill="#4650a0" fill-opacity="0.7"/>
<rect x="410.2" y="193.0" width="1" height="1" fill="#4650a0" fill-opacity="0.5"/>
<rect x="414.2" y="193.0" width="1" height="1" fill="#4650a0" fill-opacity="0.5"/>
<rect x="417.2" y="193.0" width="1" height="1" fill="#4650a0" fill-opacity="0.5"/>
<rect x="362.2" y="194.0" width="1" height="1" fill="#4650a0" fill-opacity="0.5"/>
<rect x="364.2" y="194.0" width="1" height="1" fill="#374fef"/>
<rect x="365.2" y="194.0" width="1" height="1" fill="#305cf6"/>
<rect x="366.2" y="194.0" width="1" height="1" fill="#2a68fc"/>
<rect x="367.2" y="194.0" width="1" height="1" fill="#248af8"/>
<rect x="368.2" y="194.0" width="1" height="1" fill="#1ec3eb"/>
<rect x="369.2" y="194.0" width="1" height="1" fill="#2dd29d"/>
<rect x="370.2" y="194.0" width="1" height="1" fill="#3bdb54"/>
<rect x="371.2" y="194.0" width="1" height="1" fill="#7bdf41"/>
<rect x="372.2" y="194.0" width="1" height="1" fill="#bae333"/>
<rect x="373.2" y="194.0" width="1" height="1" fill="#f0dc27"/>
<rect x="374.2" y="194.0" width="1" height="1" fill="#f3bc24"/>
<rect x="375.2" y="194.0" width="1" height="1" fill="#f3c424"/>
<rect x="376.2" y="194.0" width="1" height="1" fill="#f0e527"/>
<rect x="377.2" y="194.0" width="1" height="1" fill="#b8e234"/>
<rect x="378.2" y="194.0" width="1" height="1" fill="#6dde45"/>
<rect x="379.2" y="194.0" width="1" height="1" fill="#34d677"/>
<rect x="380.2" y="194.0" width="1" height="1" fill="#24ccca"/>
<rect x="381.2" y="194.0" width="1" height="1" fill="#20aff0"/>
<rect x="382.2" y="194.0" width="1" height="1" fill="#2489f8"/>
<rect x="383.2" y="194.0" width="1" height="1" fill="#286cfe"/>
<rect x="384.2" y="194.0" width="1" height="1" fill="#2e61f8"/>
<rect x="385.2" y="194.0" width="1" height="1" fill="#3259f4"/>
<rect x="386.2" y="194.0" width="1" height="1" fill="#3651f0"/>
<rect x="387.2" y="194.0" width="1" height="1" fill="#394aed"/>
<rect x="388.2" y="194.0" width="1" height="1" fill="#4650a0" fill-opacity="0.5"/>
<rect x="389.2" y="194.0" width="1" height="1" fill="#3b47eb"/>
<rect x="390.2" y="194.0" width="1" height="1" fill="#3a48ec"/>
<rect x="391.2" y="194.0" width="1" height="1" fill="#394bed"/>
<rect x="392.2" y="194.0" width="1" height="1" fill="#374eef"/>
<rect x="393.2" y="194.0" width="4" height="1" fill="#3651f0"/>
<rect x="397.2" y="194.0" width="1" height="1" fill="#3553f1"/>
<rect x="398.2" y="194.0" width="1" height="1" fill="#3454f2"/>
<rect x="399.2" y="194.0" width="1" height="1" fill="#3455f2"/>
<rect x="400.2" y="194.0" width="1" height="1" fill="#3357f3"/>
<rect x="401.2" y="194.0" width="1" height="1" fill="#3259f4"/>
<rect x="403.2" y="194.0" width="1" height="1" fill="#3259f4"/>
<rect x="404.2" y="194.0" width="1" height="1" fill="#3258f4"/>
<rect x="405.2" y="194.0" width="1" height="1" fill="#3356f3"/>
<rect x="406.2" y="194.0" width="1" height="1" fill="#3454f2"/>
<rect x="407.2" y="194.0" width="1" height="1" fill="#3651f0"/>
<rect x="408.2" y="194.0" width="1" height="1" fill="#374fef"/>
<rect x="410.2" y="194.0" width="1" height="1" fill="#384cee"/>
<rect x="411.2" y="194.0" width="1" height="1" fill="#3b47eb"/>
<rect x="413.2" y="194.0" width="1" height="1" fill="#4650a0" fill-opacity="0.5"/>
<rect x="415.2" y="194.0" width="1" height="1" fill="#4650a0" fill-opacity="0.5"/>
<rect x="416.2" y="194.0" width="1" height="1" fill="#4650a0" fill-opacity="0.7"/>
<rect x="418.2" y="194.0" width="2" height="1" fill="#4650a0" fill-opacity="0.5"/>
<rect x="358.2" y="195.0" width="1" height="1" fill="#4650a0" fill-opacity="0.5"/>
<rect x="363.2" y="195.0" width="1" height="1" fill="#4650a0" fill-opacity="0.5"/>
<rect x="366.2" y="195.0" width="1" height="1" fill="#3357f3"/>
<rect x="367.2" y="195.0" width="1" height="1" fill="#2d63f9"/>
<rect x="368.2" y="195.0" width="1" height="1" fill="#267efb"/>
<rect x="369.2" y="195.0" width="1" height="1" fill="#21a5f2"/>
<rect x="370.2" y="195.0" width="1" height="1" fill="#1ec5eb"/>
<rect x="371.2" y="195.0" width="1" height="1" fill="#24ccca"/>
<rect x="372.2" y="195.0" width="1" height="1" fill="#2bd1a4"/>
<rect x="373.2" y="195.0" width="1" height="1" fill="#34d677"/>
<rect x="374.2" y="195.0" width="1" height="1" fill="#39da5c"/>
<rect x="375.2" y="195.0" width="1" height="1" fill="#38d962"/>
<rect x="376.2" y="195.0" width="1" height="1" fill="#33d67a"/>
<rect x="377.2" y="195.0" width="1" height="1" fill="#2dd29b"/>
<rect x="378.2" y="195.0" width="1" height="1" fill="#25cdc3"/>
<rect x="379.2" y="195.0" width="1" height="1" fill="#1ec0ec"/>
<rect x="380.2" y="195.0" width="1" height="1" fill="#229bf4"/>
<rect x="381.2" y="195.0" width="1" height="1" fill="#267cfb"/>
<rect x="382.2" y="195.0" width="1" height="1" fill="#2a69fc"/>
<rect x="383.2" y="195.0" width="1" height="1" fill="#2f5ef7"/>
<rect x="384.2" y="195.0" width="1" height="1" fill="#3455f2"/>
<rect x="385.2" y="195.0" width="1" height="1" fill="#384cee"/>
<rect x="386.2" y="195.0" width="1" height="1" fill="#4650a0" fill-opacity="0.5"/>
<rect x="389.2" y="195.0" width="1" height="1" fill="#4650a0" fill-opacity="0.5"/>
<rect x="391.2" y="195.0" width="1" height="1" fill="#4650a0" fill-opacity="0.5"/>
<rect x="393.2" y="195.0" width="1" height="1" fill="#3a48ec"/>
<rect x="394.2" y="195.0" width="1" height="1" fill="#3a49ec"/>
<rect x="396.2" y="195.0" width="1" height="1" fill="#394bed"/>
<rect x="398.2" y="195.0" width="1" height="1" fill="#3651f0"/>
<rect x="400.2" y="195.0" width="1" height="1" fill="#3455f2"/>
<rect x="401.2" y="195.0" width="1" height="1" fill="#3259f4"/>
<rect x="402.2" y="195.0" width="1" height="1" fill="#315af5"/>
<rect x="403.2" y="195.0" width="1" height="1" fill="#3259f4"/>
<rect x="405.2" y="195.0" width="1" height="1" fill="#3357f3"/>
<rect x="406.2" y="195.0" width="1" height="1" fill="#3356f3"/>
<rect x="407.2" y="195.0" width="3" height="1" fill="#3454f2"/>
<rect x="410.2" y="195.0" width="1" height="1" fill="#3651f0"/>
<rect x="411.2" y="195.0" width="1" height="1" fill="#384dee"/>
<rect x="412.2" y="195.0" width="2" height="1" fill="#384cee"/>
<rect x="414.2" y="195.0" width="1" height="1" fill="#3a48ec"/>
<rect x="415.2" y="195.0" width="2" height="1" fill="#4650a0" fill-opacity="0.5"/>
<rect x="418.2" y="195.0" width="1" height="1" fill="#4650a0" fill-opacity="0.5"/>
<rect x="364.2" y="196.0" width="1" height="1" fill="#4650a0" fill-opacity="0.5"/>
<rect x="369.2" y="196.0" width="1" height="1" fill="#2e60f8"/>
<rect x="370.2" y="196.0" width="1" height="1" fill="#2b67fb"/>
<rect x="371.2" y="196.0" width="1" height="1" fill="#276efe"/>
<rect x="372.2" y="196.0" width="1" height="1" fill="#2580fa"/>
<rect x="373.2" y="196.0" width="1" height="1" fill="#2395f6"/>
<rect x="374.2" y="196.0" width="1" height="1" fill="#22a1f3"/>
<rect x="375.2" y="196.0" width="1" height="1" fill="#229ef4"/>
<rect x="376.2" y="196.0" width="1" height="1" fill="#2393f6"/>
<rect x="377.2" y="196.0" width="1" height="1" fill="#2584f9"/>
<rect x="379.2" y="196.0" width="1" height="1" fill="#296afd"/>
<rect x="380.2" y="196.0" width="1" height="1" fill="#2d62f9"/>
<rect x="381.2" y="196.0" width="1" height="1" fill="#305cf6"/>
<rect x="382.2" y="196.0" width="1" height="1" fill="#3455f2"/>
<rect x="383.2" y="196.0" width="1" height="1" fill="#384dee"/>
<rect x="388.2" y="196.0" width="1" height="1" fill="#4650a0" fill-opacity="0.7"/>
<rect x="392.2" y="196.0" width="1" height="1" fill="#4650a0" fill-opacity="0.5"/>
<rect x="397.2" y="196.0" width="1" height="1" fill="#3a48ec"/>
<rect x="398.2" y="196.0" width="2" height="1" fill="#394bed"/>
<rect x="401.2" y="196.0" width="1" height="1" fill="#3454f2"/>
<rect x="402.2" y="196.0" width="1" height="1" fill="#3356f3"/>
<rect x="403.2" y="196.0" width="1" height="1" fill="#3454f2"/>
<rect x="404.2" y="196.0" width="2" height="1" fill="#3553f1"/>
<rect x="406.2" y="196.0" width="1" height="1" fill="#3552f1"/>
<rect x="407.2" y="196.0" width="2" height="1" fill="#3651f0"/>
<rect x="409.2" y="196.0" width="1" height="1" fill="#3553f1"/>
<rect x="410.2" y="196.0" width="1" height="1" fill="#3650f0"/>
<rect x="411.2" y="196.0" width="1" height="1" fill="#384cee"/>
<rect x="413.2" y="196.0" width="1" height="1" fill="#384cee"/>
<rect x="414.2" y="196.0" width="1" height="1" fill="#3a48ec"/>
<rect x="416.2" y="196.0" width="1" height="1" fill="#4650a0" fill-opacity="0.5"/>
<rect x="417.2" y="196.0" width="1" height="1" fill="#4650a0" fill-opacity="0.7"/>
<rect x="418.2" y="196.0" width="1" height="1" fill="#4650a0" fill-opacity="0.5"/>
<rect x="420.2" y="196.0" width="1" height="1" fill="#4650a0" fill-opacity="0.5"/>
<rect x="424.2" y="196.0" width="2" height="1" fill="#4650a0" fill-opacity="0.5"/>
<rect x="372.2" y="197.0" width="1" height="1" fill="#3650f0"/>
<rect x="373.2" y="197.0" width="1" height="1" fill="#3356f3"/>
<rect x="375.2" y="197.0" width="1" height="1" fill="#3258f4"/>
<rect x="382.2" y="197.0" width="1" height="1" fill="#4650a0" fill-opacity="0.5"/>
<rect x="392.2" y="197.0" width="1" height="1" fill="#4650a0" fill-opacity="0.7"/>
<rect x="397.2" y="197.0" width="1" height="1" fill="#4650a0" fill-opacity="0.7"/>
<rect x="398.2" y="197.0" width="2" height="1" fill="#4650a0" fill-opacity="0.5"/>
<rect x="402.2" y="197.0" width="1" height="1" fill="#3a49ec"/>
<rect x="403.2" y="197.0" width="1" height="1" fill="#3a48ec"/>
<rect x="406.2" y="197.0" width="1" height="1" fill="#3b47eb"/>
<rect x="408.2" y="197.0" width="1" height="1" fill="#4650a0" fill-opacity="0.5"/>
<rect x="409.2" y="197.0" width="1" height="1" fill="#3a49ec"/>
<rect x="410.2" y="197.0" width="1" height="1" fill="#3a48ec"/>
<rect x="412.2" y="197.0" width="1" height="1" fill="#4650a0" fill-opacity="0.7"/>
<rect x="413.2" y="197.0" width="1" height="1" fill="#4650a0" fill-opacity="0.5"/>
<rect x="415.2" y="197.0" width="1" height="1" fill="#4650a0" fill-opacity="0.5"/>
<rect x="416.2" y="197.0" width="1" height="1" fill="#4650a0" fill-opacity="0.7"/>
<rect x="417.2" y="197.0" width="1" height="1" fill="#4650a0" fill-opacity="0.5"/>
<rect x="418.2" y="197.0" width="1" height="1" fill="#4650a0" fill-opacity="0.7"/>
<rect x="419.2" y="197.0" width="1" height="1" fill="#4650a0" fill-opacity="0.5"/>
<rect x="422.2" y="197.0" width="1" height="1" fill="#4650a0" fill-opacity="0.5"/>
<rect x="426.2" y="197.0" width="1" height="1" fill="#4650a0" fill-opacity="0.5"/>
<rect x="405.2" y="198.0" width="1" height="1" fill="#4650a0" fill-opacity="0.5"/>
<rect x="407.2" y="198.0" width="1" height="1" fill="#4650a0" fill-opacity="0.5"/>
<rect x="410.2" y="198.0" width="2" height="1" fill="#4650a0" fill-opacity="0.5"/>
<rect x="412.2" y="198.0" width="2" height="1" fill="#4650a0" fill-opacity="0.7"/>
<rect x="415.2" y="198.0" width="1" height="1" fill="#4650a0" fill-opacity="0.5"/>
<rect x="423.2" y="198.0" width="1" height="1" fill="#4650a0" fill-opacity="0.5"/>
<rect x="410.2" y="199.0" width="1" height="1" fill="#4650a0" fill-opacity="0.5"/>
<rect x="416.2" y="199.0" width="1" height="1" fill="#4650a0" fill-opacity="0.5"/>
<rect x="418.2" y="199.0" width="1" height="1" fill="#4650a0" fill-opacity="0.5"/>
<rect x="421.2" y="199.0" width="1" height="1" fill="#4650a0" fill-opacity="0.5"/>
<rect x="416.0" y="150.0" width="0.9" height="0.9" fill="#505070" fill-opacity="0.6"/>
<rect x="421.1" y="158.9" width="0.9" height="0.9" fill="#505070" fill-opacity="0.6"/>
<rect x="416.5" y="167.3" width="0.9" height="0.9" fill="#505070" fill-opacity="0.6"/>
<rect x="418.3" y="149.2" width="0.9" height="0.9" fill="#505070" fill-opacity="0.6"/>
<rect x="417.4" y="160.0" width="0.9" height="0.9" fill="#505070" fill-opacity="0.6"/>
<rect x="417.0" y="167.1" width="0.9" height="0.9" fill="#505070" fill-opacity="0.6"/>
<rect x="404.6" y="167.8" width="0.9" height="0.9" fill="#505070" fill-opacity="0.6"/>
<rect x="416.0" y="147.1" width="0.9" height="0.9" fill="#505070" fill-opacity="0.6"/>
<rect x="416.5" y="180.7" width="0.9" height="0.9" fill="#505070" fill-opacity="0.6"/>
<rect x="428.6" y="155.7" width="0.9" height="0.9" fill="#505070" fill-opacity="0.6"/>
<rect x="423.4" y="164.5" width="0.9" height="0.9" fill="#505070" fill-opacity="0.6"/>
<rect x="419.6" y="176.9" width="0.9" height="0.9" fill="#505070" fill-opacity="0.6"/>
<rect x="413.5" y="151.5" width="0.9" height="0.9" fill="#505070" fill-opacity="0.6"/>
<rect x="421.1" y="138.4" width="0.9" height="0.9" fill="#505070" fill-opacity="0.6"/>
<rect x="407.3" y="173.6" width="0.9" height="0.9" fill="#505070" fill-opacity="0.6"/>
<rect x="422.2" y="143.8" width="0.9" height="0.9" fill="#505070" fill-opacity="0.6"/>
<rect x="412.5" y="161.6" width="0.9" height="0.9" fill="#505070" fill-opacity="0.6"/>
<rect x="412.8" y="150.2" width="0.9" height="0.9" fill="#505070" fill-opacity="0.6"/>
<rect x="425.6" y="181.5" width="0.9" height="0.9" fill="#505070" fill-opacity="0.6"/>
<rect x="417.6" y="164.2" width="0.9" height="0.9" fill="#505070" fill-opacity="0.6"/>
<rect x="416.4" y="179.8" width="0.9" height="0.9" fill="#505070" fill-opacity="0.6"/>
<rect x="409.2" y="166.1" width="0.9" height="0.9" fill="#505070" fill-opacity="0.6"/>
<rect x="426.8" y="154.1" width="0.9" height="0.9" fill="#505070" fill-opacity="0.6"/>
<rect x="399.5" y="170.3" width="0.9" height="0.9" fill="#505070" fill-opacity="0.6"/>
<rect x="421.0" y="148.6" width="0.9" height="0.9" fill="#505070" fill-opacity="0.6"/>
<rect x="419.6" y="153.7" width="0.9" height="0.9" fill="#505070" fill-opacity="0.6"/>
<rect x="420.8" y="170.4" width="0.9" height="0.9" fill="#505070" fill-opacity="0.6"/>
<rect x="413.3" y="168.6" width="0.9" height="0.9" fill="#505070" fill-opacity="0.6"/>
<rect x="410.3" y="149.4" width="0.9" height="0.9" fill="#505070" fill-opacity="0.6"/>
<rect x="430.2" y="158.2" width="0.9" height="0.9" fill="#505070" fill-opacity="0.6"/>
<rect x="421.0" y="157.7" width="0.9" height="0.9" fill="#505070" fill-opacity="0.6"/>
<rect x="424.3" y="145.7" width="0.9" height="0.9" fill="#505070" fill-opacity="0.6"/>
<rect x="406.2" y="172.9" width="0.9" height="0.9" fill="#505070" fill-opacity="0.6"/>
<rect x="424.8" y="145.8" width="0.9" height="0.9" fill="#505070" fill-opacity="0.6"/>
<rect x="428.3" y="158.7" width="0.9" height="0.9" fill="#505070" fill-opacity="0.6"/>
<rect x="423.7" y="159.6" width="0.9" height="0.9" fill="#505070" fill-opacity="0.6"/>
<rect x="405.9" y="160.8" width="0.9" height="0.9" fill="#505070" fill-opacity="0.6"/>
<rect x="399.2" y="161.6" width="0.9" height="0.9" fill="#505070" fill-opacity="0.6"/>
<rect x="419.5" y="152.8" width="0.9" height="0.9" fill="#505070" fill-opacity="0.6"/>
<rect x="424.6" y="174.7" width="0.9" height="0.9" fill="#505070" fill-opacity="0.6"/>
<rect x="419.7" y="143.1" width="0.9" height="0.9" fill="#505070" fill-opacity="0.6"/>
<rect x="414.1" y="170.9" width="0.9" height="0.9" fill="#505070" fill-opacity="0.6"/>
<rect x="410.8" y="166.1" width="0.9" height="0.9" fill="#505070" fill-opacity="0.6"/>
<rect x="423.3" y="150.7" width="0.9" height="0.9" fill="#505070" fill-opacity="0.6"/>
<rect x="410.2" y="162.3" width="0.9" height="0.9" fill="#505070" fill-opacity="0.6"/>
<rect x="430.9" y="167.3" width="0.9" height="0.9" fill="#505070" fill-opacity="0.6"/>
<rect x="421.4" y="145.2" width="0.9" height="0.9" fill="#505070" fill-opacity="0.6"/>
<rect x="427.7" y="140.0" width="0.9" height="0.9" fill="#505070" fill-opacity="0.6"/>
<rect x="418.8" y="155.8" width="0.9" height="0.9" fill="#505070" fill-opacity="0.6"/>
<rect x="416.0" y="167.3" width="0.9" height="0.9" fill="#505070" fill-opacity="0.6"/>
<rect x="421.4" y="164.0" width="0.9" height="0.9" fill="#505070" fill-opacity="0.6"/>
<rect x="412.1" y="160.9" width="0.9" height="0.9" fill="#505070" fill-opacity="0.6"/>
<rect x="416.2" y="153.3" width="0.9" height="0.9" fill="#505070" fill-opacity="0.6"/>
<rect x="416.9" y="154.5" width="0.9" height="0.9" fill="#505070" fill-opacity="0.6"/>
<rect x="411.0" y="170.0" width="0.9" height="0.9" fill="#505070" fill-opacity="0.6"/>
<rect x="421.2" y="166.0" width="0.9" height="0.9" fill="#505070" fill-opacity="0.6"/>
<rect x="409.8" y="179.0" width="0.9" height="0.9" fill="#505070" fill-opacity="0.6"/>
<rect x="404.0" y="167.6" width="0.9" height="0.9" fill="#505070" fill-opacity="0.6"/>
<rect x="415.2" y="162.1" width="0.9" height="0.9" fill="#505070" fill-opacity="0.6"/>
<rect x="416.4" y="156.3" width="0.9" height="0.9" fill="#505070" fill-opacity="0.6"/>
<rect x="415.0" y="160.3" width="0.9" height="0.9" fill="#505070" fill-opacity="0.6"/>
<rect x="417.0" y="177.7" width="0.9" height="0.9" fill="#505070" fill-opacity="0.6"/>
<rect x="418.1" y="155.3" width="0.9" height="0.9" fill="#505070" fill-opacity="0.6"/>
<rect x="419.2" y="157.1" width="0.9" height="0.9" fill="#505070" fill-opacity="0.6"/>
<rect x="417.4" y="163.7" width="0.9" height="0.9" fill="#505070" fill-opacity="0.6"/>
<rect x="416.9" y="166.3" width="0.9" height="0.9" fill="#505070" fill-opacity="0.6"/>
<rect x="405.8" y="175.9" width="0.9" height="0.9" fill="#505070" fill-opacity="0.6"/>
<rect x="420.6" y="159.3" width="0.9" height="0.9" fill="#505070" fill-opacity="0.6"/>
<rect x="424.5" y="185.4" width="0.9" height="0.9" fill="#505070" fill-opacity="0.6"/>
<rect x="414.4" y="161.7" width="0.9" height="0.9" fill="#505070" fill-opacity="0.6"/>
<rect x="411.6" y="163.6" width="0.9" height="0.9" fill="#505070" fill-opacity="0.6"/>
<rect x="423.8" y="164.2" width="0.9" height="0.9" fill="#505070" fill-opacity="0.6"/>
<rect x="413.1" y="176.6" width="0.9" height="0.9" fill="#505070" fill-opacity="0.6"/>
<rect x="419.0" y="171.5" width="0.9" height="0.9" fill="#505070" fill-opacity="0.6"/>
<rect x="421.3" y="163.5" width="0.9" height="0.9" fill="#505070" fill-opacity="0.6"/>
<rect x="425.8" y="149.5" width="0.9" height="0.9" fill="#505070" fill-opacity="0.6"/>
<rect x="440.0" y="146.3" width="0.9" height="0.9" fill="#505070" fill-opacity="0.6"/>
<rect x="416.7" y="164.2" width="0.9" height="0.9" fill="#505070" fill-opacity="0.6"/>
<rect x="394.8" y="164.2" width="0.9" height="0.9" fill="#505070" fill-opacity="0.6"/>
<rect x="419.1" y="159.3" width="0.9" height="0.9" fill="#505070" fill-opacity="0.6"/>
<rect x="412.7" y="163.5" width="0.9" height="0.9" fill="#505070" fill-opacity="0.6"/>
<rect x="422.8" y="153.1" width="0.9" height="0.9" fill="#505070" fill-opacity="0.6"/>
<rect x="420.9" y="163.7" width="0.9" height="0.9" fill="#505070" fill-opacity="0.6"/>
<rect x="424.8" y="175.6" width="0.9" height="0.9" fill="#505070" fill-opacity="0.6"/>
<rect x="418.1" y="166.0" width="0.9" height="0.9" fill="#505070" fill-opacity="0.6"/>
<rect x="424.7" y="161.9" width="0.9" height="0.9" fill="#505070" fill-opacity="0.6"/>
<rect x="414.7" y="162.9" width="0.9" height="0.9" fill="#505070" fill-opacity="0.6"/>
<rect x="423.6" y="171.8" width="0.9" height="0.9" fill="#505070" fill-opacity="0.6"/>
<rect x="410.4" y="153.8" width="0.9" height="0.9" fill="#505070" fill-opacity="0.6"/>
<rect x="395.7" y="171.4" width="0.9" height="0.9" fill="#505070" fill-opacity="0.5"/>
<rect x="391.4" y="182.3" width="0.9" height="0.9" fill="#505070" fill-opacity="0.5"/>
<rect x="379.4" y="183.0" width="0.9" height="0.9" fill="#505070" fill-opacity="0.5"/>
<rect x="416.6" y="165.2" width="0.9" height="0.9" fill="#505070" fill-opacity="0.5"/>
<rect x="409.4" y="187.1" width="0.9" height="0.9" fill="#505070" fill-opacity="0.5"/>
<rect x="391.1" y="172.7" width="0.9" height="0.9" fill="#505070" fill-opacity="0.5"/>
<rect x="423.1" y="175.2" width="0.9" height="0.9" fill="#505070" fill-opacity="0.5"/>
<rect x="391.8" y="198.1" width="0.9" height="0.9" fill="#505070" fill-opacity="0.5"/>
<rect x="405.9" y="190.9" width="0.9" height="0.9" fill="#505070" fill-opacity="0.5"/>
<rect x="391.5" y="149.0" width="0.9" height="0.9" fill="#505070" fill-opacity="0.5"/>
<rect x="417.4" y="181.7" width="0.9" height="0.9" fill="#505070" fill-opacity="0.5"/>
<rect x="406.9" y="184.3" width="0.9" height="0.9" fill="#505070" fill-opacity="0.5"/>
<rect x="409.2" y="176.8" width="0.9" height="0.9" fill="#505070" fill-opacity="0.5"/>
<rect x="408.7" y="164.9" width="0.9" height="0.9" fill="#505070" fill-opacity="0.5"/>
<rect x="428.9" y="190.5" width="0.9" height="0.9" fill="#505070" fill-opacity="0.5"/>
<rect x="373.1" y="166.3" width="0.9" height="0.9" fill="#505070" fill-opacity="0.5"/>
<rect x="396.0" y="172.0" width="0.9" height="0.9" fill="#505070" fill-opacity="0.5"/>
<rect x="402.6" y="162.9" width="0.9" height="0.9" fill="#505070" fill-opacity="0.5"/>
<rect x="408.1" y="169.4" width="0.9" height="0.9" fill="#505070" fill-opacity="0.5"/>
<rect x="400.4" y="153.4" width="0.9" height="0.9" fill="#505070" fill-opacity="0.5"/>
<line x1="389.3" y1="131" x2="389.3" y2="210.5" stroke="#555" stroke-width="1" />
<line x1="357.2" y1="183.2" x2="441.2" y2="183.2" stroke="#555" stroke-width="1" />
<text transform="translate(282.56,12.80) scale(1.023,1)" font-size="18" fill="#000" >J-Scr</text>
<text transform="translate(381.26,12.80) scale(1.025,1)" font-size="18" fill="#000" >J-Si</text>
<text transform="translate(279.34,127.60) scale(0.987,1)" font-size="18" fill="#000" >M-Scr</text>
<text x="376.34" y="125.60" font-size="18" fill="#000" >M-Si</text>
<text x="266.86" y="29.50" font-size="13.5" fill="#000"  style="stroke-width:0.15px">0.56</text>
<text x="319.04" y="29.30" font-size="13.5" fill="#000"  style="stroke-width:0.15px">5.57</text>
<text x="266.20" y="95.00" font-size="13.5" fill="#000"  style="stroke-width:0.15px">91.4</text>
<text x="317.92" y="95.00" font-size="13.5" fill="#000"  style="stroke-width:0.15px">2.49</text>
<text x="360.46" y="28.80" font-size="13.5" fill="#000"  style="stroke-width:0.15px">0.19</text>
<text x="416.44" y="28.80" font-size="13.5" fill="#000"  style="stroke-width:0.15px">10.4</text>
<text x="361.19" y="93.80" font-size="13.5" fill="#000"  style="stroke-width:0.15px">79.9</text>
<text x="415.48" y="93.80" font-size="13.5" fill="#000"  style="stroke-width:0.15px">9.53</text>
<text x="275.46" y="145.00" font-size="13.5" fill="#000"  style="stroke-width:0.15px">0</text>
<text x="319.18" y="145.00" font-size="13.5" fill="#000"  style="stroke-width:0.15px">0.26</text>
<text x="268.80" y="211.30" font-size="13.5" fill="#000"  style="stroke-width:0.15px">98.4</text>
<text x="319.18" y="211.30" font-size="13.5" fill="#000"  style="stroke-width:0.15px">1.33</text>
<text x="362.76" y="143.00" font-size="13.5" fill="#000"  style="stroke-width:0.15px">0.04</text>
<text x="416.64" y="146.00" font-size="13.5" fill="#000"  style="stroke-width:0.15px">1.64</text>
<text x="362.00" y="209.80" font-size="13.5" fill="#000"  style="stroke-width:0.15px">89.9</text>
<text x="415.22" y="209.80" font-size="13.5" fill="#000"  style="stroke-width:0.15px">8.39</text>
<line x1="258.6" y1="35.9" x2="258.6" y2="99.89999999999999" stroke="#000" stroke-width="2.2" />
<path d="M258.6,29.9 L262.0,37.4 L255.20000000000002,37.4Z" fill="#000" stroke="none" stroke-width="1" />
<line x1="257.5" y1="98.8" x2="323.9" y2="98.8" stroke="#000" stroke-width="2.2" />
<path d="M329.9,98.8 L322.4,95.39999999999999 L322.4,102.2Z" fill="#000" stroke="none" stroke-width="1" />
<line x1="259.3" y1="152.6" x2="259.3" y2="214.9" stroke="#000" stroke-width="2.2" />
<path d="M259.3,146.6 L262.7,154.1 L255.9,154.1Z" fill="#000" stroke="none" stroke-width="1" />
<line x1="257.29999999999995" y1="213.8" x2="325.8" y2="213.8" stroke="#000" stroke-width="2.2" />
<path d="M331.8,213.8 L324.3,210.4 L324.3,217.20000000000002Z" fill="#000" stroke="none" stroke-width="1" />
<text x="0" y="0" font-size="12.74" style="stroke-width:0.15px" transform="translate(250.00,103.04) rotate(-90) scale(1,1.036)">Comp-7-AAD-A</text>
<text transform="translate(259.36,112.60) scale(0.990,1)" font-size="13" fill="#000"  style="stroke-width:0.15px">Comp-APC-A</text>
<text x="0" y="0" font-size="12.6" style="stroke-width:0.15px" transform="translate(250.10,206.13) rotate(-90) scale(1,1.05)">Comp-PI-A</text>
<text transform="translate(261.06,231.40) scale(0.986,1)" font-size="13" fill="#000"  style="stroke-width:0.15px">Comp-FITC-A</text>
<rect x="528.50" y="6.90" width="16.20" height="8.10" fill="#fff" stroke="#000" stroke-width="1.6" />
<rect x="528.20" y="25.00" width="16.80" height="8.70" fill="#000" stroke="none" stroke-width="0" />
<text transform="translate(553.29,15.80) scale(1.021,1)" font-size="17.8" fill="#000" >Scr</text>
<text transform="translate(553.34,35.80) scale(0.970,1)" font-size="17.8" fill="#000" >Si</text>
<line x1="510.2" y1="38.8" x2="510.2" y2="201.5" stroke="#000" stroke-width="1.6" />
<line x1="506.7" y1="39.6" x2="511" y2="39.6" stroke="#000" stroke-width="1.4" />
<line x1="506.7" y1="119.8" x2="511" y2="119.8" stroke="#000" stroke-width="1.4" />
<line x1="507.4" y1="200.8" x2="681.2" y2="200.8" stroke="#000" stroke-width="1.8" />
<line x1="552.7" y1="200.8" x2="552.7" y2="205.8" stroke="#000" stroke-width="1.4" />
<line x1="638.7" y1="200.8" x2="638.7" y2="205.8" stroke="#000" stroke-width="1.4" />
<text transform="translate(485.07,50.80) scale(1.070,1)" font-size="17" fill="#000" >24</text>
<text transform="translate(485.42,128.40) scale(1.163,1)" font-size="17" fill="#000" >12</text>
<text x="494.18" y="204.00" font-size="17" fill="#000" >0</text>
<text transform="translate(530.77,223.40) scale(1.010,1)" font-size="18" fill="#000" >Jurkat</text>
<text transform="translate(616.64,223.40) scale(1.006,1)" font-size="18" fill="#000" >Molt-4</text>
<text x="0" y="0" font-size="18" transform="translate(474.10,193.08) rotate(-90)">Apoptosis cell (%)</text>
<line x1="536.65" y1="162.1" x2="536.65" y2="165.6" stroke="#000" stroke-width="1.4" />
<line x1="531" y1="162.1" x2="542.3" y2="162.1" stroke="#000" stroke-width="1.6" />
<rect x="526.50" y="166.30" width="20.20" height="35.20" fill="#fff" stroke="#000" stroke-width="1.4" />
<line x1="569.15" y1="68.2" x2="569.15" y2="71.1" stroke="#000" stroke-width="1.4" />
<line x1="563.3" y1="68.2" x2="575" y2="68.2" stroke="#000" stroke-width="1.6" />
<rect x="558.40" y="71.10" width="21.10" height="129.70" fill="#000" stroke="none" stroke-width="0" />
<line x1="622.45" y1="173" x2="622.45" y2="177.2" stroke="#000" stroke-width="1.4" />
<line x1="616.6" y1="173" x2="628.3" y2="173" stroke="#000" stroke-width="1.6" />
<rect x="612.20" y="177.90" width="20.70" height="23.60" fill="#fff" stroke="#000" stroke-width="1.4" />
<line x1="654.75" y1="101.6" x2="654.75" y2="110.2" stroke="#000" stroke-width="1.4" />
<line x1="649.2" y1="101.6" x2="660.3" y2="101.6" stroke="#000" stroke-width="1.6" />
<rect x="644.00" y="110.20" width="21.50" height="90.60" fill="#000" stroke="none" stroke-width="0" />
<path d="M562.90,63.90 L562.90,55.50 M559.26,61.80 L566.54,57.60 M559.26,57.60 L566.54,61.80 " stroke="#000" stroke-width="1.7" stroke-linecap="butt"/>
<path d="M574.70,63.90 L574.70,55.50 M571.06,61.80 L578.34,57.60 M571.06,57.60 L578.34,61.80 " stroke="#000" stroke-width="1.7" stroke-linecap="butt"/>
<path d="M653.60,97.50 L653.60,89.10 M649.96,95.40 L657.24,91.20 M649.96,91.20 L657.24,95.40 " stroke="#000" stroke-width="1.7" stroke-linecap="butt"/>
<text x="-0.70" y="281.00" font-size="24" fill="#000" >C</text>
<rect x="51.60" y="315.00" width="15.00" height="7.00" fill="#a8f0fa" stroke="#30c8e0" stroke-width="1.2" />
<rect x="51.60" y="331.60" width="15.00" height="6.80" fill="#f8b0b0" stroke="#d06060" stroke-width="1.2" />
<text x="70.85" y="326.00" font-size="17" fill="#000" >Si</text>
<text transform="translate(70.81,343.00) scale(1.043,1)" font-size="17" fill="#000" >Scr</text>
<text x="65.18" y="377.00" font-size="18" fill="#000" >Jurkat</text>
<text transform="translate(164.05,378.10) scale(0.984,1)" font-size="18" fill="#000" >Molt-4</text>
<rect x="47.90" y="384.70" width="82.80" height="85.30" fill="#fff" stroke="#8a8a8a" stroke-width="1" />
<rect x="47.1" y="467.0" width="2.0" height="0.9" fill="#707070"/>
<rect x="47.1" y="462.8" width="1.2" height="0.9" fill="#707070"/>
<rect x="47.1" y="458.6" width="1.2" height="0.9" fill="#707070"/>
<rect x="47.1" y="454.4" width="1.2" height="0.9" fill="#707070"/>
<rect x="47.1" y="450.2" width="2.0" height="0.9" fill="#707070"/>
<rect x="47.1" y="446.0" width="1.2" height="0.9" fill="#707070"/>
<rect x="47.1" y="441.8" width="1.2" height="0.9" fill="#707070"/>
<rect x="47.1" y="437.6" width="1.2" height="0.9" fill="#707070"/>
<rect x="47.1" y="433.4" width="2.0" height="0.9" fill="#707070"/>
<rect x="47.1" y="429.2" width="1.2" height="0.9" fill="#707070"/>
<rect x="47.1" y="425.0" width="1.2" height="0.9" fill="#707070"/>
<rect x="47.1" y="420.8" width="1.2" height="0.9" fill="#707070"/>
<rect x="47.1" y="416.6" width="2.0" height="0.9" fill="#707070"/>
<rect x="47.1" y="412.4" width="1.2" height="0.9" fill="#707070"/>
<rect x="47.1" y="408.2" width="1.2" height="0.9" fill="#707070"/>
<rect x="47.1" y="404.0" width="1.2" height="0.9" fill="#707070"/>
<rect x="47.1" y="399.8" width="2.0" height="0.9" fill="#707070"/>
<rect x="47.1" y="395.6" width="1.2" height="0.9" fill="#707070"/>
<rect x="47.1" y="391.4" width="1.2" height="0.9" fill="#707070"/>
<rect x="47.1" y="387.2" width="1.2" height="0.9" fill="#707070"/>
<rect x="49.9" y="470.3" width="0.9" height="2.0" fill="#707070"/>
<rect x="54.5" y="470.3" width="0.9" height="1.2" fill="#707070"/>
<rect x="59.1" y="470.3" width="0.9" height="1.2" fill="#707070"/>
<rect x="63.7" y="470.3" width="0.9" height="1.2" fill="#707070"/>
<rect x="68.3" y="470.3" width="0.9" height="2.0" fill="#707070"/>
<rect x="72.9" y="470.3" width="0.9" height="1.2" fill="#707070"/>
<rect x="77.5" y="470.3" width="0.9" height="1.2" fill="#707070"/>
<rect x="82.1" y="470.3" width="0.9" height="1.2" fill="#707070"/>
<rect x="86.7" y="470.3" width="0.9" height="2.0" fill="#707070"/>
<rect x="91.3" y="470.3" width="0.9" height="1.2" fill="#707070"/>
<rect x="95.9" y="470.3" width="0.9" height="1.2" fill="#707070"/>
<rect x="100.5" y="470.3" width="0.9" height="1.2" fill="#707070"/>
<rect x="105.1" y="470.3" width="0.9" height="2.0" fill="#707070"/>
<rect x="109.7" y="470.3" width="0.9" height="1.2" fill="#707070"/>
<rect x="114.3" y="470.3" width="0.9" height="1.2" fill="#707070"/>
<rect x="118.9" y="470.3" width="0.9" height="1.2" fill="#707070"/>
<rect x="123.5" y="470.3" width="0.9" height="2.0" fill="#707070"/>
<rect x="128.1" y="470.3" width="0.9" height="1.2" fill="#707070"/>
<rect x="141.20" y="385.10" width="83.00" height="84.90" fill="#fff" stroke="#c8c8c8" stroke-width="1" />
<rect x="140.4" y="467.0" width="2.0" height="0.9" fill="#909090"/>
<rect x="140.4" y="462.8" width="1.2" height="0.9" fill="#909090"/>
<rect x="140.4" y="458.6" width="1.2" height="0.9" fill="#909090"/>
<rect x="140.4" y="454.4" width="1.2" height="0.9" fill="#909090"/>
<rect x="140.4" y="450.2" width="2.0" height="0.9" fill="#909090"/>
<rect x="140.4" y="446.0" width="1.2" height="0.9" fill="#909090"/>
<rect x="140.4" y="441.8" width="1.2" height="0.9" fill="#909090"/>
<rect x="140.4" y="437.6" width="1.2" height="0.9" fill="#909090"/>
<rect x="140.4" y="433.4" width="2.0" height="0.9" fill="#909090"/>
<rect x="140.4" y="429.2" width="1.2" height="0.9" fill="#909090"/>
<rect x="140.4" y="425.0" width="1.2" height="0.9" fill="#909090"/>
<rect x="140.4" y="420.8" width="1.2" height="0.9" fill="#909090"/>
<rect x="140.4" y="416.6" width="2.0" height="0.9" fill="#909090"/>
<rect x="140.4" y="412.4" width="1.2" height="0.9" fill="#909090"/>
<rect x="140.4" y="408.2" width="1.2" height="0.9" fill="#909090"/>
<rect x="140.4" y="404.0" width="1.2" height="0.9" fill="#909090"/>
<rect x="140.4" y="399.8" width="2.0" height="0.9" fill="#909090"/>
<rect x="140.4" y="395.6" width="1.2" height="0.9" fill="#909090"/>
<rect x="140.4" y="391.4" width="1.2" height="0.9" fill="#909090"/>
<rect x="140.4" y="387.2" width="1.2" height="0.9" fill="#909090"/>
<rect x="143.2" y="470.3" width="0.9" height="2.0" fill="#909090"/>
<rect x="147.8" y="470.3" width="0.9" height="1.2" fill="#909090"/>
<rect x="152.4" y="470.3" width="0.9" height="1.2" fill="#909090"/>
<rect x="157.0" y="470.3" width="0.9" height="1.2" fill="#909090"/>
<rect x="161.6" y="470.3" width="0.9" height="2.0" fill="#909090"/>
<rect x="166.2" y="470.3" width="0.9" height="1.2" fill="#909090"/>
<rect x="170.8" y="470.3" width="0.9" height="1.2" fill="#909090"/>
<rect x="175.4" y="470.3" width="0.9" height="1.2" fill="#909090"/>
<rect x="180.0" y="470.3" width="0.9" height="2.0" fill="#909090"/>
<rect x="184.6" y="470.3" width="0.9" height="1.2" fill="#909090"/>
<rect x="189.2" y="470.3" width="0.9" height="1.2" fill="#909090"/>
<rect x="193.8" y="470.3" width="0.9" height="1.2" fill="#909090"/>
<rect x="198.4" y="470.3" width="0.9" height="2.0" fill="#909090"/>
<rect x="203.0" y="470.3" width="0.9" height="1.2" fill="#909090"/>
<rect x="207.6" y="470.3" width="0.9" height="1.2" fill="#909090"/>
<rect x="212.2" y="470.3" width="0.9" height="1.2" fill="#909090"/>
<rect x="216.8" y="470.3" width="0.9" height="2.0" fill="#909090"/>
<rect x="221.4" y="470.3" width="0.9" height="1.2" fill="#909090"/>
<clipPath id="c1"><path d="M68.5,470 C70.5,462 72.5,445 74.5,437 C75.8,432 77,430 78.2,430 C80,430 81.5,431 82.5,433.5 C84.5,438 86,442 88,446 C91,453 94,461 98,466 C100,468.5 102,469.5 104,470 Z"/></clipPath>
<path d="M68.5,470 C70.5,462 72.5,445 74.5,437 C75.8,432 77,430 78.2,430 C80,430 81.5,431 82.5,433.5 C84.5,438 86,442 88,446 C91,453 94,461 98,466 C100,468.5 102,469.5 104,470 Z" fill="#64d6f0" stroke="none" stroke-width="1" />
<path d="M67,470 C68.5,455 70.5,400 72.5,389.5 C73.8,396 75,420 76.5,434 C78.5,450 81,460 85,465.5 C87,468 89,469.5 92,470 Z" fill="#f49a9a" stroke="none" stroke-width="1" />
<path d="M67,470 C68.5,455 70.5,400 72.5,389.5 C73.8,396 75,420 76.5,434 C78.5,450 81,460 85,465.5 C87,468 89,469.5 92,470 Z" fill="#8494b0" stroke="none" stroke-width="1" clip-path="url(#c1)"/>
<path d="M68.5,470 C70.5,462 72.5,445 74.5,437 C75.8,432 77,430 78.2,430 C80,430 81.5,431 82.5,433.5 C84.5,438 86,442 88,446 C91,453 94,461 98,466 C100,468.5 102,469.5 104,470 Z" fill="none" stroke="#30a8c8" stroke-width="0.7" />
<path d="M67,470 C68.5,455 70.5,400 72.5,389.5 C73.8,396 75,420 76.5,434 C78.5,450 81,460 85,465.5 C87,468 89,469.5 92,470 Z" fill="none" stroke="#b04848" stroke-width="0.6" />
<clipPath id="c2"><path d="M161.5,470 C163.5,455 165.5,425 168.4,418.3 C169.5,416.5 171,419 172.5,424 C174.5,431 177,440 180,452 C182.5,461 185,467 190,470 Z"/></clipPath>
<path d="M161.5,470 C163.5,455 165.5,425 168.4,418.3 C169.5,416.5 171,419 172.5,424 C174.5,431 177,440 180,452 C182.5,461 185,467 190,470 Z" fill="#64d6f0" stroke="none" stroke-width="1" />
<path d="M160.5,470 C162,450 164,400 165.7,390.5 C167,397 168,422 169.5,440 C171,452 173.5,461 177,466 C179,468.5 181,469.5 184,470 Z" fill="#f49a9a" stroke="none" stroke-width="1" />
<path d="M160.5,470 C162,450 164,400 165.7,390.5 C167,397 168,422 169.5,440 C171,452 173.5,461 177,466 C179,468.5 181,469.5 184,470 Z" fill="#8494b0" stroke="none" stroke-width="1" clip-path="url(#c2)"/>
<path d="M161.5,470 C163.5,455 165.5,425 168.4,418.3 C169.5,416.5 171,419 172.5,424 C174.5,431 177,440 180,452 C182.5,461 185,467 190,470 Z" fill="none" stroke="#30a8c8" stroke-width="0.7" />
<path d="M160.5,470 C162,450 164,400 165.7,390.5 C167,397 168,422 169.5,440 C171,452 173.5,461 177,466 C179,468.5 181,469.5 184,470 Z" fill="none" stroke="#b04848" stroke-width="0.6" />
<line x1="47.9" y1="470" x2="130.7" y2="470" stroke="#404040" stroke-width="1" />
<line x1="141.2" y1="470" x2="224.2" y2="470" stroke="#606060" stroke-width="1" />
<text x="21.74" y="395.30" font-size="13" fill="#000"  style="stroke-width:0.15px">1.0K</text>
<text x="26.42" y="423.90" font-size="13" fill="#000"  style="stroke-width:0.15px">600</text>
<text x="26.42" y="457.10" font-size="13" fill="#000"  style="stroke-width:0.15px">200</text>
<text x="0" y="0" font-size="17.5" transform="translate(18.90,451.38) rotate(-90) scale(1,1.05)">Count</text>
<text x="63.78" y="486.10" font-size="13" fill="#000"  style="stroke-width:0.15px">0</text>
<text x="74.46" y="486.30" font-size="13" fill="#000"  style="stroke-width:0.15px">10</text>
<text x="88.18" y="482.40" font-size="8" fill="#000"  style="stroke-width:0.15px">3</text>
<text x="117.86" y="486.10" font-size="13" fill="#000"  style="stroke-width:0.15px">10</text>
<text x="131.38" y="481.70" font-size="8" fill="#000"  style="stroke-width:0.15px">5</text>
<text x="155.38" y="486.10" font-size="13" fill="#000"  style="stroke-width:0.15px">0</text>
<text x="166.06" y="486.30" font-size="13" fill="#000"  style="stroke-width:0.15px">10</text>
<text x="179.78" y="482.40" font-size="8" fill="#000"  style="stroke-width:0.15px">3</text>
<text x="209.46" y="486.10" font-size="13" fill="#000"  style="stroke-width:0.15px">10</text>
<text x="222.98" y="481.70" font-size="8" fill="#000"  style="stroke-width:0.15px">5</text>
<text transform="translate(56.84,502.40) scale(0.967,1)" font-size="18.5" fill="#000" >FITC-A</text>
<text transform="translate(154.24,502.40) scale(0.962,1)" font-size="18.5" fill="#000" >FITC-A</text>
<text x="223.82" y="281.00" font-size="24" fill="#000" >D</text>
<text transform="translate(287.97,316.50) scale(1.021,1)" font-size="18" fill="#000" >J-Scr</text>
<text transform="translate(379.67,317.20) scale(1.018,1)" font-size="18" fill="#000" >J-Si</text>
<text transform="translate(284.65,410.30) scale(0.978,1)" font-size="18" fill="#000" >M-Scr</text>
<text transform="translate(377.65,411.80) scale(0.982,1)" font-size="18" fill="#000" >M-Si</text>
<rect x="265.50" y="321.90" width="82.20" height="69.40" fill="#fff" stroke="#c8c8c8" stroke-width="1" />
<rect x="264.9" y="389.3" width="1.6" height="0.9" fill="#707070"/>
<rect x="264.9" y="385.7" width="1.0" height="0.9" fill="#707070"/>
<rect x="264.9" y="382.1" width="1.0" height="0.9" fill="#707070"/>
<rect x="264.9" y="378.5" width="1.0" height="0.9" fill="#707070"/>
<rect x="264.9" y="374.9" width="1.0" height="0.9" fill="#707070"/>
<rect x="264.9" y="371.3" width="1.6" height="0.9" fill="#707070"/>
<rect x="264.9" y="367.7" width="1.0" height="0.9" fill="#707070"/>
<rect x="264.9" y="364.1" width="1.0" height="0.9" fill="#707070"/>
<rect x="264.9" y="360.5" width="1.0" height="0.9" fill="#707070"/>
<rect x="264.9" y="356.9" width="1.0" height="0.9" fill="#707070"/>
<rect x="264.9" y="353.3" width="1.6" height="0.9" fill="#707070"/>
<rect x="264.9" y="349.7" width="1.0" height="0.9" fill="#707070"/>
<rect x="264.9" y="346.1" width="1.0" height="0.9" fill="#707070"/>
<rect x="264.9" y="342.5" width="1.0" height="0.9" fill="#707070"/>
<rect x="264.9" y="338.9" width="1.0" height="0.9" fill="#707070"/>
<rect x="264.9" y="335.3" width="1.6" height="0.9" fill="#707070"/>
<rect x="264.9" y="331.7" width="1.0" height="0.9" fill="#707070"/>
<rect x="264.9" y="328.1" width="1.0" height="0.9" fill="#707070"/>
<rect x="264.9" y="324.5" width="1.0" height="0.9" fill="#707070"/>
<rect x="268.5" y="390.9" width="0.9" height="1.5" fill="#808080"/>
<rect x="275.0" y="390.9" width="0.9" height="1.5" fill="#808080"/>
<rect x="281.5" y="390.9" width="0.9" height="1.5" fill="#808080"/>
<rect x="288.0" y="390.9" width="0.9" height="1.5" fill="#808080"/>
<rect x="294.5" y="390.9" width="0.9" height="1.5" fill="#808080"/>
<rect x="301.0" y="390.9" width="0.9" height="1.5" fill="#808080"/>
<rect x="307.5" y="390.9" width="0.9" height="1.5" fill="#808080"/>
<rect x="314.0" y="390.9" width="0.9" height="1.5" fill="#808080"/>
<rect x="320.5" y="390.9" width="0.9" height="1.5" fill="#808080"/>
<rect x="327.0" y="390.9" width="0.9" height="1.5" fill="#808080"/>
<rect x="333.5" y="390.9" width="0.9" height="1.5" fill="#808080"/>
<rect x="340.0" y="390.9" width="0.9" height="1.5" fill="#808080"/>
<rect x="264.10" y="320.50" width="2.80" height="2.80" fill="#222" stroke="none" stroke-width="0" />
<rect x="346.30" y="320.50" width="2.80" height="2.80" fill="#222" stroke="none" stroke-width="0" />
<rect x="264.10" y="389.90" width="2.80" height="2.80" fill="#222" stroke="none" stroke-width="0" />
<rect x="346.30" y="389.90" width="2.80" height="2.80" fill="#222" stroke="none" stroke-width="0" />
<rect x="358.30" y="321.50" width="79.20" height="69.70" fill="#fff" stroke="#c8c8c8" stroke-width="1" />
<rect x="357.7" y="389.2" width="1.6" height="0.9" fill="#707070"/>
<rect x="357.7" y="385.6" width="1.0" height="0.9" fill="#707070"/>
<rect x="357.7" y="382.0" width="1.0" height="0.9" fill="#707070"/>
<rect x="357.7" y="378.4" width="1.0" height="0.9" fill="#707070"/>
<rect x="357.7" y="374.8" width="1.0" height="0.9" fill="#707070"/>
<rect x="357.7" y="371.2" width="1.6" height="0.9" fill="#707070"/>
<rect x="357.7" y="367.6" width="1.0" height="0.9" fill="#707070"/>
<rect x="357.7" y="364.0" width="1.0" height="0.9" fill="#707070"/>
<rect x="357.7" y="360.4" width="1.0" height="0.9" fill="#707070"/>
<rect x="357.7" y="356.8" width="1.0" height="0.9" fill="#707070"/>
<rect x="357.7" y="353.2" width="1.6" height="0.9" fill="#707070"/>
<rect x="357.7" y="349.6" width="1.0" height="0.9" fill="#707070"/>
<rect x="357.7" y="346.0" width="1.0" height="0.9" fill="#707070"/>
<rect x="357.7" y="342.4" width="1.0" height="0.9" fill="#707070"/>
<rect x="357.7" y="338.8" width="1.0" height="0.9" fill="#707070"/>
<rect x="357.7" y="335.2" width="1.6" height="0.9" fill="#707070"/>
<rect x="357.7" y="331.6" width="1.0" height="0.9" fill="#707070"/>
<rect x="357.7" y="328.0" width="1.0" height="0.9" fill="#707070"/>
<rect x="357.7" y="324.4" width="1.0" height="0.9" fill="#707070"/>
<rect x="361.3" y="390.8" width="0.9" height="1.5" fill="#808080"/>
<rect x="367.8" y="390.8" width="0.9" height="1.5" fill="#808080"/>
<rect x="374.3" y="390.8" width="0.9" height="1.5" fill="#808080"/>
<rect x="380.8" y="390.8" width="0.9" height="1.5" fill="#808080"/>
<rect x="387.3" y="390.8" width="0.9" height="1.5" fill="#808080"/>
<rect x="393.8" y="390.8" width="0.9" height="1.5" fill="#808080"/>
<rect x="400.3" y="390.8" width="0.9" height="1.5" fill="#808080"/>
<rect x="406.8" y="390.8" width="0.9" height="1.5" fill="#808080"/>
<rect x="413.3" y="390.8" width="0.9" height="1.5" fill="#808080"/>
<rect x="419.8" y="390.8" width="0.9" height="1.5" fill="#808080"/>
<rect x="426.3" y="390.8" width="0.9" height="1.5" fill="#808080"/>
<rect x="432.8" y="390.8" width="0.9" height="1.5" fill="#808080"/>
<rect x="266.30" y="413.40" width="80.50" height="70.70" fill="#fff" stroke="#c8c8c8" stroke-width="1" />
<rect x="265.7" y="482.1" width="1.6" height="0.9" fill="#707070"/>
<rect x="265.7" y="478.5" width="1.0" height="0.9" fill="#707070"/>
<rect x="265.7" y="474.9" width="1.0" height="0.9" fill="#707070"/>
<rect x="265.7" y="471.3" width="1.0" height="0.9" fill="#707070"/>
<rect x="265.7" y="467.7" width="1.0" height="0.9" fill="#707070"/>
<rect x="265.7" y="464.1" width="1.6" height="0.9" fill="#707070"/>
<rect x="265.7" y="460.5" width="1.0" height="0.9" fill="#707070"/>
<rect x="265.7" y="456.9" width="1.0" height="0.9" fill="#707070"/>
<rect x="265.7" y="453.3" width="1.0" height="0.9" fill="#707070"/>
<rect x="265.7" y="449.7" width="1.0" height="0.9" fill="#707070"/>
<rect x="265.7" y="446.1" width="1.6" height="0.9" fill="#707070"/>
<rect x="265.7" y="442.5" width="1.0" height="0.9" fill="#707070"/>
<rect x="265.7" y="438.9" width="1.0" height="0.9" fill="#707070"/>
<rect x="265.7" y="435.3" width="1.0" height="0.9" fill="#707070"/>
<rect x="265.7" y="431.7" width="1.0" height="0.9" fill="#707070"/>
<rect x="265.7" y="428.1" width="1.6" height="0.9" fill="#707070"/>
<rect x="265.7" y="424.5" width="1.0" height="0.9" fill="#707070"/>
<rect x="265.7" y="420.9" width="1.0" height="0.9" fill="#707070"/>
<rect x="265.7" y="417.3" width="1.0" height="0.9" fill="#707070"/>
<rect x="269.3" y="483.7" width="0.9" height="1.5" fill="#808080"/>
<rect x="275.8" y="483.7" width="0.9" height="1.5" fill="#808080"/>
<rect x="282.3" y="483.7" width="0.9" height="1.5" fill="#808080"/>
<rect x="288.8" y="483.7" width="0.9" height="1.5" fill="#808080"/>
<rect x="295.3" y="483.7" width="0.9" height="1.5" fill="#808080"/>
<rect x="301.8" y="483.7" width="0.9" height="1.5" fill="#808080"/>
<rect x="308.3" y="483.7" width="0.9" height="1.5" fill="#808080"/>
<rect x="314.8" y="483.7" width="0.9" height="1.5" fill="#808080"/>
<rect x="321.3" y="483.7" width="0.9" height="1.5" fill="#808080"/>
<rect x="327.8" y="483.7" width="0.9" height="1.5" fill="#808080"/>
<rect x="334.3" y="483.7" width="0.9" height="1.5" fill="#808080"/>
<rect x="340.8" y="483.7" width="0.9" height="1.5" fill="#808080"/>
<rect x="358.00" y="413.90" width="80.30" height="69.20" fill="#fff" stroke="#c8c8c8" stroke-width="1" />
<rect x="357.4" y="481.1" width="1.6" height="0.9" fill="#707070"/>
<rect x="357.4" y="477.5" width="1.0" height="0.9" fill="#707070"/>
<rect x="357.4" y="473.9" width="1.0" height="0.9" fill="#707070"/>
<rect x="357.4" y="470.3" width="1.0" height="0.9" fill="#707070"/>
<rect x="357.4" y="466.7" width="1.0" height="0.9" fill="#707070"/>
<rect x="357.4" y="463.1" width="1.6" height="0.9" fill="#707070"/>
<rect x="357.4" y="459.5" width="1.0" height="0.9" fill="#707070"/>
<rect x="357.4" y="455.9" width="1.0" height="0.9" fill="#707070"/>
<rect x="357.4" y="452.3" width="1.0" height="0.9" fill="#707070"/>
<rect x="357.4" y="448.7" width="1.0" height="0.9" fill="#707070"/>
<rect x="357.4" y="445.1" width="1.6" height="0.9" fill="#707070"/>
<rect x="357.4" y="441.5" width="1.0" height="0.9" fill="#707070"/>
<rect x="357.4" y="437.9" width="1.0" height="0.9" fill="#707070"/>
<rect x="357.4" y="434.3" width="1.0" height="0.9" fill="#707070"/>
<rect x="357.4" y="430.7" width="1.0" height="0.9" fill="#707070"/>
<rect x="357.4" y="427.1" width="1.6" height="0.9" fill="#707070"/>
<rect x="357.4" y="423.5" width="1.0" height="0.9" fill="#707070"/>
<rect x="357.4" y="419.9" width="1.0" height="0.9" fill="#707070"/>
<rect x="357.4" y="416.3" width="1.0" height="0.9" fill="#707070"/>
<rect x="361.0" y="482.7" width="0.9" height="1.5" fill="#808080"/>
<rect x="367.5" y="482.7" width="0.9" height="1.5" fill="#808080"/>
<rect x="374.0" y="482.7" width="0.9" height="1.5" fill="#808080"/>
<rect x="380.5" y="482.7" width="0.9" height="1.5" fill="#808080"/>
<rect x="387.0" y="482.7" width="0.9" height="1.5" fill="#808080"/>
<rect x="393.5" y="482.7" width="0.9" height="1.5" fill="#808080"/>
<rect x="400.0" y="482.7" width="0.9" height="1.5" fill="#808080"/>
<rect x="406.5" y="482.7" width="0.9" height="1.5" fill="#808080"/>
<rect x="413.0" y="482.7" width="0.9" height="1.5" fill="#808080"/>
<rect x="419.5" y="482.7" width="0.9" height="1.5" fill="#808080"/>
<rect x="426.0" y="482.7" width="0.9" height="1.5" fill="#808080"/>
<rect x="432.5" y="482.7" width="0.9" height="1.5" fill="#808080"/>
<path d="M265.5,391.3 L271.4,391.3 C273.4,391.3 274.4,390.3 275.4,388.3 C278.8,366.6 280.6,326.6 281.8,326.6 C283.0,326.6 283.8,341.6 284.40000000000003,358.6 C284.8,364.6 284.6,366.1 285.1,366.6 L285.1,391.3 Z" fill="#a4a4f4" stroke="none" stroke-width="1" />
<path d="M285.1,366.6 C287.1,372.6 289.3,378.3 293.3,378.3 L292.2,391.3 L285.1,391.3 Z" fill="#6ce46c" stroke="none" stroke-width="1" />
<path d="M293.3,378.3 C294.8,378.3 295.7,376.6 297.2,376.6 C299.2,376.6 302.5,390.8 305.5,391.3 L347.7,391.3 L292.2,391.3 Z" fill="#f6a6a6" stroke="none" stroke-width="1" />
<path d="M265.5,391.3 L271.4,391.3 C273.4,391.3 274.4,390.3 275.4,388.3 C278.8,366.6 280.6,326.6 281.8,326.6 C283.0,326.6 283.8,341.6 284.40000000000003,358.6 C284.8,364.6 284.6,366.1 285.1,366.6 C287.1,372.6 289.3,378.3 293.3,378.3 C294.8,378.3 295.7,376.6 297.2,376.6 C299.2,376.6 302.5,390.8 305.5,391.3 L347.7,391.3" fill="none" stroke="#28284a" stroke-width="0.9" />
<path d="M358.3,391.2 L364.5,391.2 C366.5,391.2 367.5,390.2 368.5,388.2 C369.3,364.7 371.1,324.7 372.3,324.7 C373.5,324.7 374.3,348.8 374.90000000000003,365.8 C375.3,371.8 374.9,373.3 375.4,373.8 L375.4,391.2 Z" fill="#a4a4f4" stroke="none" stroke-width="1" />
<path d="M375.4,373.8 C377.4,379.8 380.2,383.2 384.2,383.2 L383.2,391.2 L375.4,391.2 Z" fill="#6ce46c" stroke="none" stroke-width="1" />
<path d="M384.2,383.2 C385.7,383.2 384.8,384 386.3,384 C388.3,384 389.9,390.7 392.9,391.2 L437.5,391.2 L383.2,391.2 Z" fill="#f6a6a6" stroke="none" stroke-width="1" />
<path d="M358.3,391.2 L364.5,391.2 C366.5,391.2 367.5,390.2 368.5,388.2 C369.3,364.7 371.1,324.7 372.3,324.7 C373.5,324.7 374.3,348.8 374.90000000000003,365.8 C375.3,371.8 374.9,373.3 375.4,373.8 C377.4,379.8 380.2,383.2 384.2,383.2 C385.7,383.2 384.8,384 386.3,384 C388.3,384 389.9,390.7 392.9,391.2 L437.5,391.2" fill="none" stroke="#28284a" stroke-width="0.9" />
<path d="M266.3,484.1 L269.5,484.1 C271.5,484.1 272.5,483.1 273.5,481.1 C275.6,456.5 277.40000000000003,416.5 278.6,416.5 C279.8,416.5 280.6,443.9 281.20000000000005,460.9 C281.6,466.9 280.8,468.4 281.3,468.9 L281.3,484.1 Z" fill="#a4a4f4" stroke="none" stroke-width="1" />
<path d="M281.3,468.9 C283.3,474.9 285,477.4 289,477.4 L287.8,484.1 L281.3,484.1 Z" fill="#6ce46c" stroke="none" stroke-width="1" />
<path d="M289,477.4 C290.5,477.4 291.9,477 293.4,477 C295.4,477 297,483.6 300,484.1 L346.8,484.1 L287.8,484.1 Z" fill="#f6a6a6" stroke="none" stroke-width="1" />
<path d="M266.3,484.1 L269.5,484.1 C271.5,484.1 272.5,483.1 273.5,481.1 C275.6,456.5 277.40000000000003,416.5 278.6,416.5 C279.8,416.5 280.6,443.9 281.20000000000005,460.9 C281.6,466.9 280.8,468.4 281.3,468.9 C283.3,474.9 285,477.4 289,477.4 C290.5,477.4 291.9,477 293.4,477 C295.4,477 297,483.6 300,484.1 L346.8,484.1" fill="none" stroke="#28284a" stroke-width="0.9" />
<path d="M358,483.1 L363.3,483.1 C365.3,483.1 366.3,482.1 367.3,480.1 C369,457.4 370.8,417.4 372,417.4 C373.2,417.4 374,436.2 374.6,453.2 C375,459.2 374.8,460.7 375.3,461.2 L375.3,483.1 Z" fill="#a4a4f4" stroke="none" stroke-width="1" />
<path d="M375.3,461.2 C377.3,467.2 380.6,472.8 384.6,472.8 L383.8,483.1 L375.3,483.1 Z" fill="#6ce46c" stroke="none" stroke-width="1" />
<path d="M384.6,472.8 C386.1,472.8 384.4,472.5 385.9,472.5 C387.9,472.5 387.3,482.6 390.3,483.1 L438.3,483.1 L383.8,483.1 Z" fill="#f6a6a6" stroke="none" stroke-width="1" />
<path d="M358,483.1 L363.3,483.1 C365.3,483.1 366.3,482.1 367.3,480.1 C369,457.4 370.8,417.4 372,417.4 C373.2,417.4 374,436.2 374.6,453.2 C375,459.2 374.8,460.7 375.3,461.2 C377.3,467.2 380.6,472.8 384.6,472.8 C386.1,472.8 384.4,472.5 385.9,472.5 C387.9,472.5 387.3,482.6 390.3,483.1 L438.3,483.1" fill="none" stroke="#28284a" stroke-width="0.9" />
<line x1="260" y1="428.4" x2="260" y2="491.40000000000003" stroke="#000" stroke-width="2.2" />
<path d="M260,422.4 L263.4,429.9 L256.6,429.9Z" fill="#000" stroke="none" stroke-width="1" />
<line x1="258.0" y1="490.3" x2="325.7" y2="490.3" stroke="#000" stroke-width="2.2" />
<path d="M331.7,490.3 L324.2,486.90000000000003 L324.2,493.7Z" fill="#000" stroke="none" stroke-width="1" />
<text x="0" y="0" font-size="12.4" style="stroke-width:0.15px" transform="translate(256.50,481.02) rotate(-90) scale(1,1.05)">Counts</text>
<text x="278.45" y="507.10" font-size="12.5" fill="#000"  style="stroke-width:0.15px">PI</text>
<rect x="525.20" y="303.20" width="19.80" height="7.10" fill="#f87c7c" stroke="none" stroke-width="0" />
<rect x="525.20" y="317.30" width="19.80" height="6.40" fill="#5454f4" stroke="none" stroke-width="0" />
<rect x="525.20" y="330.50" width="19.80" height="6.80" fill="#acdcac" stroke="none" stroke-width="0" />
<text transform="translate(549.48,311.30) scale(1.038,1)" font-size="17.8" fill="#000" >G2/M</text>
<text transform="translate(549.50,326.70) scale(1.014,1)" font-size="17.8" fill="#000" >G1</text>
<text transform="translate(550.36,340.70) scale(1.172,1)" font-size="17.8" fill="#000" >S</text>
<line x1="509.4" y1="320.5" x2="509.4" y2="479" stroke="#000" stroke-width="1.6" />
<line x1="505.5" y1="321.2" x2="510" y2="321.2" stroke="#000" stroke-width="1.4" />
<line x1="505.5" y1="399.8" x2="510" y2="399.8" stroke="#000" stroke-width="1.4" />
<line x1="507.4" y1="478.4" x2="681.6" y2="478.4" stroke="#000" stroke-width="1.8" />
<line x1="530.7" y1="478.4" x2="530.7" y2="483.3" stroke="#000" stroke-width="1.4" />
<line x1="574.2" y1="478.4" x2="574.2" y2="483.3" stroke="#000" stroke-width="1.4" />
<line x1="617.3" y1="478.4" x2="617.3" y2="483.3" stroke="#000" stroke-width="1.4" />
<line x1="660.3" y1="478.4" x2="660.3" y2="483.3" stroke="#000" stroke-width="1.4" />
<text transform="translate(482.41,332.00) scale(1.019,1)" font-size="17" fill="#000" >120</text>
<text transform="translate(488.30,406.70) scale(0.987,1)" font-size="17" fill="#000" >60</text>
<text x="495.48" y="480.00" font-size="17" fill="#000" >0</text>
<rect x="517.00" y="347.10" width="28.00" height="25.00" fill="#f87c7c" stroke="none" stroke-width="0" />
<rect x="517.00" y="372.10" width="28.00" height="30.00" fill="#acdcac" stroke="none" stroke-width="0" />
<rect x="517.00" y="402.10" width="28.00" height="75.50" fill="#5454f4" stroke="none" stroke-width="0" />
<rect x="560.10" y="347.10" width="28.40" height="13.20" fill="#f87c7c" stroke="none" stroke-width="0" />
<rect x="560.10" y="360.30" width="28.40" height="31.20" fill="#acdcac" stroke="none" stroke-width="0" />
<rect x="560.10" y="391.50" width="28.40" height="86.10" fill="#5454f4" stroke="none" stroke-width="0" />
<rect x="603.00" y="347.10" width="28.70" height="17.80" fill="#f87c7c" stroke="none" stroke-width="0" />
<rect x="603.00" y="364.90" width="28.70" height="28.00" fill="#acdcac" stroke="none" stroke-width="0" />
<rect x="603.00" y="392.90" width="28.70" height="84.70" fill="#5454f4" stroke="none" stroke-width="0" />
<rect x="646.10" y="347.10" width="28.40" height="12.00" fill="#f87c7c" stroke="none" stroke-width="0" />
<rect x="646.10" y="359.10" width="28.40" height="38.90" fill="#acdcac" stroke="none" stroke-width="0" />
<rect x="646.10" y="398.00" width="28.40" height="79.60" fill="#5454f4" stroke="none" stroke-width="0" />
<text transform="translate(515.09,496.30) scale(1.073,1)" font-size="17" fill="#000" >Scr</text>
<text transform="translate(563.25,496.30) scale(1.115,1)" font-size="17" fill="#000" >Si</text>
<text transform="translate(603.48,496.20) scale(1.082,1)" font-size="17" fill="#000" >Scr</text>
<text transform="translate(651.88,496.20) scale(1.085,1)" font-size="17" fill="#000" >Si</text>
<line x1="517.4" y1="500.3" x2="579.9" y2="500.3" stroke="#000" stroke-width="1.2" />
<line x1="604.4" y1="500.1" x2="666" y2="500.1" stroke="#000" stroke-width="1.2" />
<text transform="translate(521.97,515.20) scale(1.012,1)" font-size="18" fill="#000" >Jurkat</text>
<text x="612.44" y="514.70" font-size="18" fill="#000" >Molt-4</text>
<text x="0" y="0" font-size="18.05" transform="translate(476.90,481.36) rotate(-90) scale(1,1.03)">The percentage of cells(%)</text>
</svg></body></html>
